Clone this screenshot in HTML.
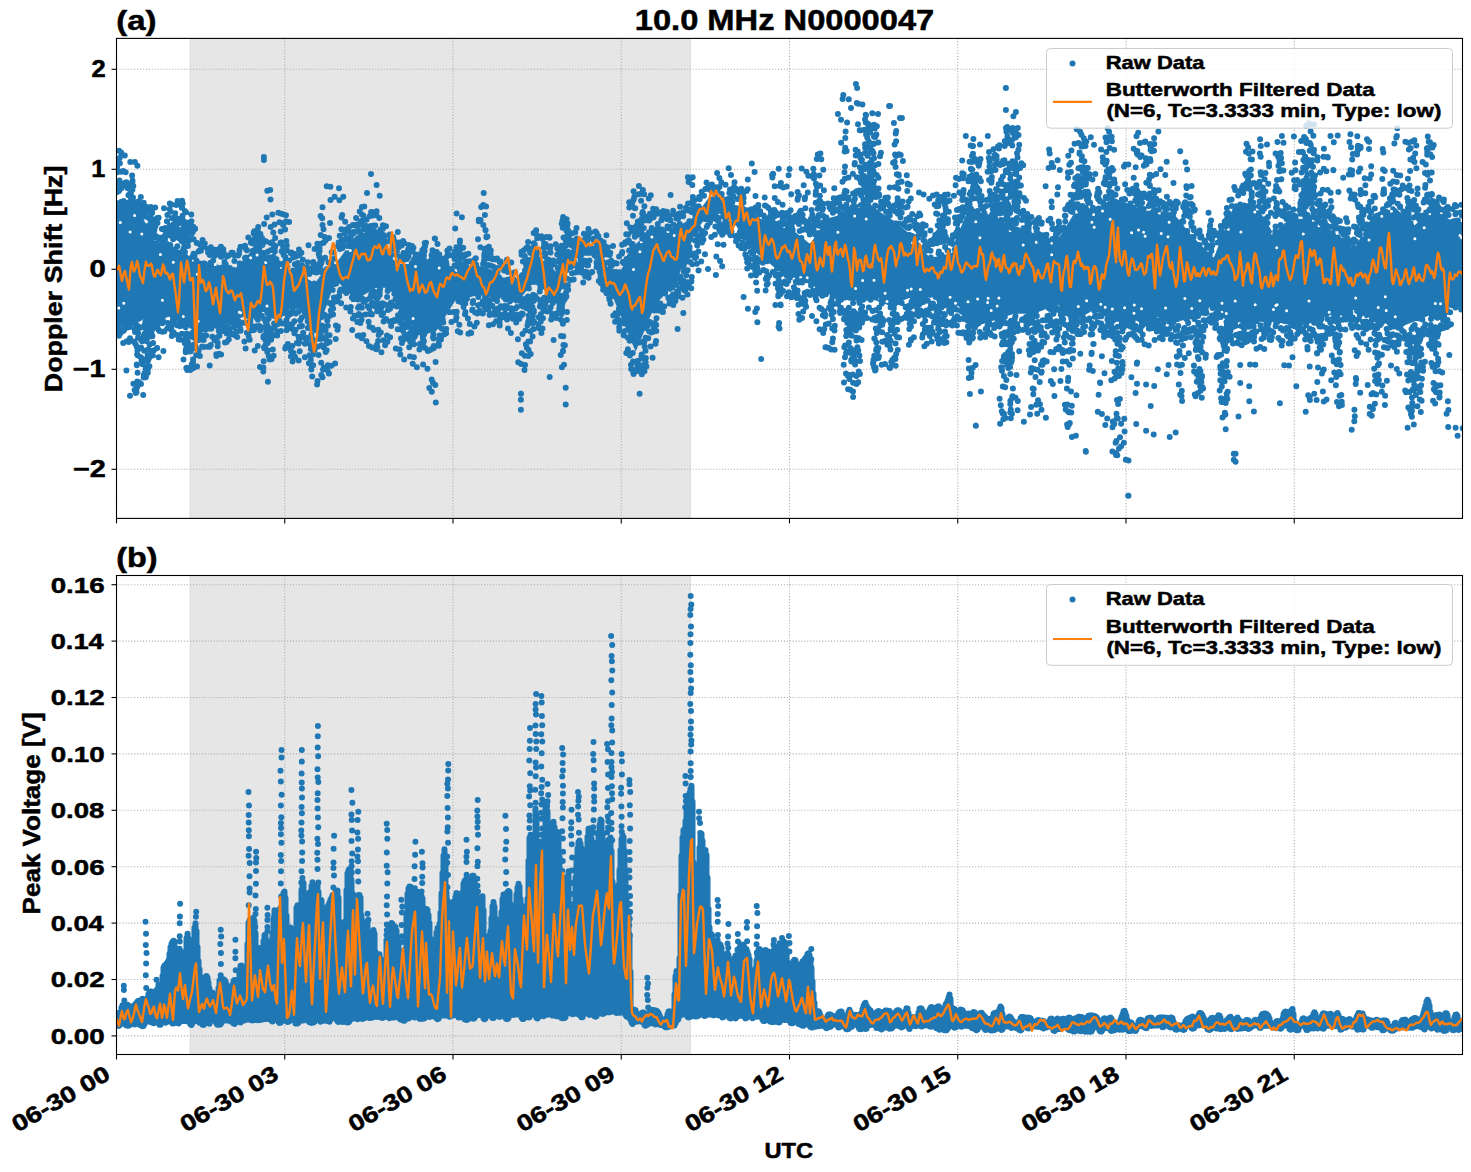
<!DOCTYPE html>
<html><head><meta charset="utf-8"><style>html,body{margin:0;padding:0;background:#fff;width:1471px;height:1172px;overflow:hidden}</style></head>
<body>
<svg width="1471" height="1172" viewBox="0 0 1471 1172" style="position:absolute;left:0;top:0">
<rect x="0" y="0" width="1471" height="1172" fill="#fff"/>
<defs><clipPath id="c1"><rect x="116.5" y="38.4" width="1346.0" height="480.0"/></clipPath><clipPath id="c2"><rect x="116.5" y="575.5" width="1346.0" height="479.0"/></clipPath></defs>
<g clip-path="url(#c1)">
<rect x="190.1" y="38.4" width="500.19999999999993" height="480.0" fill="#e6e6e6" stroke="#d9d9d9" stroke-width="1"/>
<line x1="116.50" y1="38.4" x2="116.50" y2="518.4" stroke="#b0b0b0" stroke-width="1.11" stroke-dasharray="1.11 1.83"/>
<line x1="284.75" y1="38.4" x2="284.75" y2="518.4" stroke="#b0b0b0" stroke-width="1.11" stroke-dasharray="1.11 1.83"/>
<line x1="453.00" y1="38.4" x2="453.00" y2="518.4" stroke="#b0b0b0" stroke-width="1.11" stroke-dasharray="1.11 1.83"/>
<line x1="621.25" y1="38.4" x2="621.25" y2="518.4" stroke="#b0b0b0" stroke-width="1.11" stroke-dasharray="1.11 1.83"/>
<line x1="789.50" y1="38.4" x2="789.50" y2="518.4" stroke="#b0b0b0" stroke-width="1.11" stroke-dasharray="1.11 1.83"/>
<line x1="957.75" y1="38.4" x2="957.75" y2="518.4" stroke="#b0b0b0" stroke-width="1.11" stroke-dasharray="1.11 1.83"/>
<line x1="1126.00" y1="38.4" x2="1126.00" y2="518.4" stroke="#b0b0b0" stroke-width="1.11" stroke-dasharray="1.11 1.83"/>
<line x1="1294.25" y1="38.4" x2="1294.25" y2="518.4" stroke="#b0b0b0" stroke-width="1.11" stroke-dasharray="1.11 1.83"/>
<line x1="116.5" y1="69.30" x2="1462.5" y2="69.30" stroke="#b0b0b0" stroke-width="1.11" stroke-dasharray="1.11 1.83"/>
<line x1="116.5" y1="169.30" x2="1462.5" y2="169.30" stroke="#b0b0b0" stroke-width="1.11" stroke-dasharray="1.11 1.83"/>
<line x1="116.5" y1="269.30" x2="1462.5" y2="269.30" stroke="#b0b0b0" stroke-width="1.11" stroke-dasharray="1.11 1.83"/>
<line x1="116.5" y1="369.30" x2="1462.5" y2="369.30" stroke="#b0b0b0" stroke-width="1.11" stroke-dasharray="1.11 1.83"/>
<line x1="116.5" y1="469.30" x2="1462.5" y2="469.30" stroke="#b0b0b0" stroke-width="1.11" stroke-dasharray="1.11 1.83"/>
<path d="M116.5 200 117.5 200.2 118.5 200.4 119.5 200.6 120.5 200.8 121.5 201 122.5 201.2 123.5 201.4 124.5 201.6 125.5 201.8 126.5 202 127.5 202.2 128.5 202.4 129.5 202.6 130.5 202.8 131.5 203 132.5 203.2 133.5 203.4 134.5 203.6 135.5 203.8 136.5 204.9 137.5 206.9 138.5 208.9 139.5 210.9 140.5 212.9 141.5 214.9 142.5 216.9 143.5 218.9 144.5 220.9 145.5 222.9 146.5 224.9 147.5 226.9 148.5 228.9 149.5 230.9 150.5 232.9 151.5 234.9 152.5 236.9 153.5 238.9 154.5 240.9 155.5 242.9 156.5 244 157.5 244.2 158.5 244.4 159.5 244.6 160.5 244.8 161.5 245 162.5 245.2 163.5 245.4 164.5 245.6 165.5 245.8 166.5 246 167.5 246.2 168.5 246.4 169.5 246.6 170.5 246.8 171.5 247 172.5 247.2 173.5 247.4 174.5 247.6 175.5 247.8 176.5 248.2 177.5 248.8 178.5 249.4 179.5 250 180.5 250.6 181.5 251.2 182.5 251.8 183.5 252.4 184.5 253 185.5 253.6 186.5 254.2 187.5 254.8 188.5 255.4 189.5 256 190.5 256.6 191.5 257.2 192.5 257.8 193.5 258.4 194.5 259 195.5 259.6 196.5 260 197.5 260.2 198.5 260.4 199.5 260.6 200.5 260.8 201.5 261 202.5 261.2 203.5 261.4 204.5 261.6 205.5 261.8 206.5 262 207.5 262.2 208.5 262.4 209.5 262.6 210.5 262.8 211.5 263 212.5 263.2 213.5 263.4 214.5 263.6 215.5 263.8 216.5 264.1 217.5 264.5 218.5 264.9 219.5 265.3 220.5 265.7 221.5 266.1 222.5 266.5 223.5 266.9 224.5 267.3 225.5 267.7 226.5 268.1 227.5 268.5 228.5 268.9 229.5 269.3 230.5 269.7 231.5 270.1 232.5 270.5 233.5 270.9 234.5 271.3 235.5 271.7 236.5 271 237.5 269.6 238.5 268.2 239.5 266.8 240.5 265.4 241.5 264 242.5 262.6 243.5 261.2 244.5 259.8 245.5 258.4 246.5 257 247.5 255.6 248.5 254.2 249.5 252.8 250.5 251.4 251.5 250 252.5 248.6 253.5 247.2 254.5 245.8 255.5 244.4 256.5 244.6 257.5 245.8 258.5 247 259.5 248.2 260.5 249.4 261.5 250.6 262.5 251.8 263.5 253 264.5 254.2 265.5 255.4 266.5 256.6 267.5 257.8 268.5 259 269.5 260.2 270.5 261.4 271.5 262.6 272.5 263.8 273.5 265 274.5 266.2 275.5 267.4 276.5 268 277.5 268.2 278.5 268.4 279.5 268.6 280.5 268.8 281.5 269 282.5 269.2 283.5 269.4 284.5 269.6 285.5 269.8 286.5 270 287.5 270.2 288.5 270.4 289.5 270.6 290.5 270.8 291.5 271 292.5 271.2 293.5 271.4 294.5 271.6 295.5 271.8 296.5 272.2 297.5 272.8 298.5 273.4 299.5 274 300.5 274.6 301.5 275.2 302.5 275.8 303.5 276.4 304.5 277 305.5 277.6 306.5 278.2 307.5 278.8 308.5 279.4 309.5 280 310.5 280.6 311.5 281.2 312.5 281.8 313.5 282.4 314.5 283 315.5 283.6 316.5 283.2 317.5 282.2 318.5 281.2 319.5 280.2 320.5 279.2 321.5 278.2 322.5 277.2 323.5 276.2 324.5 275.2 325.5 274.2 326.5 273.2 327.5 272.2 328.5 271.2 329.5 270.2 330.5 269.2 331.5 268.2 332.5 267.2 333.5 266.2 334.5 265.2 335.5 264.2 336.5 262.9 337.5 261.5 338.5 260.1 339.5 258.7 340.5 257.3 341.5 255.9 342.5 254.5 343.5 253.1 344.5 251.7 345.5 250.3 346.5 248.9 347.5 247.5 348.5 246.1 349.5 244.7 350.5 243.3 351.5 241.9 352.5 240.5 353.5 239.1 354.5 237.7 355.5 236.3 356.5 235.6 357.5 235.2 358.5 234.8 359.5 234.4 360.5 234 361.5 233.6 362.5 233.2 363.5 232.8 364.5 232.4 365.5 232 366.5 231.6 367.5 231.2 368.5 230.8 369.5 230.4 370.5 230 371.5 229.6 372.5 229.2 373.5 228.8 374.5 228.4 375.5 228 376.5 229.1 377.5 230.9 378.5 232.7 379.5 234.5 380.5 236.3 381.5 238.1 382.5 239.9 383.5 241.7 384.5 243.5 385.5 245.3 386.5 247.1 387.5 248.9 388.5 250.7 389.5 252.5 390.5 254.3 391.5 256.1 392.5 257.9 393.5 259.7 394.5 261.5 395.5 263.3 396.5 263.9 397.5 263.9 398.5 263.9 399.5 263.9 400.5 263.9 401.5 263.9 402.5 263.9 403.5 263.9 404.5 263.9 405.5 263.9 406.5 263.9 407.5 263.9 408.5 263.9 409.5 263.9 410.5 263.9 411.5 263.9 412.5 263.9 413.5 263.9 414.5 263.9 415.5 263.9 416.5 263.6 417.5 263.2 418.5 262.8 419.5 262.4 420.5 262 421.5 261.6 422.5 261.2 423.5 260.8 424.5 260.4 425.5 260 426.5 259.6 427.5 259.2 428.5 258.8 429.5 258.4 430.5 258 431.5 257.6 432.5 257.2 433.5 256.8 434.5 256.4 435.5 256 436.5 256.4 437.5 257.2 438.5 258 439.5 258.8 440.5 259.6 441.5 260.4 442.5 261.2 443.5 262 444.5 262.8 445.5 263.6 446.5 264.4 447.5 265.2 448.5 266 449.5 266.8 450.5 267.6 451.5 268.4 452.5 269.2 453.5 270 454.5 270.8 455.5 271.6 456.5 271.9 457.5 271.9 458.5 271.9 459.5 271.9 460.5 271.9 461.5 271.9 462.5 271.9 463.5 271.9 464.5 271.9 465.5 271.9 466.5 271.9 467.5 271.9 468.5 271.9 469.5 271.9 470.5 271.9 471.5 271.9 472.5 271.9 473.5 271.9 474.5 271.9 475.5 271.9 476.5 272 477.5 272.2 478.5 272.4 479.5 272.6 480.5 272.8 481.5 273 482.5 273.2 483.5 273.4 484.5 273.6 485.5 273.8 486.5 274 487.5 274.2 488.5 274.4 489.5 274.6 490.5 274.8 491.5 275 492.5 275.2 493.5 275.4 494.5 275.6 495.5 275.8 496.5 276 497.5 276.2 498.5 276.4 499.5 276.6 500.5 276.8 501.5 277 502.5 277.2 503.5 277.4 504.5 277.6 505.5 277.8 506.5 278 507.5 278.2 508.5 278.4 509.5 278.6 510.5 278.8 511.5 279 512.5 279.2 513.5 279.4 514.5 279.6 515.5 279.8 516.5 278.6 517.5 277 518.5 275.4 519.5 273.8 520.5 272.2 521.5 270.6 522.5 269 523.5 267.4 524.5 265.8 525.5 264.2 526.5 262.6 527.5 261 528.5 259.4 529.5 257.8 530.5 256.2 531.5 254.6 532.5 253 533.5 251.4 534.5 249.8 535.5 248.2 536.5 248.8 537.5 250 538.5 251.2 539.5 252.4 540.5 253.6 541.5 254.8 542.5 256 543.5 257.2 544.5 258.4 545.5 259.6 546.5 260.8 547.5 262 548.5 263.2 549.5 264.4 550.5 265.6 551.5 266.8 552.5 268 553.5 269.2 554.5 270.4 555.5 271.6 556.5 270.7 557.5 269.3 558.5 267.9 559.5 266.5 560.5 265.1 561.5 263.7 562.5 262.3 563.5 260.9 564.5 259.5 565.5 258.1 566.5 256.7 567.5 255.3 568.5 253.9 569.5 252.5 570.5 251.1 571.5 249.7 572.5 248.3 573.5 246.9 574.5 245.5 575.5 244.1 576.5 244 577.5 244.2 578.5 244.4 579.5 244.6 580.5 244.8 581.5 245 582.5 245.2 583.5 245.4 584.5 245.6 585.5 245.8 586.5 246 587.5 246.2 588.5 246.4 589.5 246.6 590.5 246.8 591.5 247 592.5 247.2 593.5 247.4 594.5 247.6 595.5 247.8 596.5 249.2 597.5 250.8 598.5 252.4 599.5 254 600.5 255.6 601.5 257.2 602.5 258.8 603.5 260.4 604.5 262 605.5 263.6 606.5 265.2 607.5 266.8 608.5 268.4 609.5 270 610.5 271.6 611.5 273.2 612.5 274.8 613.5 276.4 614.5 278 615.5 279.6 616.5 278.3 617.5 276.5 618.5 274.7 619.5 272.9 620.5 271.1 621.5 269.3 622.5 267.5 623.5 265.7 624.5 263.9 625.5 262.1 626.5 260.3 627.5 258.5 628.5 256.7 629.5 254.9 630.5 253.1 631.5 251.3 632.5 249.5 633.5 247.7 634.5 245.9 635.5 244.1 636.5 243.2 637.5 242.4 638.5 241.6 639.5 240.8 640.5 240 641.5 239.2 642.5 238.4 643.5 237.6 644.5 236.8 645.5 236 646.5 235.2 647.5 234.4 648.5 233.6 649.5 232.8 650.5 232 651.5 231.2 652.5 230.4 653.5 229.6 654.5 228.8 655.5 228 656.5 227.9 657.5 227.9 658.5 227.9 659.5 227.9 660.5 227.9 661.5 227.9 662.5 227.9 663.5 227.9 664.5 227.9 665.5 227.9 666.5 227.9 667.5 227.9 668.5 227.9 669.5 227.9 670.5 227.9 671.5 227.9 672.5 227.9 673.5 227.9 674.5 227.9 675.5 227.9 676.5 227.4 677.5 226.8 678.5 226.2 679.5 225.6 680.5 225 681.5 224.4 682.5 223.8 683.5 223.2 684.5 222.6 685.5 222 686.5 221.4 687.5 220.8 688.5 220.2 689.5 219.6 690.5 219 691.5 218.4 692.5 217.8 693.5 217.2 694.5 216.6 695.5 216 696.5 214.6 697.5 213.3 698.5 211.9 699.5 210.5 700.5 209.1 701.5 207.7 702.5 206.3 703.5 204.9 704.5 203.5 705.5 202.1 706.5 200.8 707.5 199.4 708.5 198 709.5 196.6 710.5 196.1 711.5 196.5 712.5 196.9 713.5 197.3 714.5 197.7 715.5 198.1 716.5 198.5 717.5 198.9 718.5 199.3 719.5 199.7 720.5 200.1 721.5 200.5 722.5 200.9 723.5 201.3 724.5 201.7 725.5 202.1 726.5 202.5 727.5 202.9 728.5 203.3 729.5 203.7 730.5 204 731.5 204.2 732.5 204.4 733.5 204.6 734.5 204.8 735.5 205 736.5 205.2 737.5 205.4 738.5 205.6 739.5 205.8 740.5 206 741.5 206.2 742.5 206.4 743.5 206.6 744.5 206.8 745.5 207 746.5 207.2 747.5 207.4 748.5 207.6 749.5 207.8 750.5 208.4 751.5 209.4 752.5 210.4 753.5 211.4 754.5 212.4 755.5 213.4 756.5 214.4 757.5 215.4 758.5 216.4 759.5 217.4 760.5 218.4 761.5 219.4 762.5 220.4 763.5 221.4 764.5 222.4 765.5 223.4 766.5 224.4 767.5 225.4 768.5 226.4 769.5 227.4 770.5 227.9 771.5 227.9 772.5 227.9 773.5 227.9 774.5 227.9 775.5 227.9 776.5 227.9 777.5 227.9 778.5 227.9 779.5 227.9 780.5 227.9 781.5 227.9 782.5 227.9 783.5 227.9 784.5 227.9 785.5 227.9 786.5 227.9 787.5 227.9 788.5 227.9 789.5 227.9 790.5 228.3 791.5 229.1 792.5 229.9 793.5 230.7 794.5 231.5 795.5 232.3 796.5 233.1 797.5 233.9 798.5 234.7 799.5 235.5 800.5 236.3 801.5 237.1 802.5 237.9 803.5 238.7 804.5 239.5 805.5 240.3 806.5 241.1 807.5 241.9 808.5 242.7 809.5 243.5 810.5 243.1 811.5 241.7 812.5 240.3 813.5 238.9 814.5 237.5 815.5 236.1 816.5 234.7 817.5 233.3 818.5 231.9 819.5 230.5 820.5 229.1 821.5 227.9 822.5 226.7 823.5 225.4 824.5 224.2 825.5 223 826.5 221.7 827.5 220.5 828.5 219.3 829.5 218 830.5 217.4 831.5 217.2 832.5 216.9 833.5 216.7 834.5 216.5 835.5 216.2 836.5 216 837.5 215.8 838.5 215.5 839.5 215.3 840.5 215.1 841.5 214.8 842.5 214.6 843.5 214.4 844.5 214.1 845.5 213.9 846.5 213.7 847.5 213.4 848.5 213.2 849.5 213 850.5 212.6 851.5 212.2 852.5 211.7 853.5 211.3 854.5 210.9 855.5 210.4 856.5 210 857.5 209.6 858.5 209.1 859.5 208.7 860.5 208.3 861.5 207.8 862.5 207.4 863.5 207 864.5 206.5 865.5 206.1 866.5 205.7 867.5 205.2 868.5 204.8 869.5 204.4 870.5 204.7 871.5 205.5 872.5 206.2 873.5 207 874.5 207.8 875.5 208.5 876.5 209.3 877.5 210.1 878.5 210.8 879.5 211.6 880.5 212.3 881.5 212.9 882.5 213.5 883.5 214.1 884.5 214.7 885.5 215.3 886.5 215.9 887.5 216.5 888.5 217.1 889.5 217.7 890.5 218.4 891.5 219.2 892.5 220 893.5 220.8 894.5 221.6 895.5 222.4 896.5 223.2 897.5 224 898.5 224.8 899.5 225.6 900.5 226.4 901.5 227.2 902.5 228 903.5 228.8 904.5 229.6 905.5 230.4 906.5 231.2 907.5 232 908.5 232.8 909.5 233.6 910.5 234.7 911.5 235.9 912.5 237.1 913.5 238.3 914.5 239.5 915.5 240.7 916.5 241.9 917.5 243.1 918.5 244.3 919.5 245.5 920.5 246.7 921.5 247.9 922.5 249.1 923.5 250.3 924.5 251.5 925.5 252.7 926.5 253.9 927.5 255.1 928.5 256.3 929.5 257.5 930.5 257.7 931.5 257.5 932.5 257.3 933.5 257.1 934.5 256.9 935.5 256.7 936.5 256.5 937.5 256.3 938.5 256.1 939.5 255.9 940.5 255.7 941.5 255.5 942.5 255.3 943.5 255.1 944.5 254.9 945.5 254.7 946.5 254.5 947.5 254.3 948.5 254.1 949.5 253.9 950.5 252.2 951.5 249.8 952.5 247.4 953.5 245 954.5 242.6 955.5 240.2 956.5 237.8 957.5 235.4 958.5 233 959.5 230.6 960.5 228.2 961.5 225.8 962.5 223.4 963.5 221 964.5 218.6 965.5 216.2 966.5 213.8 967.5 211.4 968.5 209 969.5 206.6 970.5 206.3 971.5 206.9 972.5 207.5 973.5 208.1 974.5 208.7 975.5 209.3 976.5 209.9 977.5 210.5 978.5 211.1 979.5 211.7 980.5 212.3 981.5 212.9 982.5 213.5 983.5 214.1 984.5 214.7 985.5 215.3 986.5 215.9 987.5 216.5 988.5 217.1 989.5 217.7 990.5 218.1 991.5 218.5 992.5 218.8 993.5 219.1 994.5 219.5 995.5 219.8 996.5 220.1 997.5 220.5 998.5 220.8 999.5 221.1 1000.5 221.4 1001.5 221.8 1002.5 222.1 1003.5 222.4 1004.5 222.8 1005.5 223.1 1006.5 223.4 1007.5 223.8 1008.5 224.1 1009.5 224.4 1010.5 224.8 1011.5 225.1 1012.5 225.4 1013.5 225.8 1014.5 226.1 1015.5 226.5 1016.5 226.9 1017.5 227.3 1018.5 227.7 1019.5 228.1 1020.5 228.5 1021.5 228.9 1022.5 229.3 1023.5 229.7 1024.5 230.1 1025.5 230.5 1026.5 230.9 1027.5 231.3 1028.5 231.7 1029.5 232.1 1030.5 232.5 1031.5 232.9 1032.5 233.3 1033.5 233.7 1034.5 234.3 1035.5 234.9 1036.5 235.5 1037.5 236.1 1038.5 236.7 1039.5 237.3 1040.5 237.9 1041.5 238.5 1042.5 239.1 1043.5 239.7 1044.5 240.3 1045.5 240.9 1046.5 241.5 1047.5 242.1 1048.5 242.7 1049.5 243.3 1050.5 243.9 1051.5 244.5 1052.5 245.1 1053.5 245.7 1054.5 244.9 1055.5 243.3 1056.5 241.7 1057.5 240.1 1058.5 238.5 1059.5 236.9 1060.5 235.3 1061.5 233.7 1062.5 232.1 1063.5 230.5 1064.5 228.9 1065.5 227.3 1066.5 225.7 1067.5 224.1 1068.5 222.5 1069.5 220.9 1070.5 219.3 1071.5 217.7 1072.5 216.1 1073.5 214.5 1074.5 213.8 1075.5 213.6 1076.5 213.4 1077.5 213.2 1078.5 213 1079.5 212.8 1080.5 212.6 1081.5 212.4 1082.5 212.2 1083.5 212 1084.5 211.8 1085.5 211.6 1086.5 211.4 1087.5 211.2 1088.5 211 1089.5 210.8 1090.5 210.6 1091.5 210.4 1092.5 210.2 1093.5 210 1094.5 209.5 1095.5 208.9 1096.5 208.3 1097.5 207.7 1098.5 207.1 1099.5 206.5 1100.5 205.9 1101.5 205.3 1102.5 204.7 1103.5 204.1 1104.5 203.5 1105.5 202.9 1106.5 202.3 1107.5 201.7 1108.5 201.1 1109.5 200.5 1110.5 199.9 1111.5 199.3 1112.5 198.7 1113.5 198.1 1114.5 198.2 1115.5 198.6 1116.5 199 1117.5 199.4 1118.5 199.8 1119.5 200.2 1120.5 200.6 1121.5 201 1122.5 201.4 1123.5 201.8 1124.5 202.2 1125.5 202.6 1126.5 203 1127.5 203.4 1128.5 203.8 1129.5 204.2 1130.5 204.6 1131.5 205 1132.5 205.4 1133.5 205.8 1134.5 206.3 1135.5 206.9 1136.5 207.5 1137.5 208.1 1138.5 208.7 1139.5 209.3 1140.5 209.9 1141.5 210.5 1142.5 211.1 1143.5 211.7 1144.5 212.3 1145.5 212.9 1146.5 213.5 1147.5 214.1 1148.5 214.7 1149.5 215.3 1150.5 215.9 1151.5 216.5 1152.5 217.1 1153.5 217.7 1154.5 217.8 1155.5 217.6 1156.5 217.4 1157.5 217.2 1158.5 217 1159.5 216.8 1160.5 216.6 1161.5 216.4 1162.5 216.2 1163.5 216 1164.5 215.8 1165.5 215.6 1166.5 215.4 1167.5 215.2 1168.5 215 1169.5 214.8 1170.5 214.6 1171.5 214.4 1172.5 214.2 1173.5 214 1174.5 214.7 1175.5 215.9 1176.5 217.1 1177.5 218.3 1178.5 219.5 1179.5 220.7 1180.5 221.9 1181.5 223.1 1182.5 224.3 1183.5 225.5 1184.5 226.7 1185.5 227.9 1186.5 229.1 1187.5 230.3 1188.5 231.5 1189.5 232.7 1190.5 233.9 1191.5 235.1 1192.5 236.3 1193.5 237.5 1194.5 238.6 1195.5 239.6 1196.5 240.6 1197.5 241.6 1198.5 242.6 1199.5 243.6 1200.5 244.6 1201.5 245.6 1202.5 246.6 1203.5 247.6 1204.5 248.6 1205.5 249.6 1206.5 250.6 1207.5 251.6 1208.5 252.6 1209.5 253.6 1210.5 254.6 1211.5 255.6 1212.5 256.6 1213.5 257.6 1214.5 256 1215.5 253.4 1216.5 250.8 1217.5 248.2 1218.5 245.6 1219.5 243 1220.5 240.4 1221.5 237.8 1222.5 235.2 1223.5 232.6 1224.5 230 1225.5 227.4 1226.5 224.8 1227.5 222.2 1228.5 219.6 1229.5 217 1230.5 214.4 1231.5 211.8 1232.5 209.2 1233.5 206.6 1234.5 205.8 1235.5 205.6 1236.5 205.4 1237.5 205.2 1238.5 205 1239.5 204.8 1240.5 204.6 1241.5 204.4 1242.5 204.2 1243.5 204 1244.5 203.8 1245.5 203.6 1246.5 203.4 1247.5 203.2 1248.5 203 1249.5 202.8 1250.5 202.6 1251.5 202.4 1252.5 202.2 1253.5 202 1254.5 203.1 1255.5 204.7 1256.5 206.3 1257.5 207.9 1258.5 209.5 1259.5 211.1 1260.5 212.7 1261.5 214.3 1262.5 215.9 1263.5 217.5 1264.5 219.1 1265.5 220.7 1266.5 222.3 1267.5 223.9 1268.5 225.5 1269.5 227.1 1270.5 228.7 1271.5 230.3 1272.5 231.9 1273.5 233.5 1274.5 233.4 1275.5 232.8 1276.5 232.2 1277.5 231.6 1278.5 231 1279.5 230.4 1280.5 229.8 1281.5 229.2 1282.5 228.6 1283.5 228 1284.5 227.4 1285.5 226.8 1286.5 226.2 1287.5 225.6 1288.5 225 1289.5 224.4 1290.5 223.8 1291.5 223.2 1292.5 222.6 1293.5 222 1294.5 221.6 1295.5 221.2 1296.5 220.8 1297.5 220.4 1298.5 220 1299.5 219.6 1300.5 219.2 1301.5 218.8 1302.5 218.4 1303.5 218 1304.5 217.6 1305.5 217.2 1306.5 216.8 1307.5 216.4 1308.5 216 1309.5 215.6 1310.5 215.2 1311.5 214.8 1312.5 214.4 1313.5 214 1314.5 214.7 1315.5 215.7 1316.5 216.7 1317.5 217.7 1318.5 218.7 1319.5 219.7 1320.5 220.7 1321.5 221.7 1322.5 222.7 1323.5 223.7 1324.5 224.7 1325.5 225.7 1326.5 226.7 1327.5 227.7 1328.5 228.7 1329.5 229.7 1330.5 230.7 1331.5 231.7 1332.5 232.7 1333.5 233.7 1334.5 234.5 1335.5 235.3 1336.5 236.1 1337.5 236.9 1338.5 237.7 1339.5 238.5 1340.5 239.3 1341.5 240.1 1342.5 240.9 1343.5 241.7 1344.5 242.5 1345.5 243.3 1346.5 244.1 1347.5 244.9 1348.5 245.7 1349.5 246.5 1350.5 247.3 1351.5 248.1 1352.5 248.9 1353.5 249.7 1354.5 248.4 1355.5 246.6 1356.5 244.8 1357.5 243 1358.5 241.2 1359.5 239.4 1360.5 237.6 1361.5 235.8 1362.5 234 1363.5 232.2 1364.5 230.4 1365.5 228.6 1366.5 226.8 1367.5 225 1368.5 223.2 1369.5 221.4 1370.5 219.6 1371.5 217.8 1372.5 216 1373.5 214.2 1374.5 213.6 1375.5 213.2 1376.5 212.8 1377.5 212.4 1378.5 212 1379.5 211.6 1380.5 211.2 1381.5 210.8 1382.5 210.4 1383.5 210 1384.5 209.6 1385.5 209.2 1386.5 208.8 1387.5 208.4 1388.5 208 1389.5 207.6 1390.5 207.2 1391.5 206.8 1392.5 206.4 1393.5 206 1394.5 206.8 1395.5 207.8 1396.5 208.8 1397.5 209.8 1398.5 210.8 1399.5 211.8 1400.5 212.8 1401.5 213.8 1402.5 214.8 1403.5 215.8 1404.5 216.8 1405.5 217.8 1406.5 218.8 1407.5 219.8 1408.5 220.8 1409.5 221.8 1410.5 222.8 1411.5 223.8 1412.5 224.8 1413.5 225.8 1414.5 225.2 1415.5 224.4 1416.5 223.6 1417.5 222.8 1418.5 222 1419.5 221.2 1420.5 220.4 1421.5 219.6 1422.5 218.8 1423.5 218 1424.5 217.2 1425.5 216.4 1426.5 215.6 1427.5 214.8 1428.5 214 1429.5 213.2 1430.5 212.4 1431.5 211.6 1432.5 210.8 1433.5 210 1434.5 210.4 1435.5 211 1436.5 211.6 1437.5 212.2 1438.5 212.8 1439.5 213.4 1440.5 214 1441.5 214.6 1442.5 215.2 1443.5 215.8 1444.5 216.4 1445.5 217 1446.5 217.6 1447.5 218.2 1448.5 218.8 1449.5 219.4 1450.5 220 1451.5 220.6 1452.5 221.2 1453.5 221.8 1454.5 221.9 1455.5 221.9 1456.5 221.9 1457.5 221.9 1458.5 221.9 1459.5 221.9 1460.5 221.9 1461.5 221.9 1462.5 221.9 1462.5 305.8 1461.5 305.8 1460.5 305.8 1459.5 305.8 1458.5 305.8 1457.5 305.8 1456.5 305.8 1455.5 305.8 1454.5 305.8 1453.5 305.8 1452.5 306.2 1451.5 306.6 1450.5 307 1449.5 307.4 1448.5 307.8 1447.5 308.2 1446.5 308.6 1445.5 309 1444.5 309.4 1443.5 309.8 1442.5 310.2 1441.5 310.6 1440.5 311 1439.5 311.4 1438.5 311.8 1437.5 312.2 1436.5 312.6 1435.5 313 1434.5 313.4 1433.5 313.8 1432.5 314.2 1431.5 314.6 1430.5 315 1429.5 315.4 1428.5 315.8 1427.5 316.2 1426.5 316.6 1425.5 317 1424.5 317.4 1423.5 317.8 1422.5 318.2 1421.5 318.6 1420.5 319 1419.5 319.4 1418.5 319.8 1417.5 320.2 1416.5 320.6 1415.5 321 1414.5 321.4 1413.5 321.8 1412.5 322.2 1411.5 322.6 1410.5 323 1409.5 323.4 1408.5 323.8 1407.5 324.2 1406.5 324.6 1405.5 325 1404.5 325.4 1403.5 325.8 1402.5 326.2 1401.5 326.6 1400.5 327 1399.5 327.4 1398.5 327.8 1397.5 328.2 1396.5 328.6 1395.5 329 1394.5 329.4 1393.5 329.7 1392.5 328.9 1391.5 328.1 1390.5 327.3 1389.5 326.5 1388.5 325.7 1387.5 324.9 1386.5 324.1 1385.5 323.3 1384.5 322.5 1383.5 321.7 1382.5 320.9 1381.5 320.1 1380.5 319.3 1379.5 318.5 1378.5 317.7 1377.5 316.9 1376.5 316.1 1375.5 315.3 1374.5 314.5 1373.5 313.8 1372.5 313.6 1371.5 313.4 1370.5 313.2 1369.5 313 1368.5 312.8 1367.5 312.6 1366.5 312.4 1365.5 312.2 1364.5 312 1363.5 311.8 1362.5 311.6 1361.5 311.4 1360.5 311.2 1359.5 311 1358.5 310.8 1357.5 310.6 1356.5 310.4 1355.5 310.2 1354.5 310 1353.5 309.8 1352.5 310 1351.5 310.2 1350.5 310.4 1349.5 310.6 1348.5 310.8 1347.5 311 1346.5 311.2 1345.5 311.4 1344.5 311.6 1343.5 311.8 1342.5 312 1341.5 312.2 1340.5 312.4 1339.5 312.6 1338.5 312.8 1337.5 313 1336.5 313.2 1335.5 313.4 1334.5 313.6 1333.5 313.9 1332.5 314.3 1331.5 314.7 1330.5 315.1 1329.5 315.5 1328.5 315.9 1327.5 316.3 1326.5 316.7 1325.5 317.1 1324.5 317.5 1323.5 317.9 1322.5 318.3 1321.5 318.7 1320.5 319.1 1319.5 319.5 1318.5 319.9 1317.5 320.3 1316.5 320.7 1315.5 321.1 1314.5 321.5 1313.5 321.8 1312.5 322 1311.5 322.2 1310.5 322.4 1309.5 322.6 1308.5 322.8 1307.5 323 1306.5 323.2 1305.5 323.4 1304.5 323.6 1303.5 323.8 1302.5 324 1301.5 324.2 1300.5 324.4 1299.5 324.6 1298.5 324.8 1297.5 325 1296.5 325.2 1295.5 325.4 1294.5 325.6 1293.5 325.7 1292.5 325.5 1291.5 325.3 1290.5 325.1 1289.5 324.9 1288.5 324.7 1287.5 324.5 1286.5 324.3 1285.5 324.1 1284.5 323.9 1283.5 323.7 1282.5 323.5 1281.5 323.3 1280.5 323.1 1279.5 322.9 1278.5 322.7 1277.5 322.5 1276.5 322.3 1275.5 322.1 1274.5 321.9 1273.5 321.8 1272.5 321.8 1271.5 321.8 1270.5 321.8 1269.5 321.8 1268.5 321.8 1267.5 321.8 1266.5 321.8 1265.5 321.8 1264.5 321.8 1263.5 321.8 1262.5 321.8 1261.5 321.8 1260.5 321.8 1259.5 321.8 1258.5 321.8 1257.5 321.8 1256.5 321.8 1255.5 321.8 1254.5 321.8 1253.5 321.9 1252.5 322.3 1251.5 322.7 1250.5 323.1 1249.5 323.5 1248.5 323.9 1247.5 324.3 1246.5 324.7 1245.5 325.1 1244.5 325.5 1243.5 325.9 1242.5 326.3 1241.5 326.7 1240.5 327.1 1239.5 327.5 1238.5 327.9 1237.5 328.3 1236.5 328.7 1235.5 329.1 1234.5 329.5 1233.5 329.5 1232.5 328.3 1231.5 327.1 1230.5 325.9 1229.5 324.7 1228.5 323.5 1227.5 322.3 1226.5 321.1 1225.5 319.9 1224.5 318.7 1223.5 317.5 1222.5 316.3 1221.5 315.1 1220.5 313.9 1219.5 312.7 1218.5 311.5 1217.5 310.3 1216.5 309.1 1215.5 307.9 1214.5 306.7 1213.5 305.9 1212.5 306.3 1211.5 306.7 1210.5 307.1 1209.5 307.5 1208.5 307.9 1207.5 308.3 1206.5 308.7 1205.5 309.1 1204.5 309.5 1203.5 309.9 1202.5 310.3 1201.5 310.7 1200.5 311.1 1199.5 311.5 1198.5 311.9 1197.5 312.3 1196.5 312.7 1195.5 313.1 1194.5 313.5 1193.5 313.9 1192.5 314.3 1191.5 314.7 1190.5 315.1 1189.5 315.5 1188.5 315.9 1187.5 316.3 1186.5 316.7 1185.5 317.1 1184.5 317.5 1183.5 317.9 1182.5 318.3 1181.5 318.7 1180.5 319.1 1179.5 319.5 1178.5 319.9 1177.5 320.3 1176.5 320.7 1175.5 321.1 1174.5 321.5 1173.5 321.8 1172.5 321.8 1171.5 321.8 1170.5 321.8 1169.5 321.8 1168.5 321.8 1167.5 321.8 1166.5 321.8 1165.5 321.8 1164.5 321.8 1163.5 321.8 1162.5 321.8 1161.5 321.8 1160.5 321.8 1159.5 321.8 1158.5 321.8 1157.5 321.8 1156.5 321.8 1155.5 321.8 1154.5 321.8 1153.5 321.8 1152.5 321.8 1151.5 321.8 1150.5 321.8 1149.5 321.8 1148.5 321.8 1147.5 321.8 1146.5 321.8 1145.5 321.8 1144.5 321.8 1143.5 321.8 1142.5 321.8 1141.5 321.8 1140.5 321.8 1139.5 321.8 1138.5 321.8 1137.5 321.8 1136.5 321.8 1135.5 321.8 1134.5 321.8 1133.5 321.8 1132.5 321.8 1131.5 321.8 1130.5 321.8 1129.5 321.8 1128.5 321.8 1127.5 321.8 1126.5 321.8 1125.5 321.8 1124.5 321.8 1123.5 321.8 1122.5 321.8 1121.5 321.8 1120.5 321.8 1119.5 321.8 1118.5 321.8 1117.5 321.8 1116.5 321.8 1115.5 321.8 1114.5 321.8 1113.5 321.6 1112.5 321 1111.5 320.4 1110.5 319.8 1109.5 319.2 1108.5 318.6 1107.5 318 1106.5 317.4 1105.5 316.8 1104.5 316.2 1103.5 315.6 1102.5 315 1101.5 314.4 1100.5 313.8 1099.5 313.2 1098.5 312.6 1097.5 312 1096.5 311.4 1095.5 310.8 1094.5 310.2 1093.5 310 1092.5 310.6 1091.5 311.2 1090.5 311.8 1089.5 312.4 1088.5 313 1087.5 313.6 1086.5 314.2 1085.5 314.8 1084.5 315.4 1083.5 316 1082.5 316.6 1081.5 317.2 1080.5 317.8 1079.5 318.4 1078.5 319 1077.5 319.6 1076.5 320.2 1075.5 320.8 1074.5 321.4 1073.5 321.5 1072.5 320.7 1071.5 319.9 1070.5 319.1 1069.5 318.3 1068.5 317.5 1067.5 316.7 1066.5 315.9 1065.5 315.1 1064.5 314.3 1063.5 313.5 1062.5 312.7 1061.5 311.9 1060.5 311.1 1059.5 310.3 1058.5 309.5 1057.5 308.7 1056.5 307.9 1055.5 307.1 1054.5 306.3 1053.5 306 1052.5 306.4 1051.5 306.8 1050.5 307.2 1049.5 307.6 1048.5 308 1047.5 308.4 1046.5 308.8 1045.5 309.2 1044.5 309.6 1043.5 310 1042.5 310.4 1041.5 310.8 1040.5 311.2 1039.5 311.6 1038.5 312 1037.5 312.4 1036.5 312.8 1035.5 313.2 1034.5 313.6 1033.5 313.8 1032.5 313.8 1031.5 313.8 1030.5 313.8 1029.5 313.8 1028.5 313.8 1027.5 313.8 1026.5 313.8 1025.5 313.8 1024.5 313.8 1023.5 313.8 1022.5 313.8 1021.5 313.8 1020.5 313.8 1019.5 313.8 1018.5 313.8 1017.5 313.8 1016.5 313.8 1015.5 313.8 1014.5 313.8 1013.5 313.9 1012.5 314.3 1011.5 314.6 1010.5 314.9 1009.5 315.3 1008.5 315.6 1007.5 315.9 1006.5 316.3 1005.5 316.6 1004.5 316.9 1003.5 317.2 1002.5 317.6 1001.5 317.9 1000.5 318.2 999.5 318.6 998.5 318.9 997.5 319.2 996.5 319.6 995.5 319.9 994.5 320.2 993.5 320.6 992.5 320.9 991.5 321.2 990.5 321.6 989.5 321.8 988.5 321.8 987.5 321.8 986.5 321.8 985.5 321.8 984.5 321.8 983.5 321.8 982.5 321.8 981.5 321.8 980.5 321.8 979.5 321.8 978.5 321.8 977.5 321.8 976.5 321.8 975.5 321.8 974.5 321.8 973.5 321.8 972.5 321.8 971.5 321.8 970.5 321.8 969.5 321.5 968.5 320.7 967.5 319.9 966.5 319.1 965.5 318.3 964.5 317.5 963.5 316.7 962.5 315.9 961.5 315.1 960.5 314.3 959.5 313.5 958.5 312.7 957.5 311.9 956.5 311.1 955.5 310.3 954.5 309.5 953.5 308.7 952.5 307.9 951.5 307.1 950.5 306.3 949.5 305.7 948.5 305.3 947.5 304.9 946.5 304.5 945.5 304.1 944.5 303.7 943.5 303.3 942.5 302.9 941.5 302.5 940.5 302.1 939.5 301.7 938.5 301.3 937.5 300.9 936.5 300.5 935.5 300.1 934.5 299.7 933.5 299.3 932.5 298.9 931.5 298.5 930.5 298.1 929.5 297.8 928.5 297.8 927.5 297.8 926.5 297.8 925.5 297.8 924.5 297.8 923.5 297.8 922.5 297.8 921.5 297.8 920.5 297.8 919.5 297.8 918.5 297.8 917.5 297.8 916.5 297.8 915.5 297.8 914.5 297.8 913.5 297.8 912.5 297.8 911.5 297.8 910.5 297.8 909.5 297.9 908.5 298.3 907.5 298.7 906.5 299.1 905.5 299.5 904.5 299.9 903.5 300.3 902.5 300.7 901.5 301.1 900.5 301.5 899.5 301.9 898.5 302.3 897.5 302.7 896.5 303.1 895.5 303.5 894.5 303.9 893.5 304.3 892.5 304.7 891.5 305.1 890.5 305.5 889.5 305.7 888.5 305.3 887.5 304.9 886.5 304.5 885.5 304.1 884.5 303.7 883.5 303.3 882.5 302.9 881.5 302.5 880.5 302.1 879.5 301.7 878.5 301.4 877.5 301.1 876.5 300.8 875.5 300.5 874.5 300.2 873.5 299.9 872.5 299.6 871.5 299.3 870.5 299 869.5 298.9 868.5 299 867.5 299.1 866.5 299.2 865.5 299.3 864.5 299.4 863.5 299.5 862.5 299.6 861.5 299.7 860.5 299.8 859.5 299.9 858.5 300 857.5 300.1 856.5 300.2 855.5 300.3 854.5 300.4 853.5 300.5 852.5 300.6 851.5 300.7 850.5 300.8 849.5 300.7 848.5 300.4 847.5 300.1 846.5 299.8 845.5 299.5 844.5 299.2 843.5 298.9 842.5 298.6 841.5 298.3 840.5 298 839.5 297.7 838.5 297.4 837.5 297.1 836.5 296.8 835.5 296.5 834.5 296.2 833.5 295.9 832.5 295.6 831.5 295.3 830.5 295 829.5 294.6 828.5 294.1 827.5 293.6 826.5 293.1 825.5 292.6 824.5 292.1 823.5 291.6 822.5 291.1 821.5 290.6 820.5 290.1 819.5 289.6 818.5 289 817.5 288.4 816.5 287.8 815.5 287.2 814.5 286.6 813.5 286 812.5 285.4 811.5 284.8 810.5 284.2 809.5 283.7 808.5 283.5 807.5 283.3 806.5 283.1 805.5 282.9 804.5 282.7 803.5 282.5 802.5 282.3 801.5 282.1 800.5 281.9 799.5 281.7 798.5 281.5 797.5 281.3 796.5 281.1 795.5 280.9 794.5 280.7 793.5 280.5 792.5 280.3 791.5 280.1 790.5 279.9 789.5 279.5 788.5 278.7 787.5 277.9 786.5 277.1 785.5 276.3 784.5 275.5 783.5 274.7 782.5 273.9 781.5 273.1 780.5 272.3 779.5 271.5 778.5 270.7 777.5 269.9 776.5 269.1 775.5 268.3 774.5 267.5 773.5 266.7 772.5 265.9 771.5 265.1 770.5 264.3 769.5 263.5 768.5 262.7 767.5 261.9 766.5 261.1 765.5 260.3 764.5 259.5 763.5 258.7 762.5 257.9 761.5 257.1 760.5 256.3 759.5 255.5 758.5 254.7 757.5 253.9 756.5 253.1 755.5 252.3 754.5 251.5 753.5 250.7 752.5 249.9 751.5 249.1 750.5 248.3 749.5 247.1 748.5 245.5 747.5 243.9 746.5 242.3 745.5 240.7 744.5 239.1 743.5 237.5 742.5 235.9 741.5 234.3 740.5 232.7 739.5 231.1 738.5 229.5 737.5 227.9 736.5 226.3 735.5 224.7 734.5 223.1 733.5 221.5 732.5 219.9 731.5 218.3 730.5 216.7 729.5 215.8 728.5 215.6 727.5 215.4 726.5 215.2 725.5 215 724.5 214.8 723.5 214.6 722.5 214.4 721.5 214.2 720.5 214 719.5 213.8 718.5 213.6 717.5 213.4 716.5 213.2 715.5 213 714.5 212.8 713.5 212.6 712.5 212.4 711.5 212.2 710.5 212 709.5 212.5 708.5 213.9 707.5 215.3 706.5 216.7 705.5 218.1 704.5 219.5 703.5 220.9 702.5 222.3 701.5 223.7 700.5 225.1 699.5 226.4 698.5 227.8 697.5 229.2 696.5 230.6 695.5 232.1 694.5 234.7 693.5 237.3 692.5 239.9 691.5 242.5 690.5 245.1 689.5 247.7 688.5 250.3 687.5 252.9 686.5 255.5 685.5 258.1 684.5 260.7 683.5 263.3 682.5 265.9 681.5 268.5 680.5 271.1 679.5 273.7 678.5 276.3 677.5 278.9 676.5 281.5 675.5 283.9 674.5 284.9 673.5 285.9 672.5 286.9 671.5 287.9 670.5 288.9 669.5 289.9 668.5 290.9 667.5 291.9 666.5 292.9 665.5 293.9 664.5 294.9 663.5 295.9 662.5 296.9 661.5 297.9 660.5 298.9 659.5 299.9 658.5 300.9 657.5 301.9 656.5 302.9 655.5 304.1 654.5 306.5 653.5 308.9 652.5 311.3 651.5 313.7 650.5 316.1 649.5 318.5 648.5 320.9 647.5 323.3 646.5 325.7 645.5 328.1 644.5 330.5 643.5 332.9 642.5 335.3 641.5 337.7 640.5 340.1 639.5 342.5 638.5 344.9 637.5 347.3 636.5 349.7 635.5 351.4 634.5 349 633.5 346.6 632.5 344.2 631.5 341.8 630.5 339.4 629.5 337 628.5 334.6 627.5 332.2 626.5 329.8 625.5 327.4 624.5 325 623.5 322.6 622.5 320.2 621.5 317.8 620.5 315.4 619.5 313 618.5 310.6 617.5 308.2 616.5 305.8 615.5 303.4 614.5 301 613.5 298.6 612.5 296.2 611.5 293.8 610.5 291.4 609.5 289 608.5 286.6 607.5 284.2 606.5 281.8 605.5 279.4 604.5 277 603.5 274.6 602.5 272.2 601.5 269.8 600.5 267.4 599.5 265 598.5 262.6 597.5 260.2 596.5 257.8 595.5 255.8 594.5 255.8 593.5 255.8 592.5 255.8 591.5 255.8 590.5 255.8 589.5 255.8 588.5 255.8 587.5 255.8 586.5 255.8 585.5 255.8 584.5 255.8 583.5 255.8 582.5 255.8 581.5 255.8 580.5 255.8 579.5 255.8 578.5 255.8 577.5 255.8 576.5 255.8 575.5 256.3 574.5 258.7 573.5 261.1 572.5 263.5 571.5 265.9 570.5 268.3 569.5 270.7 568.5 273.1 567.5 275.5 566.5 277.9 565.5 280.3 564.5 282.7 563.5 285.1 562.5 287.5 561.5 289.9 560.5 292.3 559.5 294.7 558.5 297.1 557.5 299.5 556.5 301.9 555.5 303.6 554.5 302.4 553.5 301.2 552.5 300 551.5 298.8 550.5 297.6 549.5 296.4 548.5 295.2 547.5 294 546.5 292.8 545.5 291.6 544.5 290.4 543.5 289.2 542.5 288 541.5 286.8 540.5 285.6 539.5 284.4 538.5 283.2 537.5 282 536.5 280.8 535.5 280.1 534.5 281.3 533.5 282.5 532.5 283.7 531.5 284.9 530.5 286.1 529.5 287.3 528.5 288.5 527.5 289.7 526.5 290.9 525.5 292.1 524.5 293.3 523.5 294.5 522.5 295.7 521.5 296.9 520.5 298.1 519.5 299.3 518.5 300.5 517.5 301.7 516.5 302.9 515.5 303.7 514.5 303.3 513.5 302.9 512.5 302.5 511.5 302.1 510.5 301.7 509.5 301.3 508.5 300.9 507.5 300.5 506.5 300.1 505.5 299.7 504.5 299.3 503.5 298.9 502.5 298.5 501.5 298.1 500.5 297.7 499.5 297.3 498.5 296.9 497.5 296.5 496.5 296.1 495.5 295.8 494.5 295.8 493.5 295.8 492.5 295.8 491.5 295.8 490.5 295.8 489.5 295.8 488.5 295.8 487.5 295.8 486.5 295.8 485.5 295.8 484.5 295.8 483.5 295.8 482.5 295.8 481.5 295.8 480.5 295.8 479.5 295.8 478.5 295.8 477.5 295.8 476.5 295.8 475.5 295.9 474.5 296.1 473.5 296.3 472.5 296.5 471.5 296.7 470.5 296.9 469.5 297.1 468.5 297.3 467.5 297.5 466.5 297.7 465.5 297.9 464.5 298.1 463.5 298.3 462.5 298.5 461.5 298.7 460.5 298.9 459.5 299.1 458.5 299.3 457.5 299.5 456.5 299.7 455.5 300.2 454.5 301.8 453.5 303.4 452.5 305 451.5 306.6 450.5 308.2 449.5 309.8 448.5 311.4 447.5 313 446.5 314.6 445.5 316.2 444.5 317.8 443.5 319.4 442.5 321 441.5 322.6 440.5 324.2 439.5 325.8 438.5 327.4 437.5 329 436.5 330.6 435.5 331.8 434.5 332 433.5 332.2 432.5 332.4 431.5 332.6 430.5 332.8 429.5 333 428.5 333.2 427.5 333.4 426.5 333.6 425.5 333.8 424.5 334 423.5 334.2 422.5 334.4 421.5 334.6 420.5 334.8 419.5 335 418.5 335.2 417.5 335.4 416.5 335.6 415.5 335.1 414.5 332.7 413.5 330.3 412.5 327.9 411.5 325.5 410.5 323.1 409.5 320.7 408.5 318.3 407.5 315.9 406.5 313.5 405.5 311.1 404.5 308.7 403.5 306.3 402.5 303.9 401.5 301.5 400.5 299.1 399.5 296.7 398.5 294.3 397.5 291.9 396.5 289.5 395.5 287.8 394.5 287.8 393.5 287.8 392.5 287.8 391.5 287.8 390.5 287.8 389.5 287.8 388.5 287.8 387.5 287.8 386.5 287.8 385.5 287.8 384.5 287.8 383.5 287.8 382.5 287.8 381.5 287.8 380.5 287.8 379.5 287.8 378.5 287.8 377.5 287.8 376.5 287.8 375.5 288 374.5 288.6 373.5 289.2 372.5 289.8 371.5 290.4 370.5 291 369.5 291.6 368.5 292.2 367.5 292.8 366.5 293.4 365.5 294 364.5 294.6 363.5 295.2 362.5 295.8 361.5 296.4 360.5 297 359.5 297.6 358.5 298.2 357.5 298.8 356.5 299.4 355.5 299.5 354.5 298.5 353.5 297.5 352.5 296.5 351.5 295.5 350.5 294.5 349.5 293.5 348.5 292.5 347.5 291.5 346.5 290.5 345.5 289.5 344.5 288.5 343.5 287.5 342.5 286.5 341.5 285.5 340.5 284.5 339.5 283.5 338.5 282.5 337.5 281.5 336.5 280.5 335.5 280.8 334.5 283.6 333.5 286.4 332.5 289.2 331.5 292 330.5 294.8 329.5 297.6 328.5 300.4 327.5 303.2 326.5 306 325.5 308.8 324.5 311.6 323.5 314.4 322.5 317.2 321.5 320 320.5 322.8 319.5 325.6 318.5 328.4 317.5 331.2 316.5 334 315.5 335.2 314.5 333.6 313.5 332 312.5 330.4 311.5 328.8 310.5 327.2 309.5 325.6 308.5 324 307.5 322.4 306.5 320.8 305.5 319.2 304.5 317.6 303.5 316 302.5 314.4 301.5 312.8 300.5 311.2 299.5 309.6 298.5 308 297.5 306.4 296.5 304.8 295.5 304.1 294.5 304.9 293.5 305.7 292.5 306.5 291.5 307.3 290.5 308.1 289.5 308.9 288.5 309.7 287.5 310.5 286.5 311.3 285.5 312.1 284.5 312.9 283.5 313.7 282.5 314.5 281.5 315.3 280.5 316.1 279.5 316.9 278.5 317.7 277.5 318.5 276.5 319.3 275.5 319.6 274.5 319.2 273.5 318.8 272.5 318.4 271.5 318 270.5 317.6 269.5 317.2 268.5 316.8 267.5 316.4 266.5 316 265.5 315.6 264.5 315.2 263.5 314.8 262.5 314.4 261.5 314 260.5 313.6 259.5 313.2 258.5 312.8 257.5 312.4 256.5 312 255.5 312 254.5 312.4 253.5 312.8 252.5 313.2 251.5 313.6 250.5 314 249.5 314.4 248.5 314.8 247.5 315.2 246.5 315.6 245.5 316 244.5 316.4 243.5 316.8 242.5 317.2 241.5 317.6 240.5 318 239.5 318.4 238.5 318.8 237.5 319.2 236.5 319.6 235.5 320 234.5 320.4 233.5 320.8 232.5 321.2 231.5 321.6 230.5 322 229.5 322.4 228.5 322.8 227.5 323.2 226.5 323.6 225.5 324 224.5 324.4 223.5 324.8 222.5 325.2 221.5 325.6 220.5 326 219.5 326.4 218.5 326.8 217.5 327.2 216.5 327.6 215.5 327.9 214.5 328.1 213.5 328.3 212.5 328.5 211.5 328.7 210.5 328.9 209.5 329.1 208.5 329.3 207.5 329.5 206.5 329.7 205.5 329.9 204.5 330.1 203.5 330.3 202.5 330.5 201.5 330.7 200.5 330.9 199.5 331.1 198.5 331.3 197.5 331.5 196.5 331.7 195.5 331.5 194.5 330.9 193.5 330.3 192.5 329.7 191.5 329.1 190.5 328.5 189.5 327.9 188.5 327.3 187.5 326.7 186.5 326.1 185.5 325.5 184.5 324.9 183.5 324.3 182.5 323.7 181.5 323.1 180.5 322.5 179.5 321.9 178.5 321.3 177.5 320.7 176.5 320.1 175.5 319.6 174.5 319.2 173.5 318.8 172.5 318.4 171.5 318 170.5 317.6 169.5 317.2 168.5 316.8 167.5 316.4 166.5 316 165.5 315.6 164.5 315.2 163.5 314.8 162.5 314.4 161.5 314 160.5 313.6 159.5 313.2 158.5 312.8 157.5 312.4 156.5 312 155.5 312.1 154.5 312.7 153.5 313.3 152.5 313.9 151.5 314.5 150.5 315.1 149.5 315.7 148.5 316.3 147.5 316.9 146.5 317.5 145.5 318.1 144.5 318.7 143.5 319.3 142.5 319.9 141.5 320.5 140.5 321.1 139.5 321.7 138.5 322.3 137.5 322.9 136.5 323.5 135.5 323.9 134.5 324.1 133.5 324.3 132.5 324.5 131.5 324.7 130.5 324.9 129.5 325.1 128.5 325.3 127.5 325.5 126.5 325.7 125.5 325.9 124.5 326.1 123.5 326.3 122.5 326.5 121.5 326.7 120.5 326.9 119.5 327.1 118.5 327.3 117.5 327.5 116.5 327.7Z" fill="#1f77b4"/>
<path d="M118.8 308h0M120.3 222.5h0M123.8 303.2h0M130.1 231.9h0M134.6 215.4h0M141.8 234h0M143.9 323.9h0M145.8 318.8h0M150.6 322.4h0M160.4 254.6h0M162.4 300.2h0M173.3 262.3h0M177.5 247.8h0M183.3 316.5h0M193.5 260.3h0M197.3 274.3h0M198.2 321.2h0M215.3 264.4h0M219.8 261h0M224.5 265.7h0M236.5 322.3h0M237.6 324.5h0M239.3 312.3h0M240.5 312.7h0M247.6 246.9h0M250.6 257.7h0M253.2 245.5h0M257.1 255.1h0M260.4 247.5h0M263.1 313.6h0M265.7 262.6h0M267 306.1h0M270.6 253.5h0M276.6 322h0M282 312h0M283.1 269.4h0M291.6 317h0M303.6 272.7h0M304.8 279.8h0M306.6 322.6h0M312.4 336.2h0M315.6 334.2h0M317 338.4h0M333.1 260.8h0M337.7 257h0M342.5 246.2h0M346.6 238.5h0M347.4 248.9h0M350.3 250.5h0M353.4 302.6h0M368.4 228.3h0M369 297.8h0M379 292.6h0M381.7 232.6h0M382.3 235.3h0M390.4 292.9h0M398 255.8h0M408.2 324.7h0M413.1 318.6h0M415.5 266.6h0M439.2 268.1h0M442.2 331.3h0M444.9 265.3h0M449.9 313.2h0M450.2 316.3h0M462 266.3h0M466 308.1h0M467.2 307.8h0M473.3 306.3h0M477.5 265.7h0M495.3 273.6h0M497 266.9h0M498.8 301.5h0M503.9 265.1h0M509.2 311.2h0M513.5 303.8h0M515.6 275.3h0M516.7 278.3h0M520.6 271h0M524.9 305.9h0M529.8 289.9h0M533.5 292.2h0M540.8 255.9h0M542.9 250.8h0M543.1 259.3h0M546.1 255h0M548.2 304.9h0M549 303.7h0M557.1 301.3h0M566.3 246.1h0M568.2 274.3h0M569.3 245h0M572.6 243.7h0M581.8 232.5h0M593 266.1h0M598.9 240.8h0M603.5 249.3h0M604.6 290.5h0M614.6 312.1h0M633.5 269.4h0M639.9 251.7h0M641.3 241.8h0M651.9 237.1h0M668 231.6h0M670.4 294.5h0M674.2 235.4h0M696.6 203.9h0M700.2 195.9h0M707.9 191.5h0M721 221.2h0M725.6 225.3h0M744.8 242.6h0M753.4 255.7h0M754.2 262.8h0M761.9 263h0M764.9 211h0M765.6 211.6h0M772.2 271.7h0M781 281.7h0M781.1 280.8h0M789.2 289.9h0M793.9 279h0M800.7 277.6h0M807.2 277.8h0M817.3 231.8h0M819 287.9h0M821.4 220h0M827.4 214h0M837.9 232.2h0M843.2 207.2h0M854.7 216h0M855.6 288.5h0M859.9 305.6h0M862.6 280.5h0M866.2 219h0M874 280.2h0M879.8 299.4h0M885.1 293.3h0M887 301.5h0M902.7 302.3h0M907.5 290.2h0M911.2 289.1h0M912.6 242.7h0M920.3 289.6h0M925.6 240.9h0M931.6 298.7h0M937 304.3h0M941.4 258.2h0M948.5 309h0M950.1 297.2h0M951 251.6h0M952.9 236.2h0M955 246h0M955.5 303.3h0M957.9 307.4h0M968 301.7h0M975.8 221.7h0M977.6 298.9h0M979.9 237.7h0M982.7 324.6h0M987.6 302.4h0M988.1 298.2h0M991.2 310.4h0M997.2 306h0M998.9 298h0M1010.2 230.5h0M1023.2 245h0M1029.8 317.9h0M1036.3 242.2h0M1045.2 230.2h0M1046.4 236h0M1051.7 254.7h0M1054.2 234.4h0M1055 244h0M1058 306.3h0M1078.3 306.6h0M1085.6 209.5h0M1086.6 300.7h0M1091.9 222.2h0M1093.6 214.6h0M1094.2 227.2h0M1100.8 304.3h0M1102.5 211h0M1105.2 307.3h0M1110.2 219.2h0M1112.3 309.1h0M1119.7 195.8h0M1124.6 307.8h0M1131.6 232.7h0M1134 313.3h0M1134.3 305h0M1135.9 322.1h0M1138.5 230.1h0M1141.5 308.8h0M1143.6 232.3h0M1145.1 236.3h0M1157.7 318.8h0M1161.2 233.6h0M1165.6 308h0M1168 236.7h0M1169.1 222.3h0M1175.8 322.1h0M1184.9 298.5h0M1191.8 308.6h0M1199.8 300.8h0M1200.6 237.7h0M1210.4 308.8h0M1221.8 312.2h0M1222 303.2h0M1226.3 313.5h0M1228.3 229.3h0M1235.2 301h0M1239.3 323.6h0M1240.9 232h0M1251.2 199h0M1254.8 212h0M1255.2 304.8h0M1257.2 209.1h0M1272.7 233.6h0M1273.5 309.6h0M1275.8 305.4h0M1276.7 247.7h0M1277.1 304.7h0M1279.8 223.5h0M1286.6 310.8h0M1287 333.2h0M1303.3 234h0M1308.8 321.6h0M1309 301h0M1313.3 220.2h0M1319 225.7h0M1320.7 325.5h0M1323.9 323.1h0M1329.2 312.3h0M1338.1 227.8h0M1355.7 297.9h0M1362 235.5h0M1369 239.9h0M1378.2 307.5h0M1381.8 216.2h0M1385.3 296.7h0M1386.2 310.4h0M1389 208.6h0M1391.4 211.3h0M1395.3 316.8h0M1400.3 208.5h0M1412 222.6h0M1413.4 218.3h0M1414.9 238.8h0M1424.2 227.7h0M1429.6 213.7h0M1435.3 303.6h0M1440.5 303.8h0M1454.4 213.6h0M1458.4 306.5h0M1459.9 216.6h0M1460 235.4h0M1461.7 237.8h0" stroke="#fff" stroke-width="3" stroke-linecap="round" fill="none"/>
<path d="M520.9 409.7h0M520.9 399.8h0M520.9 393.8h0M565.7 404.6h0M565.7 387.8h0M435.8 402.6h0M431.8 391.8h0M130 395.8h0M143.2 395h0M267.9 381.8h0M317.1 384.6h0M371 173.9h0M263.9 157.1h0M263.9 159.9h0M326.7 186.3h0M339 188.3h0M483.7 193.1h0M549.7 377h0M639.6 393.8h0M761.2 359h0M853.1 397h0M975.8 425.7h0M1085.7 450.9h0M1128.5 460.5h0M1128.5 495.7h0M1235.6 453.7h0M1235.6 461.7h0M1153.7 434.5h0M1169.7 436.9h0M1175.7 432.5h0M855.9 84h0M857.1 88h0M1005.8 88h0M837.9 113.9h0M901.9 117.9h0M889.1 106h0M965.8 135.9h0M987.8 135.9h0M1128.2 495.7h0M1233.8 453.7h0M1233.8 459.7h0M1085.9 451.7h0M1125.8 459.7h0M975.9 425.7h0M1351.7 429.7h0M1407.6 427.7h0M1371.7 415.7h0M1457.6 435.7h0M1455.6 427.7h0M1011.9 413.7h0M1023.9 421.7h0M1045.9 417.7h0M1075.9 435.7h0M1097.8 411.7h0M1201.8 397.8h0M1305.7 411.7h0M1341.7 401.8h0M1005.9 88h0M1005.9 110h0M1015.9 112h0M890 106h0M900 117.9h0M878 113.9h0M116.8 192.3h0M117 332.7h0M116.4 182.9h0M117 167.4h0M117.3 325.4h0M117.3 334.3h0M117.3 172.2h0M118.5 191.2h0M118.5 333.7h0M119 150.7h0M118.7 159h0M119.2 188.9h0M119.3 190.4h0M119 330.9h0M119 335.7h0M119.9 163.2h0M119.8 157.8h0M119.8 171.6h0M119.5 180.6h0M120.6 332.9h0M120.3 330.6h0M120.1 184.7h0M121.4 201.8h0M121.7 188h0M121.5 329.5h0M121.2 331.4h0M121.1 152.4h0M121.5 171.8h0M122.6 185h0M123.1 185.2h0M123.6 200.9h0M123.2 330.9h0M124 330.2h0M123.1 171h0M123.2 343h0M124.3 204.6h0M124.8 155.5h0M125.3 327.6h0M125.1 182.7h0M125.7 172.2h0M126.1 184.4h0M126.9 341.3h0M126.3 182.3h0M126.4 370.4h0M127.4 186.1h0M127.8 188.2h0M127.6 327.5h0M127.1 185.8h0M127.1 183.3h0M127.4 186.2h0M128.4 195.2h0M128.7 341.9h0M128.8 186.3h0M129.5 194.3h0M129.1 202.3h0M129.9 205.3h0M129.6 327h0M130 338.2h0M129.3 323h0M129.8 340.3h0M129.2 186.6h0M130.9 193.1h0M130.3 162h0M131.6 203.1h0M131.1 199h0M131.9 323.4h0M133 197.6h0M132.4 189.7h0M132.9 198.5h0M132.5 180.5h0M132.1 175.5h0M132.5 181.4h0M133.3 186h0M133.9 341.4h0M133.4 383.8h0M134.5 206h0M134.5 202.9h0M134.5 204.1h0M134.6 342.5h0M134.6 329.3h0M134.9 161.9h0M134.6 390.1h0M135.1 332h0M135.8 393h0M135.6 344.1h0M136.5 207h0M136.3 325.2h0M136.7 346.6h0M136.8 365.2h0M136.7 364.6h0M136.5 392.2h0M136.4 388.9h0M137.9 326h0M137 330.9h0M137.4 165.7h0M137.9 355.5h0M137.2 386.8h0M137.3 381.6h0M137.1 354.5h0M137.6 372.8h0M137.4 350.4h0M138.4 201.5h0M138.1 337.4h0M138.1 333.2h0M139.3 213.5h0M139.8 203.6h0M139.8 338.2h0M139.1 382.3h0M140.9 203.1h0M140.8 197.1h0M140.4 327.7h0M140 348.3h0M140.7 339.2h0M141 347.5h0M140.8 357.3h0M141.6 203.8h0M141.8 208.5h0M141.6 213.1h0M141.8 209.8h0M141 383.9h0M141.1 339.1h0M141.5 360.6h0M143 207.9h0M142.3 208.9h0M142.9 214.6h0M142.6 364.3h0M142.1 341.3h0M142.6 359h0M143.7 212.2h0M143.9 338h0M143.7 202.8h0M143.7 377.5h0M143.9 374.7h0M144.8 216.2h0M144.9 216.5h0M144.6 333.7h0M144.1 325.7h0M144.7 373.1h0M144.7 375.7h0M144.1 334.7h0M144.3 338.2h0M144.2 350.8h0M145.4 212.6h0M145.3 322.1h0M145.9 317.4h0M145.7 377.3h0M145.3 350.4h0M145.6 374.8h0M145.6 369.2h0M145.8 340.3h0M146.8 210.3h0M146.7 226.2h0M146.3 206.7h0M146 328.9h0M146.6 325.2h0M146.6 337.7h0M146.9 360.3h0M146.8 341.2h0M146.1 375.7h0M146.9 373h0M147.6 210.6h0M147.8 314.7h0M147.6 365.6h0M147.5 333.7h0M147.8 335.4h0M147.7 355.6h0M147.9 369.2h0M147.9 360.7h0M147.8 372.7h0M147.2 333.9h0M148.7 218h0M148.1 320h0M148.5 314.5h0M148.8 321.8h0M148.4 335.5h0M148.4 349.4h0M148.6 333.2h0M148.9 358.6h0M149.5 331.8h0M149.6 344.6h0M149.4 366.3h0M149.8 332.3h0M150.9 214.1h0M150.4 223.4h0M150.8 233.8h0M150.9 228.3h0M150.9 327h0M150.5 332.4h0M150.7 207.1h0M150.2 336.5h0M150.3 332.9h0M151.9 221.3h0M151.5 313.8h0M151.7 325.2h0M151.8 212.3h0M151.6 351h0M151.8 330.6h0M152.1 219.2h0M152.9 323h0M152 318.1h0M152.2 212.8h0M152.8 355.6h0M152.3 335.4h0M152.4 336.2h0M153.3 234.7h0M153.5 237.2h0M153.4 327.8h0M153.8 311.3h0M153.9 319.8h0M153.1 219.2h0M153.1 343h0M154.7 234.8h0M154.9 236.3h0M154.4 230.1h0M154 350.2h0M155.2 226.1h0M155.7 243.6h0M156 237.6h0M155.4 226.6h0M155.2 207.5h0M157.5 237.4h0M157.8 237.3h0M157.2 322.3h0M157.6 324.9h0M157.2 315.4h0M157.9 317.8h0M157.4 310h0M157.7 309.9h0M157.5 222.9h0M157.3 218h0M157.2 347.9h0M158.3 329.4h0M158.9 322.7h0M158.7 217.8h0M158.6 357.2h0M159.7 312.9h0M159.4 331.1h0M160 239.6h0M160.8 245.1h0M162 237.6h0M161.9 229h0M162.3 243.5h0M162.3 323.3h0M162.7 315.5h0M162.4 317.8h0M162.7 321.7h0M162.6 312.5h0M162.3 331.8h0M163.6 321.6h0M164 208.2h0M163.4 350.9h0M164.2 229.7h0M165 238.9h0M164.8 247.5h0M164.7 314.9h0M164.2 331.5h0M164.4 228.4h0M165 238.9h0M165.5 234.5h0M165.2 315.1h0M165.2 228h0M166.5 243.4h0M166.9 221.2h0M167.3 229h0M167.9 323.1h0M167.3 328.4h0M167.2 221.5h0M167.4 215h0M169 233.9h0M169.1 234.9h0M169.1 323.2h0M169.6 209.2h0M169.9 226h0M169.8 203.6h0M170.3 245.1h0M170.3 229.2h0M170.1 228.8h0M170.1 231.9h0M170.6 211.5h0M171.2 236.1h0M171.9 330.9h0M171.8 336h0M171.2 328h0M171.7 204.6h0M172.8 234h0M173 319.2h0M172.9 230.3h0M172.1 229.9h0M172.1 217.9h0M173.1 239.2h0M173.7 332.4h0M173.7 224.1h0M174.4 249.6h0M174.2 230.7h0M174.1 323.3h0M174.9 319.1h0M175.3 236.7h0M175.1 218.6h0M175.1 217.6h0M175.2 213.2h0M175.9 222.5h0M177 325.2h0M176.9 335h0M176.9 325.1h0M176.2 204.9h0M176.2 232h0M176.2 221.3h0M176.3 219h0M176.3 228.4h0M177 229.1h0M177.4 246.2h0M177 221.2h0M177.3 219h0M177.9 218.8h0M177.5 224.1h0M177.6 201.1h0M178.9 238.2h0M178.6 335.6h0M178.7 339.5h0M178.6 232.9h0M178.9 202.8h0M179.5 234.6h0M180 326.3h0M179.7 323.7h0M179.8 203.4h0M179.6 202.1h0M179.6 230.1h0M180.4 325.7h0M180 321h0M180.4 339.8h0M180.4 205h0M180.3 222.7h0M181.5 241h0M181.7 325.3h0M181.9 333.8h0M181.8 232.5h0M181.3 233.9h0M181.8 232.6h0M181.8 207.7h0M182.3 251.5h0M182.9 240.1h0M182.6 323.1h0M182.8 324.9h0M182.8 219.7h0M182.1 200.7h0M182.5 215.8h0M182.2 230.5h0M182.2 207.8h0M182.7 203.5h0M183.8 255h0M183.4 249h0M183.7 225.6h0M183.3 236.1h0M183.5 359.4h0M184.3 247.1h0M184.2 243.6h0M184.4 255.8h0M184.5 240.3h0M184.1 225.7h0M184.9 211.1h0M184.8 343.2h0M185 251.9h0M185.6 327.2h0M185.9 325h0M185.6 338.5h0M185.7 350.5h0M185.7 352.2h0M186.7 242.4h0M186.7 333.5h0M186.2 340.2h0M186.6 228h0M186 212.3h0M186.7 222.4h0M187 237.6h0M186.3 368h0M186.1 348.7h0M186.7 367.8h0M187.2 246h0M187.6 245.4h0M187.9 246h0M187.1 240.5h0M187.7 343.2h0M187.4 338.2h0M188 342.5h0M187.9 225.8h0M187.6 233.1h0M187.7 346.7h0M187.2 369.9h0M187.8 369.2h0M188.4 241.1h0M188.2 334.2h0M188.9 222.4h0M188.4 343.9h0M188.2 351.6h0M190.4 239.4h0M190.2 345.9h0M190.3 370.1h0M190.8 351.2h0M191.8 239h0M191.6 233.6h0M191.3 214.6h0M191.4 221.3h0M191.4 367.4h0M191.7 364.5h0M192.4 256.8h0M192.9 332.6h0M192.8 231.9h0M192.3 230.5h0M192.1 230.3h0M193.6 253.8h0M193.1 337.3h0M193.6 239.3h0M193.2 226.7h0M193.1 368.3h0M193 362.1h0M193.1 359.6h0M194.5 255.9h0M194.3 331.2h0M194.2 344.5h0M195 228.5h0M194.7 348.1h0M194.3 347.6h0M195.9 339h0M195.5 346.6h0M195.9 348.4h0M195.1 344.9h0M195.1 228.9h0M196.5 260.7h0M196.8 338.8h0M196.1 347.9h0M196.7 242.9h0M196.2 355h0M197.1 243h0M197.8 338h0M197.3 337.1h0M197 366.5h0M198.5 251.4h0M198.4 328.5h0M199 339.9h0M199 333.5h0M198.6 350.7h0M199.7 250.3h0M200 244.5h0M199.9 356.1h0M200.9 250.7h0M200.4 335.3h0M200.7 335.5h0M202 329.2h0M202.1 346.6h0M202.6 239.9h0M203.3 263.5h0M203.6 340h0M203.6 335.5h0M203.5 347.1h0M203.7 335.8h0M204.2 246.7h0M204.8 243.5h0M204.4 263.6h0M205.5 329.5h0M206.2 335.4h0M207.6 249.1h0M207.3 346.7h0M208.1 252.5h0M208.7 326.9h0M209.8 249.4h0M209.7 255h0M209.7 365.4h0M209.8 346.8h0M210.5 262.7h0M210.9 247.3h0M210.2 328.7h0M210 328.2h0M210.8 344.9h0M211.4 328.6h0M212.3 336.7h0M213.1 251.2h0M213.1 260.5h0M213.1 253.2h0M214.3 256h0M214.5 340.1h0M215.6 249.8h0M216.9 326.1h0M216.3 354.3h0M216.5 356.1h0M217.9 254.4h0M217.8 336.9h0M217.7 342.7h0M217.7 346.2h0M218.8 249.2h0M218.8 331h0M219.4 335.7h0M219.3 353.7h0M220.3 251.9h0M220.7 329.4h0M220.8 325.5h0M220.9 246.7h0M221.1 256.7h0M221.1 354.5h0M222.6 267.3h0M222.6 331.1h0M223.8 253h0M223.3 249.3h0M223.9 330.2h0M223.6 322.7h0M224.7 269h0M224.5 262h0M224.7 327h0M225 255.3h0M225.8 264.5h0M225 342.6h0M226.9 256.6h0M226.7 333.6h0M226.7 342h0M226.9 326.8h0M226 327h0M226.6 329h0M228.6 255.5h0M228.6 329.8h0M228.8 339.5h0M229.8 267.9h0M229.7 328.8h0M229.5 331h0M229.4 334.6h0M230.9 333.7h0M230.6 319.8h0M230.2 322.6h0M230.4 332.8h0M230.8 334.2h0M231.6 252.8h0M232.7 252.8h0M232.5 318.9h0M233.5 273.3h0M234 271.2h0M233.8 270.1h0M233.1 319.9h0M233.9 327h0M234.4 261h0M234.2 255.2h0M234.9 335.2h0M235.1 273.2h0M235.7 322.7h0M235.6 324.9h0M237 324.7h0M236 324.9h0M236.2 331.5h0M237.2 337.1h0M237.6 324.8h0M238.1 255.6h0M238.8 269.2h0M239 253.9h0M238.4 321.1h0M239.7 263.4h0M239.5 250.3h0M239.7 267.4h0M239.9 330.7h0M240.5 246.8h0M240.3 328.7h0M240.6 330.7h0M240.7 323.5h0M242.7 264.5h0M243.2 322.7h0M245 245.8h0M244.8 262.7h0M244.4 341.5h0M245 257.9h0M245.7 248.4h0M245.6 348.4h0M246.1 257.5h0M246.9 250.2h0M246.9 313.5h0M246.7 323.1h0M246.9 332.8h0M247.1 315.7h0M247.8 333h0M247.7 333.1h0M248.3 237.5h0M248.7 336.6h0M249 313.8h0M249.1 315.5h0M249.7 339.7h0M250.9 242.8h0M250.3 320.3h0M250.4 323.5h0M250.4 330.7h0M251.5 240.2h0M251.1 241.9h0M251 311.8h0M251.7 329.6h0M252 313.6h0M252.9 243.4h0M252.8 250.7h0M252.8 326.7h0M252 312.5h0M252.2 329.2h0M253.7 233.4h0M253.8 232.3h0M254 330h0M254.7 234.6h0M254.4 231.2h0M254.2 315.7h0M254.7 350.4h0M255 238.8h0M255.1 310.2h0M256.2 247.3h0M256.6 232.7h0M256.7 242.4h0M256.1 238.9h0M256.7 318h0M256.2 326.3h0M257.3 235.6h0M257.8 317.6h0M257.9 319.7h0M257.2 326.6h0M257.7 229.6h0M257.8 345.9h0M258.2 235.2h0M258.8 238h0M258.2 226.9h0M259.4 248.9h0M259.3 244.9h0M259.3 326.1h0M259 314.3h0M260.4 234.1h0M260.2 330.2h0M260 367.1h0M261.7 243.3h0M261.2 244.5h0M261.6 315.7h0M261.8 327.2h0M262 238h0M262.4 244.9h0M263.8 253.1h0M263.7 361.3h0M263.4 337.4h0M263.3 371.5h0M263.5 335.9h0M263.4 367.5h0M264.6 327.7h0M264.1 319h0M264.1 223.9h0M264.8 338h0M264 347.4h0M264.3 348.2h0M265.1 240.9h0M265.8 322.3h0M265.4 340.3h0M265.3 345.6h0M266.1 241.4h0M266.9 257.3h0M266.8 321.7h0M266.7 217.4h0M266.2 332.4h0M266.9 336.7h0M268 251.5h0M267.2 319.3h0M267.7 326.2h0M267.3 190.8h0M267.7 343.1h0M267.8 333.6h0M267.7 350.5h0M267.3 351.9h0M268.2 259.3h0M268.6 333.4h0M268.3 332.6h0M268.7 318.6h0M268.7 356.2h0M269.9 340.1h0M269.7 359.4h0M270.5 250.2h0M270.1 257.6h0M270.4 334.9h0M270.2 331.4h0M270 330.1h0M270 330.6h0M270.6 227h0M270.2 189.9h0M270.5 243h0M270.5 199.5h0M271 328.9h0M271.1 339.8h0M271.5 359.2h0M273 261.7h0M273 249h0M272.2 336.3h0M272.3 214.5h0M272 242.2h0M272.3 334.5h0M272.8 349.5h0M273.5 256.7h0M273.7 259.5h0M273 328.5h0M273.8 245h0M273.3 232.5h0M273.7 355.7h0M274.5 264.3h0M274.8 251.6h0M274 263h0M274.7 249h0M274.1 323.6h0M274.7 328.3h0M274.7 247h0M274.5 224.4h0M274.1 247.1h0M275.2 238.1h0M275.3 246.2h0M276.8 261.6h0M276.1 261.9h0M276.4 259.2h0M276.7 316.6h0M277 267.8h0M277.2 267.2h0M277.8 323.9h0M278 317.4h0M277.1 324.3h0M277.4 331.4h0M277.2 335.6h0M278.3 212.7h0M279.7 315.3h0M279.6 320.7h0M279.5 222.2h0M280.6 264.1h0M280.9 331h0M280.7 231.4h0M280.7 242.6h0M280.3 243.3h0M281.7 251.3h0M281.1 242.4h0M281.2 213.7h0M282.3 323.4h0M282.2 251.7h0M283.6 270.9h0M283.7 255.1h0M283.5 313h0M283.2 246.9h0M283.1 225h0M283.8 214.6h0M283.4 248.5h0M283.2 225.1h0M283.4 248.1h0M284.8 267.3h0M284.6 222.6h0M284.7 249.5h0M285.1 261.9h0M285.6 268.5h0M285.3 257.1h0M285.2 265.8h0M285.5 268.4h0M286 215.2h0M285.1 229.4h0M285.2 348.6h0M286 346.4h0M286.7 260.2h0M286.7 261.5h0M286.9 325.3h0M286.1 310.7h0M286.5 320h0M286.6 330.2h0M286.9 250.6h0M286.1 221.4h0M286.3 241.1h0M286.8 245.6h0M287.7 272.1h0M287.5 267.1h0M287.6 312.8h0M288 316h0M287.1 325.3h0M287.9 328.4h0M287.9 344.1h0M289 260.5h0M288.5 260.8h0M288.1 312.7h0M288.3 326.1h0M288.2 328.1h0M289.1 222.1h0M290.8 253.2h0M290.3 314.3h0M290.7 324.4h0M291 351h0M290.9 327.9h0M290.9 356.6h0M290.1 347.4h0M291.5 252.5h0M292.4 312.6h0M292.1 307.8h0M292.6 309.1h0M292.6 361.5h0M292.3 345.9h0M292.3 324h0M293.2 257.4h0M293.6 255.7h0M293.4 270.5h0M293.2 329.5h0M293.5 353.1h0M294.9 253.9h0M294.8 264.2h0M294.8 312.5h0M294.4 321.3h0M295 356.7h0M294.4 333.3h0M295.9 256.4h0M295.7 313.4h0M295.5 330.1h0M296.6 306h0M296.9 343h0M297.8 262.9h0M297.8 273.8h0M297.6 269h0M298.3 264.6h0M298.4 267.1h0M298.4 311.8h0M299 249.4h0M298.6 336.8h0M298.8 340.9h0M298.7 343.6h0M298.7 360.6h0M299.5 255.3h0M299.8 326.5h0M299.7 326.6h0M299.4 342.1h0M299.7 351.2h0M300.3 320.3h0M301.2 277.3h0M301 270.2h0M301.9 317.4h0M301.4 252.8h0M302 274.3h0M302.2 265.5h0M302 326.1h0M302.9 259.8h0M303.2 277.4h0M303.2 332.7h0M303.2 337.3h0M304.9 278.3h0M305 343.7h0M304.9 357.3h0M305.8 270.5h0M307 267.6h0M306.3 341h0M306.6 340.9h0M306.7 337.7h0M307.9 262.2h0M307.9 328h0M307.7 321.5h0M308.9 273.3h0M308.5 245.2h0M308.9 363.3h0M309.4 268.8h0M309.4 274h0M309.5 326.2h0M309.5 355.2h0M310.3 270.9h0M310.4 344.2h0M310.6 345h0M310.8 349.1h0M310.8 359.9h0M310.2 344.6h0M311.5 334.4h0M311.6 328.8h0M311.7 347h0M311.4 345.7h0M311.5 365.2h0M311.3 369.5h0M312.4 339h0M312.4 344.7h0M312.3 347.2h0M312.2 376.6h0M312.9 354.4h0M313.8 265.8h0M313.6 268.1h0M313.4 265.9h0M313 266.8h0M313.1 349.5h0M313.5 342.2h0M313.3 262h0M313.2 365.3h0M315 272.3h0M314.4 283.5h0M314.6 350h0M314.3 341.7h0M314.4 341.6h0M314.7 346.6h0M314.6 249.1h0M315.6 267.4h0M315.4 270.2h0M316 284h0M315.2 347.4h0M316.8 272.5h0M316 269h0M317.4 243.8h0M317.6 265h0M317.5 380.9h0M318.9 338.7h0M318.4 332.1h0M318.7 254h0M318.1 346.5h0M318.6 355h0M319.9 281.5h0M319.5 269.9h0M319.5 248.6h0M319.4 256.4h0M319.6 251.3h0M319.3 251.2h0M320.6 281.1h0M320.2 266h0M320.6 262.3h0M320.1 262.8h0M320.7 333.6h0M320.5 338.9h0M320.1 338.3h0M320.9 325.6h0M320.4 261.1h0M320.7 234.9h0M320.6 215.9h0M321.7 272.2h0M321.3 262.9h0M321.1 270.4h0M321.8 278.7h0M321.8 317.1h0M321.3 328.4h0M321.9 260.8h0M321 243.8h0M321.2 362.7h0M321.6 345.2h0M321.3 375h0M321.3 337.2h0M322.5 325.8h0M322.2 218.3h0M322.5 207.2h0M322.5 224.9h0M322.5 377.3h0M323 369.4h0M323.4 276.6h0M323.5 229.3h0M323.7 242.8h0M323.8 367.7h0M323.8 347.6h0M324.4 314.8h0M324.6 237h0M325.1 257.8h0M325.5 240.6h0M325.6 330.5h0M325.8 338.4h0M325.9 339.5h0M325.7 351.9h0M327 275h0M326.6 269.2h0M327 343.2h0M327 367h0M326.7 350.3h0M327.4 320.4h0M327.4 316.5h0M327.5 370.2h0M327 335.5h0M327.8 325.7h0M327.2 320.2h0M327.9 365.3h0M328.5 262.6h0M328.7 269.7h0M329 238.1h0M329 373.6h0M328.8 373.4h0M329.5 303h0M330 222.9h0M329.5 341.9h0M329.6 335.3h0M329.6 315.9h0M330.8 310.6h0M330.5 200h0M330.4 186.7h0M331.1 263.3h0M331.7 252.3h0M331.9 314.1h0M331.4 365.7h0M332.7 290.1h0M332.2 306.2h0M333 266.5h0M333.4 252.4h0M333.1 302.8h0M333.9 297.4h0M333.1 308.6h0M333.1 314.6h0M334.1 258.8h0M334.7 283.9h0M334.3 301.6h0M334.6 196.8h0M334.2 300.3h0M335.2 280.4h0M335.9 325.4h0M335.7 338.9h0M335.1 363.5h0M336.3 283.6h0M336.9 301.3h0M337.4 297h0M337.8 326.5h0M337.5 329.7h0M337.3 299.6h0M338.6 242.6h0M338.1 246.2h0M339.9 249.1h0M339.8 292.1h0M339.2 296.5h0M339.4 200.2h0M339.7 235.7h0M340.4 289.8h0M341.8 243.4h0M341.9 246.9h0M342 241.7h0M341.5 217.4h0M342 239.9h0M341.4 229.2h0M341.1 303.3h0M342.2 248.3h0M342.6 239.9h0M342.3 289.8h0M342.5 289.3h0M342.2 215h0M343.7 240.7h0M343.1 241.4h0M343.2 289.3h0M343.3 196.8h0M344.3 233.8h0M345 287.3h0M344.5 290.9h0M345.9 290.2h0M345.2 221.7h0M345.4 229.7h0M346.9 238.2h0M346.3 293h0M346.2 307.6h0M347.8 238.3h0M347.2 246h0M347.3 229.3h0M349.7 232.3h0M349.1 227.1h0M349.2 241.4h0M350.9 238.1h0M350.5 235.7h0M350.1 239.4h0M350.4 311.4h0M350.8 307.1h0M351.9 297.6h0M352.8 225.1h0M352.4 296.5h0M352.2 330.1h0M352.9 318.6h0M353.3 233.5h0M353.3 299.2h0M354.1 231.8h0M354.7 315.7h0M355 225.1h0M356.1 218h0M356.7 225.9h0M356.2 225.7h0M356.2 315.8h0M357.4 225.7h0M357.7 224.3h0M357.8 299.6h0M357.7 335.8h0M357.3 322h0M358 231.8h0M358.9 314h0M358.1 307.7h0M359 335.4h0M359.2 230.8h0M359.3 306.3h0M359.7 211.5h0M360.2 231.9h0M360.6 221.7h0M360.8 315.4h0M360.3 323.1h0M361.9 223.3h0M361.2 221h0M362 299.4h0M361.8 307.8h0M361.9 298.2h0M361.9 207.1h0M361.9 214.5h0M361.6 319.8h0M361.8 338.3h0M362.9 225.6h0M363.2 215.6h0M363.7 300.8h0M363.6 301.9h0M363.3 335h0M364.1 226.9h0M364.3 206.6h0M365.4 229.5h0M365.6 225.8h0M365.3 314.5h0M366.5 219.8h0M366.3 300.1h0M367 192.9h0M366.5 341.3h0M367.7 229.6h0M367.4 227.4h0M367.7 306.3h0M368.2 233.2h0M369 345.9h0M368.6 321.7h0M369.6 216.2h0M369.3 308.6h0M369.5 313.9h0M369.5 326.8h0M370.6 226h0M370.1 297.8h0M370.9 313.6h0M371.9 211.9h0M371.1 212h0M371.2 228.6h0M371.9 289.6h0M371.2 294.2h0M371.8 293.3h0M371.8 293.7h0M371.9 314.6h0M372.1 302.8h0M372.2 347.4h0M372.6 327.9h0M373.6 225.5h0M373 215.4h0M373.2 296.2h0M373.4 305.3h0M373.6 305.4h0M374.7 291.8h0M374 329.9h0M375.3 225.6h0M375.5 297.3h0M375.5 306.5h0M376.4 215.1h0M376.6 211.2h0M376.6 184.9h0M376.8 345.1h0M376.8 345.3h0M376.2 349.3h0M377.5 232.4h0M377.9 297.8h0M377 302h0M377.2 311.2h0M377.1 304.3h0M377.4 347.2h0M378.7 285.4h0M378.3 329.8h0M378.1 341h0M378.7 335h0M379.3 217.9h0M379.7 292.3h0M379.7 294.9h0M379.9 305.6h0M379.7 195.7h0M380.6 229.6h0M380.9 235.7h0M380 289.3h0M380.6 285h0M380.3 305.6h0M380.6 309.8h0M380.1 307.2h0M380 306.1h0M380.7 307.9h0M380.8 332.5h0M380.1 309.7h0M381.7 240h0M381.1 231.1h0M381.9 306.4h0M381.4 305.2h0M381.6 315.1h0M381.7 304.3h0M381.4 352.2h0M382.7 228.9h0M382.9 225.3h0M382.5 303.2h0M382.5 312.9h0M383.6 321.5h0M383.4 340.3h0M383.2 313.3h0M384.3 236.7h0M384.8 241.3h0M384.1 235.3h0M384.4 245.2h0M384.2 304h0M384.3 320.6h0M386 226.3h0M385.1 345.3h0M387 335.5h0M386 319h0M387.1 297h0M387.7 290.9h0M387.4 341.7h0M387.2 305.2h0M388.3 288.3h0M388.7 308.9h0M388 309.9h0M388.1 305h0M389.8 234.4h0M389.3 241.3h0M389.7 235.9h0M389.6 305.5h0M389.6 305.2h0M389.8 321.7h0M390.1 337.2h0M390.1 308.7h0M391.1 255.3h0M391 302.6h0M391.7 286.8h0M391.6 321.1h0M391.8 306h0M391.2 325.9h0M392.6 241.5h0M392.3 249.5h0M392.1 288.7h0M392.2 304.9h0M393.8 305.6h0M393.2 236.9h0M393.8 239.7h0M394.5 244.6h0M394.9 263.5h0M394.1 244.7h0M394.3 293.7h0M394.8 286.5h0M394.5 320h0M394.7 321h0M395 244.9h0M395.4 299.4h0M395.9 295.2h0M395.3 292.4h0M395.1 291.8h0M395.8 348.4h0M396.9 251.7h0M396.8 265.2h0M397 248.1h0M396.3 254.2h0M396.9 306.6h0M396.9 288.2h0M397.8 232.1h0M397.7 329.3h0M398 319.2h0M398.6 297.7h0M398.5 303.4h0M398.1 298.5h0M398.6 242.4h0M398.7 247.3h0M398 315.3h0M399.3 305.3h0M399.7 294.2h0M399.6 349.4h0M400.1 256.7h0M400.2 260.2h0M400.6 313.1h0M400.5 300.1h0M400.3 354.6h0M400.3 315.6h0M400.3 322.5h0M401.3 256.4h0M401.7 245.6h0M401.9 309.6h0M401 338.5h0M401.2 318.3h0M401.7 329.8h0M402.9 307.7h0M402.9 301.6h0M402.6 340.1h0M402.5 326.3h0M402.3 326.1h0M402 343.1h0M403.5 253.1h0M403.9 259.7h0M403.1 241.1h0M403.1 323.9h0M403.7 339.4h0M403.1 330.9h0M404.3 312h0M404.4 243.2h0M404.6 334.7h0M404.2 359.5h0M404.7 335.9h0M405.3 253.4h0M405.7 316.4h0M406.9 258.9h0M407 255.4h0M406.7 327h0M406.5 320.8h0M407.8 251h0M407.7 253.1h0M407.5 319.1h0M407.2 338.6h0M408.6 249.1h0M408.5 256.2h0M408.2 249.3h0M408.3 325.5h0M408.5 322.7h0M408.2 323.6h0M408.9 244.9h0M409.9 246.9h0M409.4 247.3h0M409.9 251.6h0M409.8 339h0M409.3 334.8h0M409.3 333.8h0M409.3 245.3h0M409.9 356.4h0M409.2 347.2h0M410.2 252h0M410.5 266.7h0M410.9 250.7h0M410.2 341.6h0M411.8 263.2h0M411.2 328.4h0M411.3 331.5h0M411.2 335.9h0M412 246.1h0M411.2 342.2h0M411.2 341.5h0M412.4 247.3h0M412.5 250.7h0M412.5 339.6h0M412.3 334.7h0M412.5 328.9h0M412.8 340.1h0M412.1 343.7h0M412.7 363.8h0M413.4 247.8h0M413.5 260.2h0M413.9 332.7h0M413.9 357.3h0M414.9 258.5h0M414 344.2h0M414.6 336.7h0M415.2 261.2h0M415.6 254.4h0M415.2 335.6h0M416.9 367.3h0M417.5 260.4h0M418.5 257.9h0M418.9 254.5h0M419.7 344.3h0M419.4 349.5h0M420.6 343.4h0M421.8 254.2h0M421 262.3h0M421.6 345.8h0M422.4 250.3h0M422.9 260.4h0M423 343.5h0M422.7 335.5h0M422.9 338.6h0M423.9 255.4h0M423.8 248.6h0M423.7 258.8h0M423.9 331.3h0M423.8 334.1h0M423.9 341.2h0M423.1 364.5h0M424.6 251.1h0M424.7 243h0M424.1 334.5h0M424.9 332.2h0M425 246.6h0M426 242.7h0M425.1 348h0M427.9 350.9h0M427.8 350.4h0M427.4 368.7h0M429.3 387.9h0M430.1 350h0M431.6 255h0M431.9 257h0M431.9 255.7h0M431.8 349.1h0M431.7 379.6h0M432.5 250.2h0M432.8 258.7h0M433 348.5h0M432.9 382.7h0M433.8 346h0M433 337.3h0M433.9 347.9h0M433.4 334.3h0M433.5 338.4h0M435 238.8h0M434.8 238.6h0M435.6 362.1h0M435.3 385h0M436.5 258.4h0M436.7 251.9h0M437.7 255.9h0M437.5 243.9h0M438.9 345.7h0M438.7 343h0M439.3 254.4h0M439.6 335.6h0M439.3 323h0M439 326.4h0M439.1 338.5h0M439.1 338.9h0M440.9 339.4h0M441.5 259.3h0M441.6 335.9h0M442.6 263.7h0M442.7 319.3h0M442 328.8h0M443.3 322.4h0M444.1 258.6h0M444.2 265.3h0M444.5 334.2h0M444.5 333.9h0M446.1 261.9h0M446.5 264.5h0M446.8 256.5h0M446.1 333.3h0M446.2 329.1h0M447.8 252.7h0M447.4 250.4h0M448.4 311.8h0M449.6 254.9h0M449.5 248.5h0M450 269.1h0M449.6 312.2h0M451.7 270.8h0M451.5 322.1h0M453 255.4h0M453.6 312.1h0M454.3 254.8h0M454.3 257.1h0M454.7 258.9h0M454.6 265.4h0M454.7 251.7h0M455.2 228.6h0M455.8 320h0M456.7 266.3h0M456.1 257.7h0M456.1 313.2h0M456.7 311.8h0M456.3 252.4h0M456.4 247.2h0M456.6 213.5h0M456.6 252.9h0M456.5 317.6h0M457.9 263.6h0M457.2 258.5h0M457 255.6h0M457.4 255.3h0M457.8 331.3h0M458.4 301.3h0M459.9 269.8h0M459.5 258.3h0M459.1 260.9h0M459.8 242h0M460 240.6h0M459.6 252.6h0M459.3 324.7h0M460 265.8h0M460.3 249.2h0M460.4 246.9h0M460.2 332.5h0M461.5 266.6h0M461.4 302.3h0M461.9 217.3h0M462.6 257.1h0M462.1 297.4h0M463.8 264.4h0M463.6 306.9h0M463.2 247.8h0M463.1 255.4h0M464.1 267.8h0M464.1 272.1h0M464.2 303.3h0M465 314.3h0M465.6 254.5h0M465.3 261.2h0M465.9 262.7h0M465.4 311.9h0M465.2 303.6h0M465.4 255.2h0M467 267.5h0M466.1 261.4h0M466.5 262.5h0M467 298.8h0M467.9 318.4h0M468.4 253.8h0M468.4 333.8h0M469.6 261.2h0M469.8 324h0M470 271h0M470.6 332.6h0M471.3 269.2h0M471.2 333.1h0M472.2 310.3h0M472.7 303.1h0M472.5 309.4h0M473 265.8h0M473 271.2h0M473.1 300.9h0M474.3 260h0M474.5 326.6h0M475.4 268.6h0M475.8 258.3h0M475.4 269.3h0M475.5 267.9h0M475.1 312.4h0M476.2 264.8h0M476.8 322.8h0M477.4 313.6h0M478.3 297h0M478.1 305.2h0M478.8 221.3h0M478.7 219.7h0M478 239.2h0M479.9 269.3h0M479.8 269.3h0M479.4 270.2h0M479.5 269.5h0M479.6 310.7h0M479.6 304.7h0M480.4 247.3h0M480.6 220h0M481.2 207h0M482.8 301.4h0M482.6 313.4h0M482.9 313.2h0M483.2 271.3h0M483.1 264h0M483.2 303.3h0M483.2 205h0M483.3 225h0M484.5 275.4h0M484 260.9h0M484.3 256.1h0M484.3 259.7h0M485 297.6h0M484.8 307.1h0M484.4 257.1h0M484.9 215.1h0M484.3 254.6h0M484.8 251h0M485.4 273.6h0M485.6 268h0M485.1 268.6h0M485.5 309.2h0M485.8 250.6h0M485.4 229.9h0M485.6 230.2h0M485.7 248.5h0M486.6 298.6h0M486.4 294.5h0M486.4 296.6h0M486.5 236.2h0M486.1 206.5h0M486.4 237.3h0M486.8 254.2h0M488 304h0M488 305.2h0M487.4 236.4h0M488.2 265.1h0M488.3 309.2h0M488.9 246.8h0M488.2 258.2h0M488.9 325.2h0M489.9 272.5h0M489.2 271.9h0M489.4 302.3h0M489.6 314.2h0M489.6 315h0M490.8 265.7h0M490.4 256.9h0M490.8 292.9h0M490.9 294.1h0M490.8 250.5h0M490.2 258h0M490.5 254.3h0M491.2 313.7h0M492.4 306.1h0M492.4 299h0M492.8 298h0M492.2 305.8h0M492.4 259.2h0M493.9 259h0M493.3 266.7h0M493.1 258.6h0M493 324.2h0M493.9 313.5h0M494.7 273.6h0M494.4 314.8h0M494.9 310.8h0M494.5 295.1h0M495.3 269.9h0M495.9 259.6h0M495.4 278.7h0M496 258.7h0M497 300.9h0M496.4 296.5h0M496.8 314.6h0M496.4 314.6h0M496.1 321.3h0M497.1 258.4h0M497.5 270.4h0M497 272.3h0M497.7 271.5h0M497.4 268h0M497.8 308.6h0M497.3 297.1h0M499 277.2h0M498.5 294.8h0M498.4 308.9h0M498.7 308.9h0M499.9 262.2h0M499.6 314.5h0M499.6 315.4h0M499.7 325.5h0M499.6 322.4h0M500.7 261.4h0M500.7 306.2h0M500.1 318.9h0M501.6 317.5h0M502.3 266.1h0M502.8 315h0M503.9 297.2h0M503.1 317.1h0M503.3 316.3h0M504.1 270.5h0M504.3 270.3h0M504.6 305.9h0M504.4 308.3h0M504.8 313.7h0M504.6 313.9h0M505.8 299.4h0M505.5 316.2h0M505.7 316.1h0M506.7 308.5h0M506.8 306.2h0M507 319.6h0M507.7 271.9h0M507.8 271.2h0M507 259.7h0M507.3 266.2h0M507.6 279.7h0M507.2 315h0M508 328.4h0M508.8 316.5h0M511 278.6h0M510 301.3h0M510.9 333.1h0M511.3 262.5h0M511.9 311.9h0M511.2 308.2h0M511.6 315.3h0M512.3 278h0M512.8 318.8h0M513.4 281h0M513.7 272.8h0M514 279.4h0M515.3 272.6h0M516 316.8h0M515.6 308.5h0M517 314.8h0M516.2 322.6h0M517.7 300.5h0M517 306.9h0M517.1 299.3h0M517.9 339.2h0M518.1 317.7h0M518.2 362.2h0M518.2 317.6h0M519.4 318.8h0M520.7 298.5h0M520.3 300.8h0M521 393.8h0M521.5 251.8h0M521.6 254.8h0M521.7 305.3h0M521.7 313.5h0M521.1 364h0M521.8 315h0M521.8 353.3h0M522.9 261.5h0M522.7 313.8h0M522.9 306.4h0M522.5 334.1h0M523.7 250.2h0M523.9 306.8h0M524.8 256h0M525 300.7h0M525 365h0M524.5 369.9h0M524.8 355.7h0M525.8 298.6h0M525.9 344.2h0M525.5 330.4h0M526.3 248h0M526.1 264.7h0M526.5 305.3h0M526.7 308.2h0M526.8 347.8h0M527.5 247.3h0M527.2 262.3h0M527.8 302.1h0M527.5 325.3h0M528.1 242.1h0M528.3 260.1h0M528.9 288.5h0M528.1 296.5h0M528.7 315.4h0M528.3 356h0M528.9 320.1h0M528.2 321.7h0M528.4 341.6h0M528 305.8h0M528.6 349.9h0M529.8 251.6h0M530 298.3h0M529.2 320h0M529.6 305.2h0M530.6 253h0M530.4 331.3h0M530.5 302.4h0M530.1 341.5h0M530.7 354h0M530.1 310.3h0M531.5 300.6h0M532.1 248.2h0M532.1 299.4h0M532.1 301.7h0M532.4 307.1h0M532 300.2h0M532.5 323.2h0M532.8 315.8h0M532.6 336.4h0M532.1 300.1h0M533.8 243.3h0M533.7 232.9h0M533.2 294.8h0M533.5 301.1h0M533.4 281.9h0M533.9 311.9h0M533.4 321.1h0M533.5 329h0M534 298.5h0M533.8 310.5h0M534.8 244.5h0M534.7 299.6h0M534.7 281.8h0M534.3 322.3h0M535.3 296.1h0M535.8 297.6h0M536.1 230.3h0M536 233.8h0M537.5 251.4h0M537.2 238.2h0M537 251.6h0M537.3 238h0M537.3 281.8h0M537.1 298.8h0M538.7 317.3h0M538.4 324.6h0M538.5 328h0M539.8 291.5h0M539.6 283.9h0M539.9 306.6h0M540.4 288.2h0M540.6 302.4h0M540.8 314.3h0M540.8 328.7h0M540.8 321.4h0M541.4 236.3h0M541.8 300.1h0M541.4 332.9h0M542.6 238.9h0M542.7 306.7h0M542.5 328.4h0M543.5 247.8h0M543.8 247h0M543 318.3h0M543.3 311.1h0M544.3 252.9h0M544.1 243.7h0M544.2 308.7h0M544.2 297.8h0M544 300h0M544.7 305.4h0M545.5 243.9h0M545.2 256.7h0M545.6 253.2h0M545.6 302.9h0M545.6 303.4h0M546.2 237.1h0M547 296.4h0M547.3 311.4h0M548.1 259.6h0M548.7 292.4h0M548 247.2h0M549.3 260.2h0M549.6 310.2h0M549.6 297.2h0M549.6 237.7h0M549.3 237.1h0M550.6 267.1h0M550.1 267.5h0M550.4 264.3h0M550.2 248h0M550.5 252.5h0M550.1 300h0M550.7 307.2h0M550.3 308.1h0M550.5 246.3h0M551.2 319.4h0M552.8 302.9h0M552.1 315.6h0M553.3 260.6h0M553 314.1h0M553.6 340.1h0M554.4 264.2h0M555.2 300.7h0M555.7 244.2h0M556.3 317.9h0M557.8 268.3h0M557.2 254.6h0M557.2 312.9h0M557.3 248.4h0M558.9 269.6h0M559 261.5h0M559.7 254h0M559.2 259.7h0M559.4 302h0M559.6 305.3h0M559.3 308.5h0M559.7 304.8h0M559.8 249.1h0M560.8 263.7h0M560.4 267.2h0M560.5 252.5h0M560.2 297.1h0M560.6 248h0M560.7 354.9h0M560.9 319.8h0M561 336.1h0M561.6 263.5h0M561.6 245.8h0M561.6 254.5h0M561.5 255.2h0M561.8 306.6h0M561.1 295.8h0M561.7 223.8h0M561.4 309.2h0M561.4 313.9h0M561.9 367.3h0M561.7 308.7h0M562.5 301.9h0M562.7 227.8h0M562.5 220.4h0M562.2 304.7h0M562.9 323.7h0M563 351.3h0M562.2 311.3h0M562.2 309.8h0M563.4 263.3h0M563.3 301.3h0M563.8 286.5h0M563.1 217h0M563.5 237.4h0M563.3 336.3h0M563 350.7h0M563.4 344.9h0M564.3 252.7h0M564 248.8h0M564.8 259.8h0M564.4 286.2h0M564.3 284.5h0M564.3 218.7h0M564.6 221.8h0M564.9 345.3h0M564 364.7h0M564.9 298.8h0M565.8 259h0M565.8 245.7h0M565.8 240.9h0M565.7 255.6h0M565.9 293h0M566.2 243h0M566.9 278.5h0M566.4 296.4h0M566.6 219.3h0M566.2 227.1h0M566.4 230.5h0M566.8 320.1h0M567.8 253.8h0M567.7 236.9h0M567.9 285.2h0M567.1 289.4h0M567.3 225.7h0M567.6 233.7h0M567.6 223.6h0M567.6 239.3h0M567 311.9h0M568.1 251.7h0M568.5 234.9h0M568 230.6h0M568.3 230.7h0M568.2 289.8h0M569.6 239.4h0M570.4 244.7h0M570.5 233.9h0M570.3 243.7h0M570.7 267.1h0M570.7 279.9h0M571.9 233.6h0M572.4 244.1h0M572.6 246h0M572.4 233.2h0M572 273.2h0M573.3 240.8h0M573.7 279.4h0M573.1 265.5h0M574.9 243.8h0M574 262h0M575.3 232.3h0M575.7 242.8h0M575.1 244h0M575.4 272.5h0M576.5 228h0M576.9 238.5h0M576.2 240.4h0M577.9 265h0M577.9 268.5h0M578.3 267.9h0M578 272h0M579.8 240.3h0M579.6 255.9h0M581 246.8h0M580.8 256.2h0M580.5 259.7h0M581.2 269.8h0M581.1 255.6h0M581.3 266h0M582.5 242.6h0M582.2 272.8h0M582.2 264.5h0M583.9 233.7h0M583.2 282.4h0M584.1 246h0M584.9 260.8h0M585.5 238.3h0M585.4 271.7h0M585.2 276.4h0M586.6 247.9h0M586.9 239.1h0M587 265.3h0M587 272.3h0M587 243.3h0M587.3 241.7h0M587.2 234.9h0M587.2 262.7h0M587.1 272.8h0M588.4 229h0M588.8 232.7h0M588.1 265.3h0M588.6 277.7h0M589.1 238.3h0M589.5 260.4h0M590.3 232.7h0M590.5 273.1h0M592.1 249h0M592.2 272h0M593.9 240.8h0M594.8 241.9h0M594.2 238.5h0M594 249.8h0M594.6 255.2h0M595.5 247.9h0M595.4 231.4h0M596.5 267.1h0M596.7 262h0M596.2 256.4h0M596.6 263h0M596.6 232.9h0M598.6 243.5h0M598.3 236.1h0M598 248h0M598.8 280.9h0M599.5 251.3h0M599.5 271.5h0M599.7 266.8h0M600.4 240.3h0M600.7 257.9h0M600.6 274.4h0M600.6 276.5h0M600.9 283.3h0M601.4 244.5h0M601.5 268.6h0M602.9 249.2h0M602.5 255.5h0M602.8 251h0M602.3 261.1h0M602.3 245.4h0M603 251.2h0M603.6 245h0M603.9 252.3h0M603.2 286.8h0M603.7 281h0M603.1 289.7h0M603.2 243.5h0M603.7 242.3h0M604.6 287.8h0M604.8 281.9h0M604.3 278.9h0M605.3 246.6h0M606.8 285.9h0M607 291.2h0M606.5 293.3h0M606.8 249h0M606.4 235.2h0M607.8 262.4h0M607.4 253.8h0M607.2 252.3h0M607 254.4h0M607.8 247.5h0M608.6 253.7h0M609.7 255.1h0M609.8 269.3h0M609.2 298h0M609.5 299.8h0M609.6 290.5h0M610.3 252.7h0M610.3 264.6h0M610.6 264.8h0M610.2 262.9h0M610.9 289.6h0M610.6 303.8h0M612 265.3h0M611.3 260.8h0M611.3 295.1h0M612.1 271.6h0M612.5 276.9h0M612.1 295.9h0M613 245.9h0M613.3 315.6h0M615 277.2h0M615.5 263h0M615 280h0M616 272h0M615.5 313.2h0M615.1 321.7h0M616.7 263.5h0M616.8 275.7h0M617.6 319.1h0M618.6 273.3h0M618.9 308.7h0M618.1 313.8h0M619.7 272.2h0M619.1 256.6h0M619.2 327.6h0M619 320.7h0M619.7 324.2h0M619.4 320.5h0M619.3 330.8h0M621.8 253.6h0M622.8 262.1h0M622.3 251.9h0M622.6 322.6h0M622.1 244.8h0M623.6 335.2h0M624.2 263.6h0M624.8 330.9h0M624.6 323.6h0M624.8 243.8h0M625.3 242.3h0M626.5 259h0M626.2 234.3h0M626.8 242.2h0M626.8 223.2h0M626.3 353.1h0M627.8 260.8h0M627.6 337.5h0M628 242h0M627.5 241.1h0M627.9 349.3h0M629 241.4h0M628.7 240.6h0M628.1 234.6h0M629.8 256.5h0M629.1 250.5h0M629.9 355.4h0M629.6 340.7h0M629.2 353.7h0M629.3 207.5h0M629.2 202.2h0M630.3 227.6h0M631 364.7h0M631.8 253.3h0M631.7 244.8h0M631.6 231.6h0M631.2 369h0M632.5 243.9h0M632.4 248.9h0M633 361.5h0M632.7 353.1h0M632.8 230.6h0M632.1 203.5h0M632.7 228.4h0M633.8 247.8h0M633.3 231h0M633 215.8h0M633.6 191.2h0M633.8 199h0M633.4 200h0M633.3 372.6h0M633.6 374.1h0M634.8 236.8h0M634.5 196.5h0M634.5 227.9h0M634.5 208.1h0M634.5 371.2h0M635.2 208.3h0M635.6 369.5h0M635.2 371.6h0M636.4 231.4h0M636.2 226h0M637.7 229h0M637.6 234.7h0M637.9 361.1h0M637.3 361.1h0M638 363.8h0M637.8 221.5h0M637.9 363.9h0M637.3 364.6h0M638.6 225h0M638.9 194.2h0M638.8 221.3h0M638.9 186h0M639.1 225.7h0M639.9 231.5h0M639.5 342.6h0M639.6 368.3h0M639.3 371.2h0M640.5 229.6h0M640.4 228.7h0M641.9 233.4h0M641.7 354.6h0M641.6 219h0M641.6 219.2h0M641.3 193.8h0M641.1 200.8h0M641.5 223.1h0M641.4 356.5h0M641.8 374.2h0M642.3 238.8h0M642.2 213.6h0M642.7 212h0M642.9 190.1h0M642.5 372.5h0M642.9 358.4h0M643.7 236.6h0M643.8 228h0M643.2 341.5h0M643.1 213.4h0M643.3 365h0M643.5 366.4h0M644.6 239.2h0M644.2 342.1h0M644.5 217.9h0M644.4 206.3h0M644.1 194.2h0M644.6 346.6h0M644.5 371.3h0M645.3 219.7h0M645.6 337.7h0M645.6 328.1h0M645.8 358h0M645.6 362.3h0M645.5 350.8h0M646.4 220.3h0M646.9 235.1h0M646.3 216.7h0M646.4 366.5h0M647.1 324.5h0M647.8 325.4h0M648.2 338.3h0M648.8 198.6h0M649.1 232.2h0M649.1 220.5h0M649.4 219.6h0M649.9 322.1h0M649.1 331.3h0M649.9 213.8h0M650.7 218.6h0M650.4 323.4h0M650.8 195.3h0M650.6 346.5h0M651.7 227.9h0M651.2 332.5h0M652.2 213.7h0M652.5 229.4h0M652.6 357.8h0M653.6 217.2h0M654 306.2h0M654 327.9h0M653.1 208.8h0M653.3 331.7h0M654.6 210.8h0M654.9 231.5h0M654.3 310.5h0M654.8 323.1h0M654.3 330.9h0M655.2 304.5h0M655.5 343.7h0M656.2 209.3h0M656.5 318.2h0M656.4 300h0M656.9 310.3h0M656.3 330.9h0M656 341h0M656.2 325.1h0M657.8 223.9h0M657.4 213.7h0M658 227.4h0M658.1 306.5h0M658.4 304.7h0M659.8 212.8h0M659 309.8h0M660.6 212.5h0M660.3 310.8h0M660.3 303.5h0M661.4 220.2h0M662.3 217.5h0M662 229.6h0M662.5 312h0M663.3 211.1h0M663 311.9h0M664.2 306.4h0M665.8 216.1h0M665.3 215.8h0M665.1 293.6h0M666.4 216.7h0M666.9 211.7h0M667.5 226.5h0M667 219h0M668.2 226.6h0M668.9 228.5h0M668.2 219.3h0M668.4 298.2h0M669.8 215.8h0M669.4 303.5h0M670 288.7h0M670.3 220.2h0M670.3 300.8h0M670.6 195h0M671.1 296.7h0M673 294.5h0M672.4 287.6h0M672.8 296.3h0M673.1 210.7h0M673.5 224.7h0M673.9 296.2h0M673.3 304.9h0M674.8 214.5h0M674.2 283.1h0M675.2 226.5h0M675.4 301h0M675.9 296.1h0M676.3 218.6h0M676.1 284.7h0M677.2 229.4h0M677.6 278.6h0M677.1 291.6h0M677.6 329h0M677.8 296.6h0M678.1 218.7h0M678.8 213.8h0M678.8 276.5h0M678.2 293.5h0M679.7 224.1h0M679.6 213.5h0M679.5 289h0M680.1 206.8h0M680.1 224.9h0M680.4 276.8h0M680.1 280.1h0M681.5 213.9h0M681.6 283.2h0M682.2 263.7h0M682.4 284.9h0M682.5 297.8h0M683.1 216.3h0M683.4 212.2h0M683.4 266.6h0M683.8 271.5h0M683.8 264.5h0M683.3 313h0M683.5 280.7h0M684.3 261.1h0M684.9 284.5h0M684.1 290.1h0M686 207.7h0M685.1 290.8h0M686.2 261.5h0M686.3 275.3h0M686.8 284.8h0M687.6 256.5h0M687.6 270.2h0M687.9 177.2h0M687.4 294.4h0M687.5 282.2h0M688.5 210.4h0M688.6 182.1h0M688.1 203.6h0M688.9 287.3h0M689.3 221.2h0M689 255.5h0M689.5 248.4h0M689.6 247.1h0M689.6 251.5h0M689.6 282.6h0M690.2 209.7h0M690.1 253.2h0M690.7 178.2h0M690.1 261.9h0M691.6 212.1h0M691.4 281.6h0M691.8 276.9h0M691.2 288.2h0M692.6 201.3h0M692.6 204.3h0M692.7 255.5h0M692.9 197.1h0M692.3 185.1h0M692.7 177.2h0M692.4 264.2h0M693.3 210.4h0M694.5 211.5h0M694.9 240.5h0M694.4 200.3h0M694.5 254.9h0M694.8 253.4h0M695.6 206.2h0M695.7 212.3h0M695.8 209.6h0M695.2 215.5h0M695.1 258.1h0M696.2 216.2h0M696.6 235.1h0M696.2 230.1h0M696.8 263.7h0M696.1 256.9h0M697.8 241.2h0M697.1 240h0M697.2 245.4h0M698.5 206.2h0M698.2 211.5h0M698.6 228.1h0M698.8 242.6h0M698.4 251.6h0M698.5 270.4h0M699.2 209.7h0M699.1 197.1h0M699.4 207.8h0M699.7 199.2h0M700.6 211.4h0M700.4 241.4h0M700.5 234.9h0M701 241.3h0M701.7 191.7h0M701.7 233.9h0M702 231h0M702 242.5h0M701.2 261.5h0M702.8 236h0M702.6 239.5h0M704 195.8h0M703.4 239.8h0M705 219.1h0M705 254.2h0M705.4 188.9h0M705.3 215.3h0M705.1 233h0M706.5 182.5h0M706.9 188.8h0M706.7 227h0M706.8 217.1h0M707.6 225.2h0M708 268.9h0M708.4 185.5h0M708.2 219.4h0M708.7 212.1h0M709.9 222.6h0M709.1 218.2h0M709.1 214.1h0M710.6 190h0M711 190.6h0M710.1 186.1h0M710.5 186.9h0M710.6 219.5h0M712 184.6h0M711.8 213h0M711.3 236.9h0M712.1 192h0M712.4 214.8h0M713.4 214.3h0M714.4 191.3h0M714.3 212.9h0M714.8 218.7h0M714.9 234.7h0M715.1 192.8h0M715.3 196.7h0M715.7 213.8h0M715.3 226.4h0M715.9 275h0M716.3 187.3h0M716.4 188.1h0M716.3 256.6h0M717.5 190.6h0M717.1 188h0M717.5 220.3h0M717.1 173.1h0M717.7 244.3h0M718.6 200h0M718.8 218.1h0M718.5 221h0M719.5 187h0M720 224.4h0M719.3 230h0M719.4 178h0M720.5 225.6h0M720.5 231.9h0M720.1 261.1h0M721.2 203.2h0M721.7 194.1h0M721.3 182.3h0M721.8 230.9h0M722.1 198.5h0M722.2 234.8h0M722.2 266.2h0M723.1 228.3h0M723.1 216.2h0M723.5 244.7h0M724.4 201.9h0M724.5 199.8h0M724.9 217.2h0M724.1 232.4h0M725.5 184.7h0M725.1 224.7h0M725.3 221.5h0M727 229.4h0M728 198.9h0M727.8 200.1h0M727.4 223.7h0M727.6 225.3h0M728.9 204.5h0M728.1 200.2h0M728.5 224.7h0M728.8 214.3h0M728.7 168.3h0M729.3 193.1h0M729.8 233.7h0M729.3 217.4h0M730 189.4h0M730.5 235.2h0M731.3 196.5h0M731.9 190.9h0M731.3 194.9h0M731.8 217.3h0M731.5 231.4h0M731.8 223.6h0M731 175h0M732 197.7h0M732.4 202.2h0M733.4 196.2h0M733.9 191h0M734.8 222.7h0M734 186.9h0M734.5 182.2h0M735.4 189.7h0M735.6 188.6h0M735.4 236.3h0M736 241.3h0M737.6 199.1h0M737.9 235.2h0M738.2 239h0M738.6 245.6h0M739 192.4h0M740 231.8h0M740.5 195.4h0M740.9 236.4h0M741.4 192.6h0M741.2 188.8h0M741.4 208.2h0M741.2 248h0M742.1 207.9h0M742.6 242.8h0M743.5 202.5h0M743.6 197.9h0M743.2 195.9h0M743.6 297.1h0M744.4 237.4h0M744.4 248.7h0M744.8 244h0M745.3 254.6h0M746.4 191h0M746.4 244.4h0M746.5 258.1h0M747.7 189.2h0M747.2 262.3h0M747.8 179.6h0M747.2 268.6h0M747.9 308.7h0M748.4 246.2h0M748.1 261.5h0M748.8 258.1h0M749.5 264.9h0M750.7 245.5h0M750.6 252h0M751 210h0M751.3 209.2h0M751.5 265.8h0M751.8 163.6h0M751 275.6h0M752.8 210.1h0M752.7 266.6h0M752.7 267.1h0M753.5 251h0M753.1 253.7h0M753.5 259.6h0M754.6 171.9h0M755.5 195.9h0M755.5 207.5h0M755.9 208.5h0M755.3 270.9h0M755.5 262h0M755.3 312.1h0M756.8 265.5h0M756.8 258.1h0M756.1 282.4h0M756 275.3h0M756.9 308.4h0M757.1 211.3h0M758 211.7h0M757.4 267.9h0M757.2 290.8h0M757.4 322.3h0M758.1 206.6h0M758.3 205.1h0M758.3 272h0M759.4 214.2h0M759.7 261.6h0M759.4 272.6h0M760.2 211.2h0M760.8 259.8h0M762.8 262.8h0M763.7 215.6h0M763.1 222.1h0M763.5 270h0M764.9 205.4h0M764.6 217.6h0M764.7 222.7h0M764.7 197.4h0M765.8 279h0M765.4 258.4h0M765.6 290.4h0M766.2 222.4h0M766.1 205.9h0M766.8 276.9h0M767 261.2h0M766.2 271.2h0M766.7 284.7h0M767.8 225.7h0M767.7 222.6h0M767.7 277.7h0M767.2 279h0M767.8 283.4h0M768.2 207.8h0M769.8 224.7h0M769 218.1h0M769.3 275.6h0M770.8 211.6h0M770.8 224.4h0M770.4 216.1h0M771.6 224.8h0M771.5 225.2h0M772.4 210.4h0M772.1 230h0M772 219.2h0M772.4 220.5h0M772.8 271.9h0M772.1 174.9h0M772.4 177.5h0M773.2 173.9h0M773 173.8h0M774.3 210.1h0M774.4 216.5h0M774.7 198h0M774.7 186.2h0M775.7 229.9h0M775.8 212.3h0M775.1 223.8h0M775.5 283.7h0M775.8 275.5h0M775.4 305h0M776.1 228.8h0M776.8 275h0M777 276.1h0M777.7 214.9h0M777.6 214.3h0M777.4 228.5h0M777.9 225.3h0M777 268.7h0M778 288.5h0M777.5 274.7h0M777.9 202.1h0M778.7 279.9h0M778.4 277.2h0M778 284.2h0M778.7 168.8h0M778.6 326.8h0M779 288.8h0M778.3 295.1h0M778.3 296.2h0M779.3 224.3h0M779.8 223.1h0M779.7 287.5h0M779.9 285.4h0M779.8 288.3h0M779.8 186h0M779.1 291h0M779.5 328.5h0M779.1 322.9h0M780.8 229.7h0M780.9 183h0M780.7 294.1h0M780.5 304.4h0M780.7 305.3h0M780.7 288.6h0M781.1 282.5h0M781.3 274.1h0M781.9 273.4h0M782.7 213.7h0M782.7 220.2h0M782.4 224.5h0M782.8 218.6h0M782.1 212.8h0M782.6 204.8h0M783.2 290.9h0M783.1 187.4h0M784.8 222h0M784.8 283.3h0M784.9 283h0M786 213.2h0M785 216.6h0M785.1 281.5h0M786.3 223.6h0M786.7 275.5h0M786.4 284h0M786.7 186.5h0M787.7 226h0M787 296.3h0M787.4 281.4h0M789 212.2h0M788.3 281h0M788.8 292.3h0M788.6 175.2h0M789.7 219.9h0M789.3 277.4h0M789.1 295.9h0M789.5 168.9h0M790.6 210.2h0M790.3 217.6h0M790.8 222.7h0M791.8 227.1h0M791.3 297.3h0M791.6 295.8h0M791.2 194.3h0M792.7 230h0M794 221.7h0M793.9 287.2h0M794.6 291h0M795.9 281.8h0M795.9 295.9h0M795.8 292.5h0M795.3 216.1h0M796.3 218.3h0M796.8 218.2h0M796.7 298.1h0M797.6 295.3h0M797.6 290.5h0M797.4 295.8h0M797.6 297.2h0M797.6 192h0M797.9 197.8h0M797.6 199.7h0M798.8 219.6h0M798.4 215.8h0M798.9 224h0M798.7 282.5h0M798.8 214.2h0M798.5 304.8h0M798.5 313.9h0M799.7 230.9h0M799.4 221.4h0M799 195.6h0M799.7 212.2h0M799.3 319.7h0M800.9 281.3h0M800.8 210.8h0M800.7 219.4h0M801.4 238.1h0M801.9 298.3h0M802 220.1h0M801.7 168.4h0M801.9 299.9h0M801.3 301.8h0M802.3 229.3h0M802.2 282.6h0M802.6 214.7h0M802.5 218.6h0M802.1 318h0M803 229.8h0M803.8 280.6h0M803.1 221.6h0M803.7 185.2h0M803.9 220.3h0M803.2 311.4h0M803.6 304.1h0M804.2 229.6h0M804 297.2h0M804.6 293h0M804.7 199.2h0M805.9 221.5h0M805.3 300.7h0M805.3 208.3h0M805 197.6h0M805.3 305.3h0M806.8 225.3h0M806.8 223h0M806.4 171.7h0M806.1 306.8h0M807.2 225.1h0M807.6 291.8h0M807.8 192.4h0M807.1 224.3h0M808.4 227.2h0M808.3 230.7h0M808.9 224.3h0M808.4 175.7h0M809.8 234.4h0M809.8 294.9h0M809.1 293.5h0M810 226.4h0M810.5 225.5h0M811 282.7h0M811 231.3h0M811.3 231h0M811.1 285.4h0M811.6 210h0M811 218.8h0M812 315.9h0M812.8 290.8h0M812.3 214.7h0M813.6 229.7h0M813.6 225.1h0M813.2 177.4h0M813.8 174.1h0M813.3 168.7h0M814.1 178.5h0M814.4 221.2h0M815.3 223.8h0M815.5 234.8h0M815.4 296.1h0M815.7 298h0M815.6 194.8h0M815.9 191.5h0M815.7 202.8h0M815.9 183.8h0M817 235.9h0M816.2 218.9h0M816.5 300.3h0M816.8 159.1h0M816.4 321.2h0M817.8 218.6h0M817.7 219.5h0M818 217.6h0M817.8 288.5h0M818 291.2h0M817 186.9h0M817.6 158.4h0M817.8 154.5h0M817.6 208.7h0M818.5 225.2h0M818.7 232.9h0M818.3 225.4h0M818.8 293.3h0M818.5 215.5h0M819.2 222.9h0M819.1 214.9h0M819.6 307.8h0M819.9 195.8h0M819.4 175.6h0M819.2 200.7h0M819.6 205h0M819.6 329.2h0M820.3 201.3h0M820.4 153.6h0M820.2 185.5h0M822 293.5h0M821.2 204.8h0M821.3 159.2h0M821.4 208.2h0M821.4 308.9h0M823 208.4h0M822 227.1h0M822.3 295.8h0M822.3 289h0M822.4 209.9h0M822.9 203.8h0M822.9 315.3h0M823.2 223.9h0M823.4 215.9h0M823.5 222.3h0M823.4 289.9h0M823.3 169.8h0M823.9 190.2h0M823.2 333.1h0M824.9 292.6h0M824.1 311.1h0M825 316.5h0M824.3 328.9h0M825.2 220.6h0M825.9 294.2h0M825.8 290.7h0M825.4 347.3h0M825.8 324.6h0M825.2 314.6h0M826.4 217.5h0M826.2 347.3h0M827.9 203.5h0M827 219.5h0M828.8 323.4h0M828.8 347.9h0M829.5 207.4h0M829.1 307.5h0M829.9 309.1h0M830.9 209.6h0M830.6 302.5h0M830.9 310h0M831.2 204h0M831.2 301.7h0M831.4 300.6h0M831.4 309.3h0M831.2 349.5h0M831.5 314.7h0M832.9 212.8h0M832.4 297.1h0M832.9 319.1h0M832.9 338.6h0M832.3 328.5h0M832.3 342.2h0M833.8 209.1h0M833.7 198.2h0M833.1 293.6h0M833.8 312.1h0M834.2 204.1h0M834.7 200.2h0M834.1 303.9h0M834.3 188.2h0M834.5 330.6h0M834.8 325.8h0M834.6 349.7h0M835.1 201.4h0M837.8 209.6h0M837.2 210.8h0M837.4 295.7h0M838.2 198h0M838.3 299.4h0M838.1 303.9h0M839.3 203h0M840.5 197.3h0M840.4 205.9h0M840.1 216.8h0M840.9 307.8h0M840 310.8h0M840.4 307.8h0M840.1 313.1h0M841.7 215h0M841 213.8h0M841 299.8h0M841.1 142.7h0M841 119.7h0M842.4 215.4h0M842.6 99h0M842.5 181.7h0M842.9 198.1h0M843.3 208.2h0M843.7 207.5h0M843.3 95.1h0M844 382.5h0M843.7 364.7h0M844.8 214.5h0M844.5 297.5h0M844.9 313.3h0M845 297.4h0M844.8 178.7h0M844.7 151.5h0M845 166.4h0M844.4 193.4h0M844.6 198.1h0M844.5 172.2h0M844.3 347.3h0M844 319.2h0M844.3 318.3h0M845.5 310.8h0M845.3 137.9h0M845.1 190.8h0M845.6 131.6h0M845.2 147.8h0M845 357.3h0M845.1 345.4h0M847 210.2h0M846.4 204.4h0M846.9 211h0M846.6 191.5h0M846.6 151h0M846.1 318.7h0M846.9 333.9h0M846.2 336.1h0M846 373.5h0M846.8 320.5h0M846.1 352.9h0M846.3 330h0M847.2 212.7h0M847.2 314.8h0M847.1 122.4h0M847.6 375.6h0M847.7 351.7h0M847.4 323h0M848.4 197.4h0M848.8 199.5h0M848.9 208.9h0M848.9 307.7h0M848.2 313.2h0M848.5 177.6h0M848.8 99.3h0M848.9 342.4h0M848.1 389.3h0M849.3 211h0M849.3 375.4h0M849.1 375.1h0M849.5 318.3h0M849.3 378.9h0M849.5 327.4h0M850.4 209.9h0M851 108h0M850 352.7h0M850.1 322h0M850.4 348.1h0M850.3 389.7h0M850.2 331h0M850.1 351.7h0M851.7 335.7h0M851.1 319.4h0M851.2 360.2h0M851.4 361.4h0M851.8 358.9h0M852.7 206.9h0M852.4 315.2h0M852.9 173.7h0M852.9 374.4h0M853 391.5h0M852.3 325.9h0M852.5 317.5h0M853.3 210.2h0M853.8 201.7h0M853.1 193.5h0M853.5 311.2h0M853.3 318.7h0M853.1 303.1h0M853.8 319.9h0M853.4 319h0M853.1 382.8h0M853.3 354.8h0M854 323h0M854.9 198.8h0M854.9 312.7h0M854.9 297.6h0M854.8 162.9h0M854.6 164.6h0M854.1 358.4h0M854.8 324.5h0M855.3 209.5h0M855.6 206.8h0M855.5 192.6h0M855.6 149.8h0M855.1 193.8h0M855.5 193.8h0M855.7 155.6h0M855.1 364.5h0M855 350.1h0M855.6 329h0M855.7 317.8h0M855 361h0M855.4 324.6h0M855.8 330.6h0M856.8 193.1h0M856.8 103h0M856.7 191.2h0M856.8 177.3h0M856.4 321.2h0M856.4 352.6h0M856.5 340.6h0M856.4 376.1h0M856.5 384.1h0M856.8 327.9h0M856.3 337.7h0M857.8 151.6h0M858 124.2h0M857.2 317.3h0M857.4 320.2h0M857.4 347.2h0M858.1 314.4h0M858.3 103.7h0M858.6 325.5h0M858.7 371.4h0M858.2 382.3h0M858.4 325.1h0M858.2 350.5h0M858.9 338.2h0M859.7 210.8h0M859.2 301.5h0M859.5 302.9h0M859.9 167.3h0M859.3 190.6h0M859.7 130.3h0M859.4 355.5h0M859.4 317.9h0M859.2 327.4h0M859.9 373.9h0M861 204.9h0M860.1 300h0M860.1 179.8h0M860.5 154.8h0M860.6 158.3h0M860 361h0M861.2 195.6h0M861.9 318.3h0M861.6 315.6h0M861 309.5h0M861.2 130.3h0M861.5 178.7h0M861.7 161.2h0M861.9 159.8h0M861.1 171.8h0M861 182.7h0M861.7 176.8h0M861.8 322.2h0M861.6 339.9h0M862.3 205.5h0M862.2 306.5h0M862.6 179h0M862.4 104.4h0M862.7 320.1h0M862 322.7h0M863.8 203.2h0M863.4 199.8h0M863.4 191.3h0M863.6 315.1h0M863.2 299.8h0M863.5 184.3h0M863.4 190.7h0M864 318.1h0M864.7 313.9h0M864.3 169.2h0M864.9 153.1h0M865 119.6h0M864.7 129.8h0M865 186.1h0M864.1 176h0M864.2 187.9h0M865.5 199.9h0M865.4 191.9h0M865.1 312.4h0M865 144.2h0M865.2 147.7h0M865.7 114.7h0M866 115.2h0M865.3 164.7h0M865.4 183.2h0M865.8 122.6h0M867 317.9h0M866.1 122.5h0M866.7 146.6h0M866.6 179.7h0M866.1 134.7h0M867.5 195.5h0M867.9 205.8h0M867 204.9h0M868 167.3h0M867.9 128.6h0M867.7 147.4h0M867.3 137.8h0M868 177.5h0M867.5 155.7h0M868.8 195.8h0M868.9 189.3h0M868.4 205.4h0M868.2 298.1h0M868.9 307.5h0M868.7 183.8h0M868.3 123.9h0M868.8 141.4h0M869.8 296.8h0M869 187.8h0M869.8 153.1h0M869.8 172.2h0M869 147h0M869.3 126.6h0M869.2 130.1h0M869.7 172.4h0M869.8 163h0M870.8 191.5h0M870.5 200.1h0M870.2 297.3h0M870.6 299.8h0M870.5 299.4h0M870.6 148.9h0M870.2 132.5h0M870.6 125.5h0M870.5 169.5h0M871.5 187h0M871.4 197.8h0M871.2 164.5h0M871.1 188.6h0M871.5 164h0M871.9 174.7h0M871.9 159.7h0M871.7 176.3h0M871.8 181.7h0M871.7 188.9h0M871.2 172.3h0M872.6 310.9h0M872.9 167.1h0M872.2 173.3h0M872.9 182h0M872.3 113.2h0M872.3 180.7h0M872.5 151h0M873 185.2h0M872.5 189.6h0M872.5 166.2h0M872.6 127.6h0M872 165h0M872.2 319.5h0M873.6 194.2h0M873.4 208.5h0M874 158.3h0M873 186.6h0M873.5 153.3h0M873.5 185.6h0M874 136.7h0M873.8 144h0M873.5 171.3h0M874 143.6h0M873.1 174.8h0M874 181.2h0M873.5 359.8h0M873.1 364h0M873.2 362.3h0M874.5 191.9h0M874.6 318.6h0M874.2 318.1h0M874.9 128.5h0M874.2 135.4h0M874.1 124.7h0M874.3 355.7h0M874.7 338.7h0M874.3 338.6h0M874.1 367.5h0M875.8 197h0M875.2 205.5h0M875.4 310.2h0M876 191.5h0M875.1 165.3h0M875.1 190.2h0M875.2 136.9h0M875.1 370.6h0M875.8 328.4h0M875.9 318.3h0M875.5 367.5h0M875.3 359h0M875.8 320.5h0M875.5 369.9h0M876.4 134.6h0M876.9 126.2h0M876.7 175h0M876.1 350.1h0M876.1 320h0M876.8 332.9h0M876.9 348.1h0M876.3 342.6h0M876.4 318.6h0M876.9 317.7h0M876.9 317.1h0M877.7 195.1h0M877.1 196.7h0M877.6 350.9h0M877.6 356.1h0M877.3 347.7h0M878 328.8h0M877.5 317.7h0M877.6 330.3h0M878.4 177.8h0M878.4 163.9h0M878.3 142.5h0M878.5 188.4h0M879 194.3h0M878.9 330.9h0M878.1 319.1h0M878.4 348h0M878.5 357.9h0M878.9 356.5h0M879.1 195.7h0M879.2 307.6h0M880 156.3h0M880.3 208.7h0M880 206.9h0M880.1 313.6h0M880.9 152.7h0M880.2 325.6h0M880.3 318.6h0M880.9 321.9h0M881.1 201.8h0M881.4 205h0M881.2 317.7h0M881.8 303.5h0M881.4 300.6h0M881.7 364.8h0M882.1 332.3h0M882.2 319.8h0M882.3 324.8h0M882.3 341.7h0M882.4 318.9h0M883.1 208.3h0M883.2 319.9h0M883.3 321.1h0M884.9 202.7h0M885 363.9h0M885.3 197.7h0M885.3 340.8h0M886.1 211.7h0M886.1 341.8h0M887.7 204.3h0M887.1 202.1h0M887.9 197.6h0M888 213.7h0M887.2 335h0M887.3 344.8h0M888.3 203.7h0M889.5 211.2h0M889.8 206.2h0M889.8 215.5h0M889.1 320h0M889.7 187.4h0M889.5 345.5h0M889.2 336.4h0M889.4 367.6h0M890.6 307.4h0M891 305.8h0M890.7 340.7h0M890 368.1h0M890.7 328.4h0M890.5 349.6h0M890.6 329.9h0M891.3 207.3h0M891 323.6h0M892 363.4h0M891.9 325.9h0M891.3 362.1h0M893 209h0M892.6 313.8h0M892.5 321.1h0M892.5 359.8h0M892.5 325h0M893.8 308.2h0M893.4 304.8h0M893.9 122.9h0M893.1 162.7h0M893.1 360h0M893.6 330.5h0M894.2 223.6h0M894.9 211.2h0M894.9 318.8h0M894 312.9h0M894.7 320.4h0M894.6 304h0M894.7 161.7h0M894.6 144.4h0M894.3 205.4h0M894.7 187.2h0M894.6 331.6h0M894.5 333.7h0M894.3 357.7h0M895.6 223.6h0M895.8 315.5h0M895.5 301.1h0M896 155.9h0M895.1 154.4h0M895.7 133.5h0M895.6 167.1h0M895.7 365.8h0M896 321.7h0M895.6 343.5h0M895.5 359h0M896.5 226h0M896.5 223.5h0M897 224h0M896.7 314.7h0M896.9 302.3h0M896.2 316.1h0M896.8 174.2h0M896.2 130.9h0M896.1 141.2h0M896.2 354.1h0M897.9 213.7h0M897.9 317.8h0M897.5 202h0M897.6 198.2h0M897.7 203.8h0M897.8 322h0M897 337h0M897.8 350.1h0M897.1 329.8h0M898.9 211.3h0M899 206.2h0M898.6 174.5h0M898.8 175.4h0M898.4 188.8h0M898.2 182.7h0M899 154.3h0M899.1 223.8h0M899.1 337.5h0M900 212.7h0M900.5 217.4h0M900.7 155.1h0M900.4 203.1h0M901.7 212.7h0M901.7 303h0M901.4 318.9h0M901.3 181.4h0M901.5 206.8h0M901.5 181.8h0M902.9 160.9h0M902.6 201.5h0M903.8 225.4h0M904.1 223.2h0M904.8 317.2h0M905.6 307.3h0M905.8 317.7h0M905.6 207.4h0M906.4 220.8h0M906.6 219.2h0M907 227.4h0M906.7 314h0M906 306.8h0M906.8 175.2h0M907.6 206.7h0M907.7 184.3h0M907.3 191.1h0M907.6 183.6h0M907.1 316h0M907.5 316.8h0M907.9 315.8h0M908.7 228h0M908 312.3h0M909 305.8h0M908.7 201.5h0M908.7 318.5h0M908.9 344.7h0M909.4 235.1h0M909.6 235h0M909.4 217.5h0M909.8 184.8h0M909.3 329.1h0M909.7 323.8h0M909 316.3h0M910.3 226.2h0M910.8 219.7h0M910.4 307.2h0M910.2 313.2h0M910.7 306.2h0M910.8 198.5h0M910.9 339.6h0M910.9 326.6h0M910.9 340.6h0M911.5 301.7h0M911.5 318.7h0M912.2 236h0M912.9 296.1h0M912.4 300.3h0M912.2 214h0M913.2 296h0M913.9 337.3h0M914.3 221.4h0M914.3 221h0M914.6 299.5h0M914.7 305.4h0M914 314.5h0M914 321.3h0M915.9 228.5h0M915.4 226.4h0M915.6 241.6h0M915.5 301.8h0M916.3 299.7h0M916.1 306.8h0M917.6 230h0M917.9 237.7h0M917.5 245.2h0M917.5 236.4h0M917.4 224.9h0M917.4 313h0M917.5 309.3h0M917.7 225.9h0M917.2 216.2h0M918.8 231.4h0M918.4 316h0M918.1 314h0M919.6 299.8h0M919.5 304.3h0M919.3 213.5h0M919 192.5h0M920.9 301.6h0M920.5 310.5h0M920.3 215.2h0M920.3 229.8h0M921.4 314h0M922.4 234.8h0M922.9 224.3h0M922 227.9h0M922.8 334.5h0M922.8 324h0M922.3 337.6h0M923.5 240.2h0M923.3 301.9h0M923.6 194.6h0M924.9 241.3h0M924.5 234.9h0M924.6 233.3h0M924.1 246.9h0M924.3 315.7h0M924.1 313.1h0M924.4 346.2h0M924.9 329.2h0M924.6 332.3h0M925.3 245.2h0M925 297.5h0M925.7 225.5h0M925.2 320.7h0M925.5 331h0M926.9 250.4h0M926.3 310.6h0M926.8 343.8h0M928 247.9h0M927.6 311.4h0M927.9 300.8h0M927.6 327.8h0M928.3 314.3h0M928 332h0M928.9 314.8h0M929.9 244.3h0M929.3 198.7h0M929.4 334.5h0M929.1 313.9h0M929.8 336.1h0M930.8 257.6h0M930.5 250.7h0M930.2 308.3h0M930.9 240.8h0M930.4 230.4h0M930.1 334.7h0M930.9 327.5h0M931 304.9h0M931.2 308.2h0M931.6 332.9h0M931.7 341.4h0M932.9 244.1h0M933 195.6h0M932.4 316.4h0M932.6 331.8h0M933.4 259.8h0M933.8 316.3h0M933 303.6h0M934.3 306.1h0M934.1 238.7h0M934.7 204.5h0M934.8 238.5h0M934 322.6h0M935.7 307.6h0M935.1 317h0M935.7 235.2h0M935.3 235h0M935.4 320.5h0M935.1 316.3h0M937 243.2h0M936.8 317.7h0M936.7 310.9h0M936.5 317.1h0M936.7 194.6h0M936.1 213.6h0M936.4 206.2h0M936 317.2h0M936.3 335.6h0M937.9 239.3h0M937.9 316.7h0M937.3 214.1h0M937.7 225.6h0M937.4 335.3h0M937.1 317.6h0M937.6 339.3h0M937.8 322h0M938.5 253.4h0M938.9 251.4h0M939 318.9h0M938.8 307.7h0M938.1 234.9h0M938.4 206h0M938.2 238.6h0M938.2 232.8h0M938.7 238.7h0M938.2 200.3h0M938.2 328.7h0M938.4 326.1h0M938.8 343.6h0M939.1 252.7h0M939.8 304.5h0M939.5 312.5h0M939.6 300.8h0M940 303.4h0M939.4 232.9h0M939.7 198.8h0M939.6 225.6h0M939.9 239.9h0M939.6 238.3h0M939.3 226.8h0M939.3 220.2h0M939.3 330.5h0M939.3 339.8h0M939 321.4h0M939.7 331.9h0M939.1 320.1h0M939.9 320.9h0M940.4 319.9h0M940.1 230.5h0M940.8 196.9h0M940.3 235.8h0M940.8 200.9h0M940.2 228.4h0M940.9 319.8h0M940.5 318.3h0M941.3 256.9h0M941.1 239.7h0M941.3 242.1h0M941.7 255h0M941.5 307.6h0M941.1 299.5h0M941.7 229.3h0M941.2 323.7h0M942 319.4h0M942 301.3h0M942.2 223.4h0M942.9 215.6h0M942.9 226.4h0M942.1 235h0M942 229.3h0M942.3 339h0M942.6 324.1h0M943.4 224h0M943 221.3h0M943.9 234.3h0M944 202.8h0M944 198.4h0M943 320.4h0M943 321.5h0M944.5 257.6h0M944.7 241.1h0M944.2 314.1h0M944.8 314.9h0M944.7 232.8h0M944.5 236.1h0M944.6 233h0M944.6 231.8h0M944.9 194.7h0M944.3 216.1h0M944.3 232h0M944.9 205.1h0M945 331.6h0M944.8 336.8h0M944.4 342.9h0M944.3 323.5h0M945.1 246.9h0M945.6 321.3h0M945.1 305.2h0M945.9 210.7h0M945.7 236.5h0M945.6 208h0M946.4 220.3h0M946.3 238.5h0M946.2 325.3h0M946.7 336.1h0M946.4 342.3h0M947.5 250.5h0M947.4 302.3h0M947.7 323.4h0M947.8 223.1h0M947.8 194.4h0M947.9 222.2h0M947.6 201.6h0M947.9 219.2h0M947.5 323.3h0M948.3 251h0M948.8 211.7h0M949.6 242.7h0M949.1 310.9h0M949.3 308.9h0M950 307.1h0M949.5 200.4h0M950.9 241.3h0M950.6 322.5h0M950.9 324.2h0M951.8 239.6h0M951.1 313.1h0M951.3 310.8h0M952.9 244h0M952.8 235.2h0M952.2 325.6h0M953.9 321.9h0M953.9 195.8h0M954.1 319.6h0M954.7 318h0M955.6 236.2h0M955.8 223.6h0M955.6 185.3h0M955 217.4h0M956.4 232.5h0M956.1 235.5h0M956.5 220.2h0M956.9 325.6h0M956.1 309.5h0M956 177.7h0M956.9 209.9h0M957 234.8h0M957.9 233.6h0M957.3 224h0M957.9 229.5h0M957.1 316.2h0M958.9 216.9h0M958.9 179.1h0M958.3 332.8h0M959.3 319.5h0M959.3 192.5h0M959.3 208.9h0M960.5 220.5h0M960.3 333.1h0M960.5 318.8h0M961.7 216.8h0M961.8 211.2h0M962.4 216.4h0M962.2 200.1h0M962.3 173.3h0M962.2 160.5h0M962.7 207.2h0M962.3 177.1h0M962.3 194.9h0M963.4 207.5h0M963.1 332.3h0M963.3 333.4h0M963.6 319h0M963.1 178.3h0M963.6 190.1h0M963.2 176.8h0M963.7 174h0M963.3 193.2h0M964.4 212.2h0M964.8 333.3h0M965.9 209.1h0M965.1 210.6h0M965.7 208h0M965 210.6h0M965.4 199.6h0M966.5 337.9h0M967.4 207.6h0M967.7 203.8h0M967.8 320.7h0M967.8 335.2h0M967.3 332.2h0M968 326.5h0M968.3 179.9h0M968.4 181.2h0M968.6 360h0M968.9 368.4h0M968.8 378.1h0M969.8 194.1h0M969.6 204.4h0M969.1 338.6h0M969 327.7h0M969.4 322.5h0M969.5 176.8h0M969.5 161.8h0M969.2 342.4h0M969.9 394.1h0M971 208.7h0M970.2 199.9h0M970.7 192h0M970.8 323.6h0M970.9 168.7h0M970.7 145.5h0M971.7 198.7h0M971.2 195.5h0M972 338.8h0M971.9 161.9h0M971.4 169.4h0M971.8 175.5h0M972 156h0M971.4 181.3h0M971.5 176h0M971.5 373.1h0M971.2 377.2h0M972.4 332.8h0M972.3 322.3h0M973 187.4h0M972.1 169.4h0M972.5 190.6h0M972.6 146.3h0M972.5 367.9h0M972.9 337.8h0M974 198.3h0M973.2 332.7h0M973 324.4h0M973.4 138.9h0M973.7 175.7h0M973.5 185h0M973 153.8h0M973 145.9h0M973.2 191.3h0M974.8 327.8h0M974.2 158.4h0M974.3 158.4h0M975.5 185.3h0M975 185.7h0M975.6 185.7h0M975.1 181.6h0M975.6 364.9h0M976.2 325.1h0M976.2 319h0M976.8 321.5h0M976.3 174.5h0M976.9 159.9h0M976.1 161.1h0M976.4 188.9h0M976.6 187h0M976.7 192.3h0M976.6 187.3h0M977.8 198.4h0M977.4 210.9h0M977.4 162.7h0M977.5 187.9h0M977.8 191.5h0M978.7 323.2h0M978.3 179.7h0M979 193.7h0M978.2 189.7h0M978.4 163h0M978.9 165.2h0M978.7 165.8h0M979.7 332h0M979.5 178.2h0M979.5 162.5h0M979.3 190.4h0M980 144.5h0M979.2 195.5h0M980.7 205.4h0M980.4 197.7h0M980.1 201.6h0M980.3 337.7h0M980.5 159.1h0M980.9 181.3h0M980.9 391.5h0M981.9 208.5h0M981.5 195.9h0M981.9 215.9h0M981.7 334.2h0M982.8 199.9h0M982.6 321h0M982.2 335.7h0M982.4 320.1h0M983.4 209.9h0M984.5 213.5h0M984.3 320.1h0M985.4 337.1h0M985.8 334.4h0M985.7 328.9h0M986.3 206.1h0M986.5 320.2h0M987.4 199.8h0M987.8 217.3h0M987.3 327.7h0M987.6 325.4h0M987.7 322h0M987.2 200.1h0M987.6 171.7h0M988.8 158h0M989 152.1h0M989.9 332.6h0M989.1 320.2h0M989.4 166.5h0M989.1 180.1h0M989.5 161.8h0M989.7 190.9h0M990 324.3h0M990.7 194.1h0M990.3 197h0M991 220h0M991.6 219.4h0M991.1 205.1h0M991.5 334.9h0M991.4 198.2h0M991.6 180.6h0M991.6 199.8h0M991.3 182.8h0M991.3 171.3h0M991.8 176.9h0M992.7 209.3h0M992.1 214.4h0M992.8 197.7h0M993.5 149.3h0M993.8 158.5h0M994.7 336.4h0M994.2 327.9h0M994.7 194.6h0M994.1 199.4h0M994.8 154.8h0M994.5 155.2h0M995 164.6h0M994.2 169.8h0M995.4 218.7h0M995.4 324.5h0M995.5 169.9h0M996.5 213.6h0M996.3 222.4h0M996.1 206.6h0M996.5 204h0M996.6 156.1h0M996.1 203.3h0M996.7 159.5h0M996.9 201.1h0M996.5 200.8h0M996.1 189.1h0M997.9 222.3h0M998 210.3h0M997.6 320.4h0M997.4 319.8h0M997.4 197.3h0M997.8 146.7h0M997.8 190.3h0M998 209.4h0M998.9 210.5h0M998.8 209.6h0M998.8 323h0M998.9 148.5h0M998.3 198.5h0M998.6 184.3h0M999.9 207.1h0M999.8 213.5h0M999.4 326.5h0M999.4 163.9h0M999.5 145.2h0M999.6 398.7h0M1000.8 206.5h0M1000.6 223.7h0M1000.6 213.1h0M1000.5 324.4h0M1000.3 323.1h0M1000.5 322.8h0M1000.1 165.1h0M1000.1 196.8h0M1000.8 405.2h0M1000.1 423.8h0M1001.5 211.6h0M1001.3 223.1h0M1001.2 220.1h0M1001.5 320.6h0M1001.7 334.1h0M1001.3 195.7h0M1001.4 191.4h0M1001 179.9h0M1001.1 197h0M1001.2 367.3h0M1001.8 411.3h0M1001.9 367.5h0M1002 204.2h0M1002.4 212.7h0M1002.1 336.3h0M1002.6 336.4h0M1002.6 194.3h0M1002.8 176.4h0M1002.6 205.6h0M1002 344.6h0M1002 370.7h0M1003 341.9h0M1002.8 386.6h0M1002.1 361.1h0M1002.7 413.5h0M1003.1 204.6h0M1003.1 204.9h0M1003.1 160.7h0M1003.3 184.3h0M1003.2 163.9h0M1003.3 419.3h0M1003.9 376.1h0M1003.9 356.6h0M1003.9 337.6h0M1003.7 359.7h0M1004.2 204.7h0M1004.3 212.4h0M1004.7 332.6h0M1004.8 316.9h0M1004.8 141h0M1004.8 199.1h0M1004.6 200.3h0M1004.7 146.1h0M1004.4 160.2h0M1004 413.8h0M1004.9 342.8h0M1005.7 219.4h0M1005.5 204.2h0M1005.8 210.5h0M1005.1 323h0M1005.7 207h0M1005.9 172.3h0M1005.9 170.5h0M1005.2 387.2h0M1005.1 355h0M1005.5 417.9h0M1005.5 343.9h0M1005.3 362.1h0M1006.8 224.8h0M1006.7 216.7h0M1006.7 323.2h0M1006.2 189h0M1006.4 200.3h0M1006 127.9h0M1006.4 190.2h0M1006.4 131.7h0M1006.3 379.9h0M1007.4 208.9h0M1007.6 219.4h0M1007.7 212.3h0M1007.6 206.1h0M1007.7 216.1h0M1007.9 184.9h0M1007.4 136.6h0M1007.1 205h0M1007.2 126.9h0M1007.3 143.2h0M1007.5 187.9h0M1007.9 344.1h0M1007.1 364.6h0M1007.2 359.1h0M1008.7 331.4h0M1008.4 333.3h0M1008.8 207.1h0M1008.2 206.1h0M1009 168.9h0M1008 204.2h0M1008.6 163.8h0M1008.3 187.9h0M1008.3 368.1h0M1008.4 342.3h0M1008.4 359h0M1008.6 355.7h0M1008.1 352.1h0M1008.1 334.3h0M1008.4 367.9h0M1009.8 222h0M1009.4 324.1h0M1009.5 189.4h0M1009.2 336h0M1009.4 363.7h0M1010 212.9h0M1010.1 224.6h0M1010.4 328.1h0M1010.7 323.7h0M1010.3 179.1h0M1010.3 196.8h0M1010.9 193.4h0M1010 139.9h0M1010.9 192.7h0M1010.5 174.7h0M1010.5 331.4h0M1010.2 340.9h0M1010.2 348.9h0M1010.3 373.9h0M1010.1 344.9h0M1010.3 403.9h0M1010.7 344h0M1010.3 412.5h0M1010.8 418.3h0M1010.3 333h0M1010.4 400.7h0M1010.8 409.6h0M1010.1 367.1h0M1011.7 221.3h0M1011.7 228h0M1011.4 331.7h0M1011.1 320.7h0M1011.3 163.3h0M1011.6 183.8h0M1011.4 130.6h0M1012 140h0M1011.5 164.8h0M1011.6 341.5h0M1011.9 341.9h0M1011.8 360.5h0M1012 354h0M1011.9 338.6h0M1011.2 362.2h0M1011.9 331.1h0M1012.5 220.3h0M1012.8 320.9h0M1012.9 326.2h0M1012.7 128.1h0M1012.3 208.4h0M1012.5 161.2h0M1012.3 145.6h0M1012.2 132.3h0M1012.2 397.1h0M1012.5 396.7h0M1012.1 357.5h0M1012.9 388.6h0M1012.5 396.2h0M1013.4 168.3h0M1013.6 184.5h0M1013.8 189.8h0M1013.4 116.2h0M1013.8 338.7h0M1013.4 332.7h0M1014.7 319.8h0M1014.1 326.3h0M1014.6 205h0M1014.3 206.8h0M1014.4 201.6h0M1014.1 134.5h0M1015.7 223.8h0M1015.5 316h0M1015.1 317.6h0M1015.1 166.1h0M1015.6 194.5h0M1015.2 162.7h0M1015.5 132.8h0M1015.7 137.5h0M1015.1 170.1h0M1015.5 174.1h0M1015.2 191.1h0M1015.8 181.7h0M1015.5 397.8h0M1016.8 218h0M1016.2 222.8h0M1016.8 166.6h0M1016.1 210.2h0M1016.7 135.3h0M1016 197.4h0M1016.9 169.8h0M1017 153.2h0M1016.2 133.4h0M1016.2 173.8h0M1016.6 210.7h0M1016.5 374.9h0M1017.6 230.1h0M1017.2 324.1h0M1017.2 325.6h0M1017.8 331.1h0M1018 328.1h0M1017.7 198.8h0M1017.5 206.7h0M1017.8 127.9h0M1017.6 157.6h0M1017.4 210.9h0M1017.1 186.8h0M1017.4 181.8h0M1017.8 401.1h0M1017.6 410.3h0M1018.2 211.4h0M1018.5 135.1h0M1018.2 202h0M1018.4 149.8h0M1018.8 195h0M1019.9 196.1h0M1019.2 177.6h0M1019.1 211.9h0M1019.1 193.2h0M1019.4 193.2h0M1019.2 144.8h0M1019.2 351.3h0M1020.9 185.5h0M1020.1 168h0M1021 213.8h0M1021.9 220h0M1021.9 319.9h0M1021.4 163.2h0M1022.6 319.2h0M1022.7 329.9h0M1023.8 216.7h0M1023.4 228.3h0M1023.3 210.8h0M1023.2 165.3h0M1024 198h0M1025.8 217.4h0M1025.7 219.9h0M1025.3 320.1h0M1026.4 325.9h0M1026.4 323.5h0M1026.1 316.9h0M1026.7 328.1h0M1026.5 322.9h0M1026 200.7h0M1027.9 223.7h0M1027.2 230.4h0M1027.1 226.6h0M1027.4 223.2h0M1027.3 213.9h0M1028.6 231.6h0M1028.6 228.4h0M1028.6 227.1h0M1028.8 218.1h0M1028.7 220.9h0M1028.5 332.2h0M1028.8 315.6h0M1028.2 321h0M1028.2 332.6h0M1028.8 323.4h0M1028.8 350.2h0M1029.6 223.4h0M1029.2 217.4h0M1029.9 315.1h0M1029.5 343.9h0M1029.7 354.8h0M1030.3 322.1h0M1030.9 318.1h0M1030.3 311.2h0M1030 414.5h0M1030.7 372.5h0M1031.4 216.9h0M1031.6 235.4h0M1031.1 406.9h0M1031.9 348.8h0M1031.9 337.7h0M1031.5 368.1h0M1032.2 317.1h0M1032.5 315.9h0M1032.3 330.3h0M1032.3 318.4h0M1032.7 388.5h0M1032.1 350.5h0M1032.6 345.4h0M1033.1 329.4h0M1033.6 323h0M1033.5 352.1h0M1033.3 394.2h0M1033.6 330.4h0M1033.7 389h0M1033.2 350.6h0M1033.1 329.8h0M1034 369.1h0M1034.7 222.2h0M1034.9 312.7h0M1034.1 341.2h0M1034.5 340.7h0M1034.6 331.9h0M1034.7 330.1h0M1034.7 360.2h0M1034.4 340.7h0M1035.7 227.6h0M1035 236.7h0M1035.2 323.4h0M1035.9 311.5h0M1035.6 326.4h0M1035.8 331.1h0M1035.8 329.3h0M1035.7 349.7h0M1035.5 376.9h0M1036.9 220h0M1036.6 231.1h0M1037 228.8h0M1037 232.5h0M1036.8 315.9h0M1036.3 404.8h0M1037.6 222.9h0M1037.9 322.1h0M1037.3 369.7h0M1037.5 344.9h0M1037.2 413.7h0M1038 350.4h0M1038.9 217.9h0M1038 400.2h0M1039 347.8h0M1039.3 234.2h0M1039.9 327.1h0M1039.6 328.9h0M1039.7 381.9h0M1040.8 237.5h0M1040.2 240.6h0M1040.8 327.2h0M1041 364.8h0M1040 404.3h0M1041.7 222.4h0M1041.5 223.8h0M1041.9 240.6h0M1041.2 331.1h0M1041.7 371.8h0M1041.5 409.8h0M1041.5 335.6h0M1041.2 346.7h0M1041.3 372.8h0M1042.3 236.8h0M1042.1 238.8h0M1042.7 320.3h0M1042.5 361.6h0M1042.5 364.8h0M1042.4 341.8h0M1042.9 360.8h0M1043.3 235.2h0M1043.9 360.3h0M1044.2 342.5h0M1044.5 333.5h0M1045.3 237.8h0M1045.9 320.3h0M1045.6 186.3h0M1046.5 239.7h0M1046.5 234.8h0M1046.7 361.4h0M1046.9 337.1h0M1047.5 316.1h0M1047.4 326.4h0M1048.3 241.1h0M1048.6 308.1h0M1048.4 220.5h0M1048.6 167.9h0M1049.7 316.5h0M1049.8 305.4h0M1050 315.2h0M1049.1 149.6h0M1049.7 153.4h0M1050 309.1h0M1050.4 319.9h0M1050.8 324h0M1050.3 218.7h0M1050.8 381h0M1050.4 352h0M1050.8 325.2h0M1051.2 324h0M1051.7 162.9h0M1051.9 223.8h0M1051.8 207.3h0M1051.4 201.5h0M1052.3 239h0M1052.9 309.1h0M1052.4 228.9h0M1052.8 383.9h0M1052.3 323.7h0M1052.2 332.6h0M1052.4 324.6h0M1053.5 313.7h0M1053.7 308h0M1053.2 166.9h0M1053.5 352.2h0M1054.8 228.9h0M1054 247.1h0M1054.5 322.5h0M1054.4 396h0M1054.1 369.3h0M1055.5 242.3h0M1055.3 246.1h0M1055.8 234.4h0M1055.7 238h0M1055.3 323.3h0M1055.6 309.7h0M1056 323.9h0M1055.1 327.8h0M1056.7 237.2h0M1056.1 231.2h0M1056.8 308h0M1056.7 309.7h0M1056.3 322.1h0M1056.3 321.2h0M1056.7 324h0M1056.4 339.4h0M1056.2 349h0M1057.1 238.5h0M1057.3 194.5h0M1057.6 160.3h0M1057.7 335.5h0M1057.4 332.4h0M1058.6 227.1h0M1058.1 233.1h0M1058.7 221.5h0M1058 187.2h0M1059.1 222.7h0M1059.8 310.4h0M1059.8 169.9h0M1059.4 349.6h0M1059.2 328.5h0M1059.2 346.8h0M1060.2 230h0M1060.8 314.7h0M1060.4 381.1h0M1061.6 322.7h0M1061.6 319.6h0M1061.4 321h0M1061.4 368.9h0M1062.4 349.9h0M1062.7 361.4h0M1062.8 353.1h0M1063.9 228h0M1063.7 227.6h0M1063.6 230.8h0M1063.2 323.8h0M1063.6 313.5h0M1063.5 313.8h0M1063.2 319.2h0M1063.9 337.5h0M1064.9 215.8h0M1064.9 404.7h0M1064.8 342.4h0M1065.4 229.7h0M1065.3 221.4h0M1065.3 209.2h0M1065.4 215.7h0M1065.2 333.8h0M1065.7 409.4h0M1066.1 325.1h0M1066.2 334.8h0M1066.9 388.4h0M1066.9 351.3h0M1066.4 361.5h0M1067.7 206.7h0M1067.4 208.7h0M1067.9 172.5h0M1067.1 424.4h0M1067.4 404.6h0M1067.7 426.9h0M1068.9 328.7h0M1068.3 155.7h0M1068 177.8h0M1068.5 204.8h0M1068 381.1h0M1068.8 412.3h0M1068.1 411.6h0M1068.2 377.8h0M1069.9 325.6h0M1069.3 164.8h0M1069.8 423.1h0M1069.9 337.4h0M1069.3 351.5h0M1069.4 364.8h0M1069 424.3h0M1070.5 211.1h0M1070 209.6h0M1071 162.8h0M1070.9 172.1h0M1070.5 194.8h0M1070.2 349.8h0M1071 391.5h0M1071.2 202.3h0M1071.1 323.2h0M1071.3 318.8h0M1071.4 150.6h0M1071.3 412.4h0M1071.8 405.8h0M1071.9 437.1h0M1072.4 212.1h0M1072.9 206.9h0M1072.4 206.4h0M1072.8 317.8h0M1072.6 330.9h0M1072.6 338.6h0M1072.5 195.2h0M1072.7 343.4h0M1072 343.8h0M1072.8 358.5h0M1073.6 198.1h0M1073.2 328.4h0M1073.7 319.1h0M1074 185.9h0M1073.2 350.6h0M1074.9 207.4h0M1074.6 196.3h0M1074.4 204.4h0M1074.1 326h0M1074.2 328.9h0M1074.6 143.7h0M1074.6 197.5h0M1074.9 184.2h0M1075.6 323.1h0M1076 322.3h0M1075.1 320.9h0M1075.1 319.1h0M1075.7 194.8h0M1075.3 178.1h0M1076.4 204.3h0M1076.3 319.3h0M1076.6 324.5h0M1077 187.1h0M1076.7 129.2h0M1076.4 395.2h0M1077.7 204.3h0M1077.2 197.6h0M1077.7 333.7h0M1077.6 334.1h0M1077.4 333.9h0M1077.1 330.5h0M1077.5 334.1h0M1077.9 176.3h0M1078.7 206.5h0M1078.2 331.2h0M1078.9 190.3h0M1078.5 168.2h0M1078.7 190.3h0M1078.3 183.6h0M1078.3 190.4h0M1078.5 142.9h0M1078.7 196.6h0M1078.7 181.5h0M1079.9 206.5h0M1079.9 210.1h0M1079.1 321.3h0M1079.3 193.5h0M1079.9 183.4h0M1079.5 153.7h0M1079.3 187.5h0M1079.6 152.5h0M1080.7 196.8h0M1080.4 210.8h0M1080.2 193.8h0M1080.1 333.9h0M1080.8 333.9h0M1080.2 179.4h0M1080.1 131.7h0M1081 167.9h0M1080.4 167.5h0M1080.3 353.8h0M1081.5 186.2h0M1081.7 160.3h0M1081.9 156.2h0M1081.1 192.9h0M1081.5 134.8h0M1081.5 146.4h0M1082.5 206.1h0M1082.6 322.8h0M1082.6 171.2h0M1082.2 184.6h0M1083.3 214.3h0M1083.2 327.7h0M1083.2 317.8h0M1083.4 171.5h0M1083.1 173.1h0M1083.2 167h0M1083.5 143.8h0M1083.4 178.2h0M1083.4 146.2h0M1083.8 138.2h0M1083.1 194.4h0M1084.7 211.3h0M1084.1 208.2h0M1084 332h0M1084.3 193.6h0M1084.9 194.7h0M1085 195.6h0M1084.6 174h0M1084.4 161.3h0M1085.8 208h0M1085.2 326.3h0M1085.8 184.6h0M1085.2 191.8h0M1085.5 146.1h0M1086.8 199.3h0M1086.3 141.6h0M1086 182.3h0M1086.7 176.5h0M1086.3 168.1h0M1086 172.4h0M1086.1 194.7h0M1087.2 210.4h0M1087.5 200.6h0M1087.2 320.1h0M1087.8 167.9h0M1087.8 191.8h0M1087.9 176h0M1088.3 198.2h0M1088.2 202.8h0M1088.3 178.1h0M1089.4 318.4h0M1089 194.8h0M1089.6 174.3h0M1089.1 369.8h0M1089.7 365.4h0M1090.2 202.7h0M1090.8 137.3h0M1090.6 334.4h0M1091.3 210.9h0M1091.3 328.4h0M1091.9 323.1h0M1091.5 354h0M1091.7 352.8h0M1092.9 207.7h0M1092.3 327.1h0M1092.5 328.5h0M1092.4 179.4h0M1092.8 371h0M1092.3 334.3h0M1093.1 307.7h0M1094 144.7h0M1093.6 344h0M1093.3 343.9h0M1094.8 316.7h0M1094.4 311.1h0M1094.2 326.2h0M1095.2 316.8h0M1095.3 173.9h0M1096.7 209.4h0M1096.9 196.2h0M1097.5 192.9h0M1097.7 316h0M1097.6 322.2h0M1098.6 208.6h0M1098.1 188.8h0M1098.2 199.3h0M1098.2 197.5h0M1098.1 315.6h0M1098.6 394.8h0M1099.4 192.6h0M1099 193.3h0M1099.5 200.1h0M1099.4 192.6h0M1100 382.4h0M1100 201.5h0M1100.4 330h0M1100.2 316.2h0M1100.2 382.9h0M1101.5 329.5h0M1101.5 316.3h0M1101.5 326.3h0M1101.1 323.4h0M1101.1 149.6h0M1101.9 413.9h0M1101.9 356.3h0M1102.6 326h0M1102.7 157.2h0M1102.9 162h0M1103.7 205h0M1103.3 202.2h0M1103.8 183.3h0M1104 337h0M1104.1 334.3h0M1104.4 328.3h0M1104.9 181.5h0M1104.5 373.2h0M1105.1 184.2h0M1105.7 197h0M1105.9 331.9h0M1105.3 164.4h0M1105.6 177.1h0M1105.5 137.5h0M1105.5 178.8h0M1105.3 424.9h0M1106.4 183.6h0M1106.8 171.3h0M1106.3 152.1h0M1106.3 162.7h0M1106.5 142.3h0M1106.7 160.8h0M1106.4 137.8h0M1107.6 198.3h0M1107.4 319.5h0M1107.4 137.7h0M1107.9 183.8h0M1107.7 183.6h0M1107.8 183.5h0M1107.6 128.2h0M1107.2 418.5h0M1109 191.5h0M1108.2 323h0M1108.1 326.3h0M1108.5 335.1h0M1108.6 169.5h0M1109.9 194.2h0M1109.1 185.5h0M1109.5 185.9h0M1109.9 324.3h0M1109.5 321.2h0M1109.4 171h0M1109.4 177.2h0M1109.7 147.9h0M1109.4 173h0M1109.1 131.8h0M1110.6 319.3h0M1110.9 331.7h0M1110.9 333.7h0M1110.2 137.6h0M1111.4 197.6h0M1111.7 192.6h0M1111.7 193.1h0M1111.3 323.6h0M1111.4 332.3h0M1111.9 334h0M1111.9 167.9h0M1111.6 183.2h0M1111.9 141.3h0M1111.4 183.3h0M1111.8 170.7h0M1111.6 136.7h0M1111.3 380.3h0M1111.9 361.1h0M1112.2 182.9h0M1112 327.8h0M1112.6 332.2h0M1112.1 318.6h0M1112.8 336.4h0M1112.9 320.4h0M1113 169.9h0M1112.5 427.2h0M1112.8 421.6h0M1112.4 451.4h0M1113.7 328.2h0M1113.6 320.1h0M1113 421.9h0M1114.1 179.5h0M1115 194.6h0M1114.7 182.9h0M1114.1 149.7h0M1114.5 371.8h0M1114.3 424h0M1114.7 378.5h0M1115.5 194.8h0M1115.8 351.3h0M1115.6 355.2h0M1115.6 372.9h0M1115.6 442.8h0M1115.2 339.5h0M1115.7 351.3h0M1116.8 362.7h0M1116.6 418.4h0M1116.5 413.8h0M1116 455.1h0M1116.4 440.9h0M1116.1 453h0M1117.3 188.6h0M1117.8 326.7h0M1117.2 333h0M1117.4 343.7h0M1117.8 418.4h0M1117 399.9h0M1117.3 455.2h0M1118.3 338.3h0M1118.2 368.5h0M1119 376h0M1118.1 338.5h0M1118.1 404h0M1119 341.9h0M1118.9 356.1h0M1119.6 337.8h0M1119.9 399h0M1119 448.6h0M1120.6 318.8h0M1120 437.2h0M1121.9 199.6h0M1121.2 326.3h0M1121.8 323h0M1121.5 370.5h0M1121.5 372.9h0M1121.2 446.2h0M1121.1 423.7h0M1121.2 346.2h0M1121.2 349.5h0M1122.3 331.4h0M1122.7 321.8h0M1122.2 369.6h0M1122.4 362h0M1122.7 347.4h0M1122.7 365.2h0M1123.2 321.9h0M1123.5 327.6h0M1123.9 442.7h0M1124.6 199.1h0M1124 326.8h0M1124 166.5h0M1124.6 431.4h0M1124.3 418.8h0M1125.1 184.3h0M1125.2 199.5h0M1125.2 339.8h0M1125.3 164.4h0M1126.3 337.6h0M1127.2 190h0M1127.4 324.7h0M1128.8 322.5h0M1129 334.4h0M1128.4 164.4h0M1129.5 193.6h0M1129.6 326.1h0M1129.6 322.6h0M1129.4 321.5h0M1130.4 203.4h0M1130.4 334.3h0M1131.1 192.7h0M1131.4 326.9h0M1131.4 377.3h0M1132 189.2h0M1132.9 207.6h0M1132.9 333.1h0M1132.6 322h0M1132.8 318.8h0M1133.7 193.1h0M1133.5 188.6h0M1134 325.7h0M1133.7 148.7h0M1133.7 177.8h0M1134.8 335.7h0M1134.2 336h0M1134.8 327.9h0M1136 192.4h0M1135.2 200.6h0M1135.3 325.8h0M1135.7 187.8h0M1135.7 167.2h0M1135.6 393.1h0M1136.3 201.5h0M1136.5 196.8h0M1136.1 329.4h0M1136.8 153.2h0M1136.4 185.2h0M1136.5 136.3h0M1136.2 424.1h0M1136.4 337.9h0M1136.1 337.9h0M1137 383.7h0M1136.8 363.7h0M1137.1 190.4h0M1137.8 204.6h0M1137.8 339.9h0M1137.3 151.1h0M1137.6 154.4h0M1137.1 362.6h0M1138.2 132.7h0M1139.3 209.1h0M1139.6 193.3h0M1140 143h0M1140.3 201.2h0M1140.9 198.5h0M1140.5 205.2h0M1140.3 330.8h0M1140.2 156.9h0M1141.9 211.9h0M1141.9 326h0M1142 322.6h0M1141.6 339.7h0M1141.1 326.8h0M1141.7 324.4h0M1141.6 155.4h0M1141.2 155.5h0M1142.1 202.8h0M1142.3 196.3h0M1142.7 334.5h0M1143.4 214.7h0M1143.3 212.8h0M1143.8 209.1h0M1143.2 196h0M1143.9 212.9h0M1143.8 165.8h0M1144 193.6h0M1144.5 142.1h0M1144.6 344.2h0M1145.5 196.5h0M1145.9 196.3h0M1145.3 196.9h0M1145 323.7h0M1145.3 141.5h0M1145.6 163.2h0M1145.9 158.3h0M1146.5 197.2h0M1146.4 164.4h0M1146.3 182.7h0M1146.1 384.5h0M1146.1 430.8h0M1147.8 197.9h0M1148.8 206.1h0M1148.7 213.5h0M1148.8 328.5h0M1148.1 195.4h0M1148.4 197.8h0M1149 198.2h0M1148.7 345.5h0M1149.9 217.2h0M1149.1 324.7h0M1149.4 328.7h0M1149.7 185.1h0M1149.7 144.2h0M1149.9 199h0M1149.9 193.5h0M1149 179.4h0M1149.8 174.8h0M1149.9 185.9h0M1150.1 203.6h0M1150.8 323.8h0M1150.3 321.1h0M1150.5 161h0M1150.9 145.4h0M1150.3 144h0M1150.8 147.3h0M1150.1 159.1h0M1150.6 150.1h0M1150.7 406h0M1151.4 201.8h0M1151.8 205.2h0M1152 328.2h0M1151.7 151.3h0M1152.6 212.5h0M1153 219.4h0M1152.2 204.4h0M1152.5 320.8h0M1152.2 175.8h0M1152.1 198.7h0M1153.1 200.4h0M1154 210h0M1153.1 216.4h0M1153.3 319.2h0M1154.1 204.8h0M1154.3 209.9h0M1154.3 323.3h0M1154.6 340h0M1154.4 193.3h0M1154 150.8h0M1154.1 189.9h0M1154.1 138.3h0M1154.3 143.9h0M1154.2 386.1h0M1155.8 216h0M1155.4 200.9h0M1155.7 211h0M1155.1 326.1h0M1156.2 198.7h0M1156.8 331.6h0M1156.8 326.1h0M1156.2 173.9h0M1157.2 217.1h0M1157.5 321.2h0M1157.7 320.8h0M1157.8 369.3h0M1158.3 204.2h0M1158.8 209.4h0M1158.7 329.3h0M1158.4 131.6h0M1158.7 190.2h0M1159.3 217.6h0M1159.7 325.2h0M1159.7 337.7h0M1160.2 201.2h0M1160.8 325.6h0M1160.3 325.6h0M1160.5 169.3h0M1161.5 331.7h0M1162.7 202.7h0M1162.7 339.3h0M1162.4 335.1h0M1163.9 206.7h0M1163.7 217.4h0M1163.4 213.9h0M1163.5 322.9h0M1164.1 328.5h0M1165.5 210.1h0M1165.3 174.9h0M1166.1 204.5h0M1166.7 334.1h0M1166.9 196.8h0M1166.7 161.8h0M1166.8 374.2h0M1167.1 215h0M1167.1 208.9h0M1167.1 331.4h0M1168.5 365h0M1169.7 215h0M1169.7 202.1h0M1169.4 321.8h0M1169.3 328.9h0M1171 203.5h0M1170.8 339.3h0M1171.9 205.1h0M1171.7 326.3h0M1171.9 326.1h0M1171.6 334.9h0M1173 215.5h0M1172.9 209.5h0M1174 211.9h0M1173.3 320.6h0M1173.6 321.9h0M1173.5 182.9h0M1176 201.4h0M1175.8 208.4h0M1175.8 207.6h0M1175.5 336.6h0M1175.7 330.1h0M1176.3 328.2h0M1176.8 356.5h0M1176.1 342.4h0M1177.9 203h0M1177.1 201.9h0M1177.7 319h0M1177.2 336.1h0M1177.1 329.8h0M1177.1 356.7h0M1177.1 364.5h0M1177.3 342.9h0M1178.3 326h0M1178.8 384.6h0M1179.1 222.5h0M1179.4 350.9h0M1179.8 365.4h0M1179.7 354.8h0M1180.4 223.2h0M1180.8 223.8h0M1180.9 317.8h0M1180.6 334.8h0M1180.2 151.2h0M1180.2 394.4h0M1180.4 394.6h0M1180.5 373.1h0M1181.6 334.9h0M1181.9 364.8h0M1181.5 396h0M1181.8 390.8h0M1181.5 339.4h0M1182.6 220.9h0M1182.1 401h0M1182.9 345.4h0M1183.3 206.7h0M1183.3 207.3h0M1183.3 221.8h0M1183 332.3h0M1183.2 206.7h0M1183.1 337.8h0M1184.2 216.1h0M1184.6 328.1h0M1184 329.1h0M1184.4 203.5h0M1184.8 357.9h0M1185.5 329.4h0M1185.2 202.2h0M1185.6 162.2h0M1185.5 207.1h0M1185.2 211.1h0M1185.5 211.4h0M1185.6 338h0M1186.7 231h0M1186.3 319.1h0M1186.4 186.3h0M1186.1 212.2h0M1186.7 188h0M1186.2 195.4h0M1186.3 208.5h0M1187.3 230.9h0M1187.3 318.5h0M1187.1 169.6h0M1187.4 204.2h0M1187.1 203.7h0M1187 332.4h0M1188.4 315h0M1188.8 330.7h0M1188.2 323.1h0M1188.4 330.8h0M1188.8 212.8h0M1188.7 214.6h0M1188.4 215.2h0M1188.8 353.2h0M1189.1 331.3h0M1189.9 197.6h0M1189.8 216.7h0M1189.1 210.3h0M1190.2 329.3h0M1190.8 330.9h0M1190.7 197h0M1190.9 337.3h0M1191.1 223.3h0M1191.8 222.3h0M1191.7 226.2h0M1191.8 316.3h0M1191.4 203.9h0M1191.6 185.9h0M1191.4 212h0M1192.7 236.9h0M1192.7 329h0M1192.7 205.2h0M1193.5 237.6h0M1193.5 228.1h0M1193.8 230.2h0M1193.7 328h0M1193.9 365.5h0M1193.9 330.1h0M1194.4 319h0M1194.1 313.8h0M1194.9 316.8h0M1194.8 209.5h0M1194.4 210.6h0M1194.9 331.3h0M1194.8 394.4h0M1194.1 371.6h0M1195.2 316.7h0M1195.5 342.5h0M1195.5 342.8h0M1195.8 349.9h0M1195.6 396.2h0M1196.8 233.2h0M1196.2 312.4h0M1196.5 316.2h0M1196.5 347.2h0M1196.6 374h0M1196.4 330.9h0M1196.2 335.1h0M1196.8 340.3h0M1196.8 381.8h0M1197.1 313.6h0M1197.8 357.1h0M1197.8 345.8h0M1198.2 322.8h0M1198.7 324.9h0M1198.1 315.9h0M1198.6 358.9h0M1198.4 335.7h0M1198.8 335.8h0M1198 393.1h0M1198.6 375.6h0M1198.5 377.9h0M1199.5 232.1h0M1199.5 245h0M1199.6 230.5h0M1199.4 369h0M1199.9 380h0M1199.2 334.3h0M1200.3 237.5h0M1200.9 329.5h0M1200.6 346.7h0M1200.8 331.9h0M1200.4 371h0M1200.2 386.2h0M1200.2 349.7h0M1200.6 390.7h0M1200.1 335.1h0M1200.9 350.7h0M1201.3 236.3h0M1201.7 377.5h0M1201.4 382h0M1201.1 389.7h0M1201.5 377.8h0M1201.9 342.1h0M1202.7 312.8h0M1202.4 352.4h0M1202.1 375.9h0M1202.5 387.2h0M1202.7 330.6h0M1203.6 320.3h0M1203.1 388.5h0M1203.3 337.1h0M1203.5 330.2h0M1203.8 326.5h0M1204.6 241.5h0M1204.5 240.5h0M1204.8 313.2h0M1205.2 242.7h0M1205.2 326.1h0M1205.8 309.6h0M1205.9 354.8h0M1205.6 357.8h0M1206.9 247.7h0M1206.5 313h0M1206.4 320.5h0M1207.5 246.5h0M1207 244.9h0M1208.2 320.1h0M1208.5 212.8h0M1208.9 235.3h0M1209 234.8h0M1209.7 254.8h0M1209.1 237.8h0M1209.8 318.5h0M1209.9 226.6h0M1209.8 231.1h0M1210.4 321.7h0M1210.2 225.3h0M1211.4 251h0M1211.1 248.5h0M1212 240h0M1211.6 322.7h0M1211.1 220.4h0M1211.6 234h0M1212.5 244.9h0M1212.3 303.8h0M1212.1 315.4h0M1212.6 308.1h0M1213.9 304.4h0M1213.7 316.8h0M1213.2 318.9h0M1213.9 230.8h0M1214.2 318h0M1215 235.2h0M1215.9 313.4h0M1215.6 306.4h0M1215.2 327.9h0M1216.6 318.8h0M1216.8 308.4h0M1216 324.1h0M1216.1 316.4h0M1216.6 356.9h0M1217.8 242.5h0M1217.9 354.9h0M1218.7 242.2h0M1218.1 313.3h0M1218.1 356.2h0M1219 233.2h0M1219.7 328.7h0M1219.6 331.2h0M1219.7 390.6h0M1219.7 338.6h0M1220.1 238.8h0M1220.3 242h0M1220.8 226h0M1220.1 237.8h0M1221 240.8h0M1220.3 332.1h0M1220.9 328.6h0M1220.8 317h0M1221 380.4h0M1220.5 369.1h0M1220.6 373.8h0M1220.3 380.3h0M1220.2 337.4h0M1220.3 339.6h0M1220.2 366.5h0M1221.5 229.9h0M1221.8 238.8h0M1221.4 332.1h0M1221.6 315.7h0M1221.5 374.1h0M1221 354.8h0M1221.9 381.4h0M1221.1 398.2h0M1221.9 371.7h0M1221.6 401.9h0M1221.8 332.6h0M1221.8 386.4h0M1221.9 370.1h0M1222.6 233h0M1222.7 365.4h0M1222.8 363.3h0M1222.5 417.5h0M1222.1 367.3h0M1222.7 399h0M1222.9 333.1h0M1223.7 332.9h0M1223.2 343.1h0M1223.1 372.4h0M1223.6 333.7h0M1223.4 341.1h0M1223.8 345.7h0M1223.6 333.9h0M1223.8 334.8h0M1224.9 224.1h0M1224.7 221.6h0M1225 329.2h0M1224.1 331.5h0M1224.6 381.2h0M1224.4 378.2h0M1224.5 350h0M1225 402.5h0M1224.1 344.4h0M1224.2 335.4h0M1224.8 341.4h0M1224.2 335.2h0M1224.9 412.8h0M1224.7 415h0M1226 226.3h0M1225.7 220.7h0M1225.7 429.2h0M1225.3 401.5h0M1225.2 343.5h0M1225.4 414.6h0M1225 373.6h0M1225.7 402.9h0M1226.9 208h0M1226.4 213.4h0M1226.5 322h0M1226.8 325.7h0M1226.9 361h0M1226.3 365.9h0M1226.5 351h0M1226.7 397.2h0M1226.6 393.8h0M1226.6 348.5h0M1227.4 216.9h0M1227.8 338.1h0M1227.8 331.5h0M1227.7 391.8h0M1227.9 339h0M1227.8 372.2h0M1227.3 399.1h0M1227.2 340.8h0M1227.2 348.9h0M1228.5 213.2h0M1228.1 335.6h0M1228 325.3h0M1229.5 199.9h0M1229.6 376.7h0M1230.3 331h0M1230.5 323h0M1230.8 329.2h0M1230.2 335.3h0M1230.6 326.2h0M1231.6 199.4h0M1231.9 206.1h0M1231 325.7h0M1231 338.9h0M1232.9 343.4h0M1234.3 186.9h0M1235.2 190.1h0M1235.8 335h0M1236.2 206.2h0M1236.6 342.7h0M1237.9 343.3h0M1238.2 195.5h0M1238.8 206.2h0M1238.7 334.3h0M1238.7 337.5h0M1238.5 416.4h0M1239.5 192.7h0M1239.2 191.3h0M1240.2 204.5h0M1241 344.5h0M1240.6 333.7h0M1240.2 364.9h0M1240.2 382.9h0M1241.2 326.1h0M1241.7 345.3h0M1242.1 187.5h0M1242.4 338.4h0M1243.5 190.4h0M1243.3 192.9h0M1243.1 185.6h0M1243.7 337.9h0M1243.4 325.1h0M1243.9 337.2h0M1244.2 205.5h0M1244.9 335h0M1244.4 327.8h0M1244.2 329.1h0M1245.4 334.2h0M1245.1 342.2h0M1245.2 173.7h0M1246.7 186h0M1246.7 324.1h0M1246.6 335h0M1246.7 334.8h0M1246.1 175.4h0M1246.5 143.8h0M1246.4 183.6h0M1246 151.8h0M1247.2 341.2h0M1247.6 340.2h0M1247.7 334.8h0M1248 173.7h0M1247.7 185.2h0M1248 180.1h0M1248.9 184.6h0M1248.7 326.7h0M1248.1 147.3h0M1248.8 153.5h0M1248.3 178.5h0M1249.5 188.6h0M1249.1 188.7h0M1249.1 324.3h0M1249.7 339.8h0M1249.2 170.9h0M1250 185.3h0M1249.3 401.2h0M1249.2 386.3h0M1250.6 200.5h0M1250.3 334.3h0M1250.9 321.6h0M1250.9 169.6h0M1250.8 175.5h0M1250.6 159.3h0M1250.3 339.1h0M1250.1 364.6h0M1251.8 196.4h0M1251.7 202.4h0M1251.1 201h0M1251.8 192.4h0M1251.6 194.1h0M1251.7 183.6h0M1251.9 159.4h0M1252.2 202.3h0M1252.4 332.3h0M1252.5 151.4h0M1253.9 183h0M1253.2 202.4h0M1253.4 183.4h0M1253.6 326.6h0M1253.9 411.4h0M1254 341.4h0M1254.1 337h0M1254.9 333.1h0M1255.3 364.8h0M1257 187.6h0M1256.4 331.5h0M1256.3 321.3h0M1256.5 348.8h0M1258.9 206.3h0M1258 194.5h0M1259.3 195h0M1259.6 201.4h0M1259.5 181.7h0M1259.8 153.5h0M1259.5 184.4h0M1260.5 325.3h0M1260.8 145.9h0M1260.6 172.2h0M1260.7 156.8h0M1260 193.2h0M1260.1 139.2h0M1260.2 347.1h0M1262 211.1h0M1261.1 207.6h0M1261.6 339.1h0M1261.1 329.3h0M1261.1 175h0M1262.5 211.5h0M1262.9 187.5h0M1262.6 199.3h0M1262.4 191.1h0M1263.9 337.4h0M1263.9 318.9h0M1263.5 196.6h0M1264.5 201.5h0M1264.2 208.8h0M1264.2 333.1h0M1264.6 329.6h0M1264.2 335.2h0M1264.6 179.2h0M1264.3 349h0M1265.4 203.4h0M1265.5 206.8h0M1265.3 219.1h0M1265.2 201.7h0M1265.4 328.7h0M1265.5 191.5h0M1265.5 173.1h0M1266.6 332.2h0M1266.3 323.4h0M1266.6 319.7h0M1267 144.4h0M1268 205.7h0M1267.5 222.9h0M1267.9 217h0M1268.9 322h0M1268.2 324.2h0M1268.6 329.6h0M1268.3 183.7h0M1269 162.8h0M1269.7 339.7h0M1269.1 200.3h0M1269.2 166.2h0M1270 337h0M1270.9 212.7h0M1271.8 337.2h0M1271.1 339.9h0M1271.6 331.2h0M1271.7 319h0M1273.2 332.4h0M1273.8 198.5h0M1275.5 226.6h0M1275.4 216h0M1275.3 231.3h0M1275.2 234.3h0M1275.6 233.8h0M1275.6 326.3h0M1275.4 190.9h0M1275.6 153.6h0M1276.1 323h0M1276.2 189.4h0M1276.1 185.9h0M1276 207.9h0M1276.9 204.7h0M1276.6 203.1h0M1276.5 213.4h0M1277.3 322h0M1277 180h0M1277.8 188.9h0M1277.6 210.2h0M1277.4 142.1h0M1278.4 338.1h0M1278.1 210.1h0M1278.4 165.8h0M1278.2 213.9h0M1278.2 157h0M1279.3 171.3h0M1279.5 161.3h0M1279.3 191.5h0M1279.9 403.2h0M1280 232h0M1280.6 225.1h0M1280.7 328h0M1280.6 328.4h0M1280.5 340.2h0M1280.7 153h0M1280.5 171h0M1281.3 228.1h0M1281.9 136.1h0M1281.3 179.2h0M1281.4 170.3h0M1281.9 163.2h0M1281.1 158.1h0M1281.7 345.6h0M1282.4 215.6h0M1282.6 201.9h0M1283 211.2h0M1282.6 341.1h0M1283.9 230.7h0M1283.3 215.9h0M1283.1 330.6h0M1283.4 170.4h0M1283.5 142.7h0M1284.2 365.3h0M1285.3 214.3h0M1285.1 329.2h0M1285.6 205.4h0M1286.1 208.9h0M1286.5 219.1h0M1286.6 225.4h0M1286.6 328.6h0M1287 335.2h0M1286.6 328.1h0M1288 329.6h0M1288.3 207.3h0M1288.9 222.8h0M1288.9 226.4h0M1288.7 343.6h0M1288.3 336.1h0M1288.3 336.4h0M1289 365.6h0M1289.8 216.3h0M1289.5 335.1h0M1290.3 213.5h0M1290.9 214.4h0M1290.2 342.4h0M1290.5 341.5h0M1290.8 336.2h0M1290.3 332.2h0M1290.6 343.3h0M1291.3 218.7h0M1291 335.1h0M1291.4 325.4h0M1291.7 172.7h0M1292.2 223.8h0M1292.5 357.2h0M1293.5 209.4h0M1293.4 218.5h0M1294 326.1h0M1293.9 136.5h0M1294.7 215.8h0M1294.2 216.8h0M1294.2 323.1h0M1294.8 338.6h0M1294.6 188.6h0M1294.1 180.2h0M1294.9 186h0M1295.5 217.2h0M1295.3 325h0M1295.4 170.3h0M1295.1 162.4h0M1295.7 189.2h0M1296.3 386.3h0M1297.5 327.7h0M1297.3 333.9h0M1297.1 180h0M1298.1 221.6h0M1298.7 329.5h0M1298.9 152.1h0M1299.4 210h0M1299.4 330.6h0M1299.4 325.6h0M1299.8 184.4h0M1300.7 210.6h0M1300.4 206.9h0M1300.3 203.3h0M1300.5 213.7h0M1300.3 323.4h0M1300.6 331.5h0M1301.1 200.7h0M1301.6 172.6h0M1301.2 141.1h0M1301.4 195.3h0M1302.6 206.1h0M1302.9 152.5h0M1302.3 151.7h0M1302.4 200.1h0M1304 204.7h0M1303 210.9h0M1303.4 199.2h0M1303 329.2h0M1303.9 184.8h0M1303.1 167.7h0M1303.4 160h0M1303.2 140h0M1303 193.5h0M1303 181.2h0M1303.2 140.2h0M1303.8 197h0M1304.7 215.3h0M1304.6 203.7h0M1304.3 212.5h0M1304 188.9h0M1304.5 159.2h0M1304.1 137h0M1304.8 161.5h0M1304.3 201.3h0M1304.6 187.5h0M1304.5 159.4h0M1305.7 206.7h0M1305.7 334.1h0M1305.6 333h0M1305.1 156.6h0M1305.6 138.8h0M1305.6 169.7h0M1305.2 339.5h0M1306.8 218.1h0M1306.1 325.2h0M1306.1 334.3h0M1306.7 193.4h0M1306.4 191h0M1306.4 178.1h0M1306.8 166.5h0M1306.2 125.7h0M1306.1 139.6h0M1306.3 142.3h0M1306.1 182.4h0M1306.4 143h0M1307.8 204.1h0M1307.6 215h0M1307.9 159.8h0M1307.1 161.1h0M1307.5 197.7h0M1307.5 174.6h0M1307.7 198.5h0M1307.5 187.4h0M1307.5 349.5h0M1307.4 347h0M1308.1 338.5h0M1308.8 320.8h0M1308.8 123.3h0M1308.8 190.3h0M1308.2 186.4h0M1308.2 395.3h0M1309.6 196.7h0M1309.3 320.6h0M1309.9 328.7h0M1309.1 180.9h0M1309.1 165.2h0M1309.5 193.2h0M1309.8 143.1h0M1309.7 150.8h0M1310 198.3h0M1309.5 124.5h0M1309.9 400h0M1309.6 397.2h0M1309.7 366.6h0M1310.8 194.8h0M1310.8 145h0M1310.5 194.1h0M1310.7 180.8h0M1310.6 131.3h0M1310.6 185.3h0M1310.7 341h0M1310.3 340.3h0M1311.4 200.3h0M1311 199.2h0M1311.6 335.2h0M1311.1 198.7h0M1311.4 172.8h0M1311.1 162.7h0M1312.2 203.3h0M1312.2 208.8h0M1312.7 330h0M1313 186.4h0M1312.2 184.3h0M1312.9 177.8h0M1312.9 150h0M1312.6 190.6h0M1312.7 192.9h0M1312.2 160.2h0M1313 210.2h0M1313.8 213.3h0M1313.1 198.1h0M1313.5 176.4h0M1313.3 135.7h0M1313.4 186.1h0M1314 124.5h0M1313.7 153.2h0M1313.8 195.5h0M1313.5 190.2h0M1313 166.7h0M1314.7 217.6h0M1314.3 197.1h0M1314.2 322.8h0M1314.2 333.8h0M1314.4 180.4h0M1314.1 186.7h0M1314 149.8h0M1314.2 393.8h0M1315.8 321.8h0M1315.7 194.9h0M1315 175.6h0M1316.9 211.6h0M1316.5 319.6h0M1316.5 319.8h0M1316.6 337.9h0M1316.6 399.9h0M1317.3 203.8h0M1317.5 157.2h0M1317.3 160.5h0M1317.3 382.1h0M1317.1 353.4h0M1317.6 341.8h0M1317 352.9h0M1318.3 201.4h0M1318.9 217.2h0M1318.4 204.5h0M1318.6 324.4h0M1318.5 321.6h0M1318.5 336.2h0M1318 367.4h0M1319.7 200.7h0M1319.5 326.6h0M1319.6 347.6h0M1320.2 214.8h0M1320.7 213.7h0M1320.1 207.9h0M1320.1 323.8h0M1320.2 320.1h0M1320.6 193.5h0M1320.1 172.6h0M1321 349.7h0M1321.3 223.5h0M1321.8 205.6h0M1321.8 326.5h0M1321.3 319.3h0M1321.2 340.7h0M1321.9 373.5h0M1321 343.8h0M1321.5 336h0M1323 216.1h0M1322.2 222h0M1322.1 207.7h0M1322.6 326.3h0M1322.8 189.7h0M1322.9 391.4h0M1323.9 211.1h0M1323.9 148.7h0M1323.8 168.8h0M1323.2 207.5h0M1323.5 156.7h0M1323.1 370.4h0M1323.8 401.6h0M1323.8 369.6h0M1323.3 344.5h0M1323.2 335.7h0M1323.4 336.9h0M1324.4 216.6h0M1324.8 222h0M1324.5 220.9h0M1324.6 336.4h0M1324.9 205.3h0M1325.3 204.4h0M1325.3 338.2h0M1326.4 225.3h0M1326.4 328h0M1326.3 171.3h0M1326.7 334.2h0M1326.5 399.5h0M1327.5 228.6h0M1327.5 332.1h0M1327.5 319h0M1327.7 189.9h0M1327.8 157.5h0M1327.6 157h0M1328.5 215.3h0M1328.2 213.4h0M1328.4 331.4h0M1329.7 210.7h0M1329.6 216.7h0M1329.7 333.7h0M1330.6 233.2h0M1330.3 226.8h0M1330.3 322.5h0M1330.3 330.9h0M1330.8 200.9h0M1330.5 135.9h0M1330.6 192.8h0M1331.2 218.7h0M1331.9 328.7h0M1331.5 327.4h0M1331.3 332.3h0M1331.3 333.3h0M1331.4 207.2h0M1331.2 380.3h0M1331.8 355.6h0M1332.6 233h0M1332.5 220.2h0M1332.7 216.3h0M1333.8 236.5h0M1333.3 226.1h0M1333.8 217.7h0M1333.3 317.8h0M1333.6 328.8h0M1333.8 142.2h0M1333.4 170.2h0M1333.3 170h0M1333.6 361.6h0M1333.7 360.2h0M1334.8 228.6h0M1334.7 226.4h0M1334.4 315.8h0M1334.3 372.5h0M1334.1 361.7h0M1336 222.9h0M1335.9 321.6h0M1335.9 334.4h0M1335.4 340.4h0M1335.1 338h0M1335.9 385.2h0M1336.4 313.1h0M1336.5 311.2h0M1337 402.1h0M1336.2 344.3h0M1336.3 377.1h0M1336.8 364.2h0M1336.2 346.8h0M1337.8 219.9h0M1337.5 228.3h0M1337.6 321.9h0M1337.9 312.9h0M1337.2 318.3h0M1337.8 314.5h0M1337.7 135.6h0M1337.8 360.2h0M1337.2 347.6h0M1337.2 360.4h0M1338 345.3h0M1338 237.6h0M1338.8 326.3h0M1338.8 327.6h0M1338.2 322.4h0M1338.4 192h0M1338.5 336.9h0M1339 406.2h0M1338.4 335.9h0M1339 359.6h0M1339.9 221.1h0M1339.7 228.2h0M1340 328.7h0M1339.9 364.5h0M1339.2 372.1h0M1339.7 335.4h0M1339.2 342.5h0M1339.6 395.7h0M1339.7 352.5h0M1339.9 352.1h0M1340.4 309.9h0M1340.6 364.9h0M1340.6 329.3h0M1340.6 374.2h0M1341.3 232h0M1341.3 394.9h0M1341.9 404.9h0M1342.5 228.9h0M1342.6 240.6h0M1342.8 319.7h0M1342.6 319.6h0M1343.6 234.4h0M1343.6 313.2h0M1343.2 177.7h0M1344.5 229.5h0M1344.9 244.7h0M1344.3 233.7h0M1344.1 311.8h0M1344.5 314.3h0M1345.5 235.1h0M1345.4 329.5h0M1346.1 319.4h0M1346.2 309.4h0M1346.1 218.2h0M1347.4 246.9h0M1347.8 239.8h0M1347.8 232.4h0M1347.4 238.5h0M1347.2 221.9h0M1348.7 243.7h0M1348.3 313.7h0M1348.9 315.4h0M1348.4 229.3h0M1348.8 174.5h0M1349.8 241h0M1349.4 190.5h0M1349.5 142h0M1350.7 250h0M1350.7 248.9h0M1350.7 324.6h0M1350.3 312.5h0M1350.1 317h0M1350.4 169.9h0M1351 147.2h0M1350.4 134.3h0M1350.7 198.6h0M1352 242.8h0M1352 327.2h0M1351.2 320.1h0M1352 174.5h0M1351.6 194.3h0M1352.4 250.7h0M1352.9 250.3h0M1352.6 243.2h0M1352.9 307.2h0M1352.8 317.5h0M1352.1 170.6h0M1352.2 159.5h0M1352.8 153.9h0M1352.1 328h0M1353.9 247.9h0M1353.9 239.4h0M1354 242.2h0M1353.9 252.7h0M1354 226.6h0M1354 319.6h0M1354.6 194.5h0M1354.3 421.2h0M1354.4 409.8h0M1354.8 416.2h0M1355 326.3h0M1354.7 350.3h0M1355.9 241.6h0M1355.5 226.9h0M1355.1 199.7h0M1355.4 326.3h0M1355.9 377.9h0M1355.7 384h0M1356.9 233.1h0M1356.3 321h0M1356.6 228.6h0M1356.2 379.5h0M1356.6 356h0M1356.5 335h0M1357.5 326.4h0M1357.1 311h0M1357.6 307.6h0M1357.4 151.2h0M1357.7 146.8h0M1357.1 154.6h0M1358 145.7h0M1357.7 204.3h0M1357.3 136.3h0M1357.9 353.1h0M1358.2 234.2h0M1358.8 319h0M1358.9 217.5h0M1358.7 171.8h0M1358.2 149.8h0M1358.4 207h0M1358.3 338.1h0M1358.3 327.4h0M1359.9 235h0M1359.3 220.9h0M1359.6 233.4h0M1359.6 308.5h0M1359.7 315.3h0M1360.5 223.6h0M1360 229.5h0M1360.5 146.8h0M1360.6 194.2h0M1360.4 217.6h0M1360.2 168.4h0M1360.6 190.1h0M1360.2 206.7h0M1360.6 147.9h0M1360.5 146.8h0M1360.2 392.8h0M1361.9 220.2h0M1361.5 327.2h0M1361 342.6h0M1362 215.7h0M1362.9 228.5h0M1362.7 312.7h0M1362.3 209.4h0M1362.1 211.9h0M1363.8 224.2h0M1363.8 323.4h0M1363.1 321.9h0M1363.4 215h0M1363.2 333.6h0M1364.4 224.2h0M1364.4 327.6h0M1364.6 327h0M1364.2 311.9h0M1364.5 322.4h0M1364.7 178.3h0M1364.6 210.3h0M1365.2 324.7h0M1365.9 321.4h0M1365.3 193.2h0M1365.4 185.3h0M1366.6 210.4h0M1366.8 224.5h0M1366.8 312.3h0M1366.4 329.1h0M1366.7 315h0M1366 311.9h0M1366.4 344.3h0M1367 139.2h0M1367.7 385h0M1368.4 206.4h0M1368.7 323.2h0M1368.3 141.3h0M1369 149.1h0M1368.6 349.7h0M1369.9 217.2h0M1369.9 327.2h0M1369.3 314.5h0M1369.7 178.5h0M1369.2 141.8h0M1369.7 413.9h0M1369.8 406.7h0M1371 212.7h0M1370.7 324.8h0M1370 201.8h0M1370.6 339.6h0M1371.1 211.6h0M1371.6 320.1h0M1371.4 201.7h0M1371.2 166.3h0M1371.2 174.6h0M1371.5 394.2h0M1372.9 409.1h0M1373.5 196.1h0M1373.9 318.9h0M1373.5 325.7h0M1373 393.1h0M1374.5 195.8h0M1374.8 208.4h0M1374.4 333.3h0M1374.2 318.1h0M1374.8 315.2h0M1374.9 403.8h0M1374.2 368.8h0M1375.2 197.2h0M1375.1 328.7h0M1375.8 334.2h0M1375.1 375.4h0M1375.1 381.1h0M1375.5 345.1h0M1375.1 352.6h0M1376.5 319.1h0M1377 314.9h0M1376.3 394.5h0M1376.4 340.4h0M1377.5 320.4h0M1377.3 328h0M1377.3 357.7h0M1377.9 365.3h0M1377.9 357.1h0M1377.3 383.8h0M1378 326.6h0M1378.7 319.2h0M1378.6 320.2h0M1378.6 322.6h0M1378.7 314.9h0M1378.4 374.4h0M1378.9 380h0M1378.6 380.4h0M1378.5 338.9h0M1378.1 353.3h0M1379.8 337.2h0M1379.1 334.8h0M1379 363.5h0M1380.3 325h0M1380.2 320.9h0M1380.9 323.9h0M1380.9 322.4h0M1381.3 323h0M1381.8 391.7h0M1381.9 354.8h0M1383 209.3h0M1382.4 321.7h0M1382.7 148.9h0M1382.3 178.9h0M1382.4 385.5h0M1383.5 191.4h0M1383.9 193.5h0M1383.1 193.9h0M1384 192.2h0M1383.4 193.7h0M1383.9 189.3h0M1383 169.5h0M1383.3 152.6h0M1384 347.2h0M1384.1 193.5h0M1384.7 170.9h0M1384.9 404.9h0M1384.5 340h0M1385.9 339.7h0M1385.2 339.9h0M1385.1 395.8h0M1386.8 205.2h0M1386.6 329h0M1386 340.1h0M1386.9 380.8h0M1387.5 333.5h0M1387.6 348h0M1388.3 203.7h0M1388 341.7h0M1389.5 204.2h0M1389.9 198.6h0M1390.2 336.2h0M1390.1 327.4h0M1390.3 183.8h0M1391.1 197.9h0M1391.4 197.3h0M1391.6 342.2h0M1391 365.6h0M1392.8 201.5h0M1393 200.4h0M1392.7 196.8h0M1392.9 195h0M1392.2 194.6h0M1392.7 334.2h0M1392.4 334.9h0M1392.2 345.3h0M1393.9 194.5h0M1393.4 201.4h0M1393.2 181.6h0M1393.5 189.6h0M1393.2 170.7h0M1394.6 189.6h0M1394.8 193h0M1394.4 143.6h0M1394.4 346.1h0M1394.4 347.3h0M1395.8 191.6h0M1395.5 342.7h0M1396.9 335.3h0M1396.2 137.6h0M1396.6 190.5h0M1396.8 181.9h0M1396.7 174.9h0M1396.9 135.9h0M1396.9 351.7h0M1396.8 368.9h0M1397.9 203.7h0M1397.3 128.3h0M1398.6 194.6h0M1398.4 336.1h0M1398.3 327.8h0M1398.5 344.3h0M1399.4 194.7h0M1399.1 340h0M1399.8 338.5h0M1399.3 373.5h0M1400.2 206.6h0M1400 207.3h0M1400.5 327.8h0M1400.3 337.8h0M1400.2 175.6h0M1401.2 189.6h0M1402.1 323.6h0M1402.1 330.8h0M1402.7 185.4h0M1403.4 211.4h0M1403.8 331.9h0M1404.9 215h0M1404.9 338.8h0M1405 335.1h0M1405.8 187.9h0M1405.4 141.8h0M1405.2 390.4h0M1406.9 337.2h0M1406.3 352.1h0M1406.1 392.2h0M1408 201.6h0M1407.9 217.7h0M1407.5 336.4h0M1407.3 197.9h0M1407.9 178.8h0M1407.4 362.3h0M1407.2 344.2h0M1407 374.5h0M1407.9 341h0M1408.2 219.8h0M1408.4 213.6h0M1408.4 210.8h0M1408 208.1h0M1408.8 203.8h0M1408.6 213.6h0M1409 190.1h0M1408.8 201.2h0M1408.4 142.7h0M1408.9 149.6h0M1408.1 351.3h0M1408.3 380.6h0M1408.3 407.5h0M1409.6 334.8h0M1409.5 185.4h0M1409.5 356.7h0M1409.5 392.1h0M1410.5 223.1h0M1410.8 339.9h0M1410.1 171h0M1410.6 148.3h0M1410.4 159.5h0M1410.1 409.9h0M1410.3 342.5h0M1410.9 348.1h0M1410.1 361.8h0M1410.9 372.1h0M1410.6 375.3h0M1411.3 225.8h0M1411.5 329.2h0M1411.5 191.1h0M1411.9 411.1h0M1411.5 352.8h0M1411.9 416.7h0M1411.9 363.1h0M1411 414.3h0M1412.2 227.6h0M1412.3 341.2h0M1413 326.8h0M1412.1 160h0M1412.8 203.4h0M1412.3 208.4h0M1412.1 141.6h0M1413 406h0M1412.7 389.6h0M1412.3 402.9h0M1412 397.4h0M1412.4 405.7h0M1413.6 217.4h0M1413.9 327.5h0M1413.2 157.8h0M1413.5 209.3h0M1413.3 337.8h0M1413.7 378.8h0M1413.5 380.6h0M1413.8 390.2h0M1413.8 424.6h0M1413.3 373.9h0M1414.3 207.9h0M1414.4 207h0M1414.7 324.9h0M1414.5 339.3h0M1414.5 162h0M1414.4 140.3h0M1414.2 200.1h0M1414.5 348.8h0M1414.6 339.9h0M1415 348.7h0M1414.2 384.8h0M1414.9 363.3h0M1414.6 386.5h0M1415.9 216.5h0M1415.4 210.1h0M1415.9 205.6h0M1415.7 208.3h0M1415.2 153.5h0M1415.8 376.9h0M1415.5 374.7h0M1415.7 352.3h0M1415.2 338.4h0M1415.5 358.4h0M1415.6 375.6h0M1415.5 338.9h0M1415.8 395h0M1416.6 318.1h0M1416.4 168.3h0M1416.3 145.4h0M1416.5 351.3h0M1416.9 378.5h0M1416.1 355.8h0M1416.4 350.3h0M1416.6 344.5h0M1417.3 214.3h0M1417.3 330h0M1417.4 194h0M1417.6 188.5h0M1417.7 388.5h0M1417.4 406.2h0M1417.5 367.9h0M1417.7 366.5h0M1417.8 345.1h0M1417.4 345.3h0M1417.3 369.7h0M1417.8 371.3h0M1417 377.9h0M1418.4 209.3h0M1418.6 217.4h0M1418.2 317.4h0M1418.4 331.3h0M1418.1 377h0M1418 336.2h0M1419.1 219.3h0M1419.1 318.5h0M1419.4 351.7h0M1419.6 337.4h0M1419.8 399.4h0M1419.5 355.9h0M1419.4 341.3h0M1419.7 387.5h0M1419.3 386.8h0M1420.5 215.4h0M1420.8 222.6h0M1420.8 336.4h0M1420.8 412h0M1420.3 338.9h0M1421 348.7h0M1420.3 392h0M1421.6 330.6h0M1421.5 335.7h0M1421.2 362.6h0M1421.9 378.8h0M1421.6 400.8h0M1421 368.3h0M1421.4 354.6h0M1421.1 385.3h0M1422.9 221.6h0M1422.4 319.6h0M1422.8 335.1h0M1422.6 162.1h0M1422.9 366.9h0M1423.6 202.5h0M1423.3 328.3h0M1423.1 370.8h0M1424.3 215.5h0M1424.4 216.8h0M1424.8 199.4h0M1424.9 361.8h0M1425.3 324.6h0M1425.7 329.7h0M1425.4 184.9h0M1425.1 187.8h0M1425 173h0M1425.8 164.4h0M1426.1 212.5h0M1426.8 148.5h0M1427.5 148h0M1428 195.9h0M1427.2 154.7h0M1427.1 195.1h0M1427.8 172.7h0M1427.8 136.5h0M1427.3 151.9h0M1427.6 174.8h0M1427.8 194.6h0M1428.4 201.7h0M1428.7 331.7h0M1428.8 194.9h0M1428.7 141.7h0M1428.3 334.6h0M1429.5 209.8h0M1429.8 210.2h0M1430 180.6h0M1429 344.2h0M1429.8 345.8h0M1429.4 345.2h0M1430.7 324.9h0M1430.2 330h0M1430.5 329.2h0M1430.4 154.5h0M1430.3 195.4h0M1430 142.3h0M1431.3 204h0M1431.1 208.3h0M1431 318.9h0M1431.7 315.3h0M1431 147.5h0M1432 194.5h0M1431.7 193.9h0M1431.8 194.1h0M1431.7 172.6h0M1431.6 339.5h0M1431.4 362.9h0M1431.6 344.8h0M1432.5 201.1h0M1432.3 329.3h0M1432.5 147.4h0M1432.1 157h0M1432.1 348.8h0M1432.5 334.7h0M1432.6 366.8h0M1433.2 204h0M1433.7 145h0M1433.8 339.7h0M1433.1 400.8h0M1433 347.4h0M1433.9 389.3h0M1433.5 383.1h0M1433.9 341.9h0M1434.6 206.3h0M1434.7 315.6h0M1434.3 349h0M1434.5 389.9h0M1434.7 330.6h0M1434.6 366.5h0M1435.7 327.3h0M1435.2 365.1h0M1435.8 342.7h0M1435.3 385.8h0M1435.5 371.2h0M1435.2 329.6h0M1435.1 403.4h0M1436.2 201.8h0M1436.8 203h0M1436.6 210.7h0M1436.5 329.2h0M1436.5 316.9h0M1436.2 384.9h0M1436.1 392.2h0M1436 333.5h0M1436.5 330.7h0M1436.2 328.8h0M1436.9 386.2h0M1436.5 331.3h0M1436 353.7h0M1437.2 213.8h0M1437.9 206.7h0M1437.4 317.7h0M1437.4 365h0M1437.3 336.8h0M1437 329.4h0M1438 344h0M1439 197.4h0M1438.4 311h0M1438.6 344.7h0M1438.1 333.7h0M1438.4 362.1h0M1438.1 358.8h0M1439.7 313h0M1439.4 371.2h0M1439.4 397.4h0M1439.6 396.8h0M1439.7 392.4h0M1440.9 325.3h0M1440.5 316.7h0M1440.5 328.9h0M1440.4 385.3h0M1442 216.9h0M1441.1 209.6h0M1442.3 200h0M1442.5 327.1h0M1442.4 311.3h0M1442.2 372.6h0M1443.7 202h0M1443.9 199.6h0M1443.2 320.4h0M1443.5 328h0M1444.5 311.7h0M1445 312.9h0M1444.7 306.9h0M1444.1 317h0M1445.2 211.3h0M1445 215.2h0M1445.2 307.5h0M1446.3 208.6h0M1446.6 215h0M1446.1 208.4h0M1446.2 325.9h0M1446.5 321.8h0M1447 327.1h0M1446.6 413.7h0M1447.2 210.4h0M1447.8 207h0M1447.6 310.9h0M1447.4 321.2h0M1447 325.3h0M1447.5 319.9h0M1447.9 401.2h0M1448.6 214.9h0M1448.4 409.9h0M1448.2 427.1h0M1448.9 324.4h0M1449.1 325.2h0M1449.3 355.1h0M1450.1 312.3h0M1451 324.3h0M1451.8 222h0M1451.9 305.3h0M1452.4 209h0M1453.6 221.3h0M1453.9 224.7h0M1455.3 221.1h0M1455 205.1h0M1455.9 223.3h0M1455.4 214.3h0M1455.5 307.4h0M1456 213h0M1456.3 206.2h0M1457.9 220.6h0M1458.5 303.4h0M1458.7 304.6h0M1460.4 212.4h0M1460.7 304.3h0M1461.9 215.4h0M1461.4 204.7h0M1461.2 309.4h0M1462.4 215.2h0M1462.2 213.5h0M1462.7 428.2h0" stroke="#1f77b4" stroke-width="6.0" stroke-linecap="round" fill="none"/>
<path d="M116 269.1 117 269.3 118 269.1 119 265.8 120 270.3 121 276.5 122 281 123 276.2 124 272.8 125 271 126 275.9 127 280.6 128 285.9 129 289.5 130 276.2 131 264.7 132 262 133 267.7 134 271.5 135 269.3 136 266.1 137 260.9 138 264.3 139 269.7 140 276.1 141 277.9 142 280.1 143 283 144 274.2 145 267.2 146 261.7 147 265.4 148 265 149 266.1 150 264.9 151 263.6 152 265.6 153 272.9 154 276 155 276.6 156 273.6 157 270.3 158 269.9 159 272.7 160 273.9 161 275.3 162 270 163 264.5 164 266.3 165 272.6 166 273.5 167 272.5 168 274.2 169 277.5 170 279.6 171 276.7 172 273.9 173 273.9 174 282.1 175 289.1 176 295.5 177 304.5 178 312.4 179 302.3 180 281.4 181 262.4 182 269.6 183 276.8 184 282.6 185 275.6 186 267.7 187 260.6 188 264.1 189 271.7 190 280.2 191 280.3 192 278.3 193 278.2 194 302.8 195 328.4 196 351.8 197 322.3 198 291.2 199 265.2 200 276.1 201 282.5 202 282.5 203 280.1 204 282.7 205 289.3 206 291.1 207 289.8 208 286.3 209 282.1 210 285.7 211 290.9 212 297.7 213 304.3 214 299.5 215 293 216 287.7 217 295.1 218 301 219 306.8 220 313.2 221 301.8 222 288.5 223 276.2 224 278.9 225 284.3 226 289.7 227 291.1 228 292.6 229 293.2 230 291.4 231 290.8 232 290.8 233 293.7 234 297.4 235 300.3 236 297.6 237 295.5 238 295.5 239 296.4 240 294.8 241 293.3 242 298.5 243 305.7 244 311.5 245 318.1 246 323 247 326.3 248 330.5 249 322.6 250 311.7 251 302.8 252 304.8 253 306.6 254 307.2 255 305.8 256 304.9 257 301.8 258 301 259 301.9 260 303.2 261 296.7 262 288.3 263 276.1 264 266.1 265 272.7 266 280.4 267 284.8 268 284.4 269 284.2 270 281.7 271 282.8 272 284.3 273 287.9 274 299 275 311.9 276 322.1 277 319.8 278 315.7 279 314.8 280 317.4 281 312.4 282 304.5 283 292.3 284 280.6 285 274.5 286 267.3 287 262.2 288 262.4 289 268.8 290 272.6 291 273.8 292 277.8 293 286.1 294 290.7 295 290.4 296 288 297 287.2 298 285.8 299 284.1 300 281.3 301 277.9 302 276.2 303 273.6 304 267 305 269.6 306 277.4 307 289.2 308 299.2 309 308.5 310 318.4 311 330.8 312 338.6 313 345.5 314 351.6 315 347.8 316 341.4 317 334.8 318 325 319 313.8 320 306.6 321 299.8 322 290.8 323 283.1 324 276.4 325 271.7 326 270.2 327 268.3 328 266.8 329 265.7 330 260.8 331 253.3 332 247.2 333 243.1 334 243.9 335 250.5 336 256.9 337 262.2 338 267 339 271 340 274.9 341 276.4 342 278.8 343 279.4 344 277.9 345 277.4 346 277 347 277.2 348 278.1 349 274.5 350 271.1 351 267.2 352 263.2 353 260.3 354 256.1 355 251.5 356 249.7 357 253.4 358 256.5 359 259.1 360 257 361 254.7 362 253.7 363 254.2 364 254.2 365 253.4 366 255.8 367 259.4 368 260.4 369 259.4 370 260 371 257.5 372 254.4 373 249.5 374 247.6 375 246.3 376 247.2 377 248.1 378 247.3 379 244.5 380 246.1 381 250.2 382 253.8 383 254.3 384 249.9 385 248.2 386 246.8 387 245.2 388 250.2 389 254.1 390 254.5 391 241.5 392 232.2 393 236.9 394 243.2 395 250.4 396 261.4 397 270.3 398 267.1 399 263.1 400 259.9 401 261.4 402 262.9 403 263.2 404 263.3 405 267.9 406 274.2 407 279.9 408 283.7 409 287.2 410 291.2 411 289.1 412 288.9 413 290.2 414 286.3 415 279 416 271.8 417 278.5 418 285.8 419 292.5 420 290.3 421 287.4 422 284.6 423 286.2 424 289.2 425 292.6 426 292.2 427 291.8 428 288.2 429 284.6 430 282.7 431 281.9 432 285.6 433 289.4 434 291.9 435 293.6 436 295.4 437 297.2 438 292.4 439 287.6 440 284 441 284.4 442 285.3 443 286.9 444 286.3 445 281.9 446 279 447 277.5 448 277.7 449 279.2 450 278.2 451 274.7 452 272.9 453 273.3 454 274.8 455 275.5 456 275.4 457 274.2 458 274.6 459 276.3 460 276.7 461 276.8 462 277.8 463 278.5 464 279.4 465 277.7 466 275.1 467 272.5 468 270.6 469 269 470 267.3 471 266 472 264.5 473 261.2 474 262.7 475 267.2 476 271.8 477 275.7 478 276.8 479 276.7 480 277.9 481 282.1 482 285.6 483 286.7 484 287.7 485 290.8 486 294.3 487 292.1 488 289.6 489 285.8 490 282.5 491 282.3 492 282.1 493 280.8 494 279.2 495 277.7 496 275.6 497 272.6 498 270.3 499 269.3 500 269.5 501 268.9 502 267 503 265.5 504 264.1 505 262.7 506 261.3 507 259.2 508 257.2 509 263.6 510 270.2 511 276.9 512 283.2 513 280.1 514 276.6 515 273.2 516 269.8 517 273.7 518 278.5 519 284.2 520 290.7 521 291.6 522 291.2 523 290.2 524 286.9 525 283.4 526 280.6 527 278.8 528 274.4 529 270.3 530 267.2 531 263.7 532 259.3 533 254.1 534 249.7 535 247.7 536 247.1 537 249.1 538 248.2 539 247.3 540 249.2 541 256.3 542 262 543 268.2 544 275 545 284.9 546 294.5 547 292.8 548 289 549 287.6 550 288.8 551 290.4 552 290.9 553 293.2 554 295 555 292.8 556 291.1 557 289.5 558 287.1 559 281.9 560 277.2 561 273.7 562 269.2 563 264.2 564 273.6 565 282.3 566 274.8 567 265.9 568 259.9 569 263 570 263.3 571 262.4 572 261.9 573 263.1 574 265 575 260.7 576 256.9 577 251.6 578 244.5 579 237.2 580 237.8 581 239.6 582 240.7 583 241.1 584 242.4 585 244.6 586 246.2 587 245.6 588 243.7 589 243.7 590 244.9 591 245.1 592 244.9 593 243.3 594 242.8 595 241.7 596 240 597 241.2 598 241.4 599 241.8 600 244.6 601 251.4 602 257.1 603 263 604 269.9 605 275.9 606 282.1 607 286 608 284.3 609 282.5 610 281.8 611 282.6 612 283.5 613 283.2 614 283.3 615 284.8 616 287.5 617 289.9 618 291.7 619 293.7 620 295 621 293 622 292 623 290.9 624 287.8 625 284.4 626 286 627 289.4 628 291.7 629 295 630 300.8 631 306.9 632 309.7 633 306.4 634 305.5 635 305.6 636 303.8 637 301.5 638 299.8 639 298.1 640 296.9 641 304.2 642 313 643 310.4 644 302.4 645 294.4 646 286.5 647 279.7 648 274.3 649 271 650 267.5 651 262.6 652 257.1 653 252.2 654 249 655 247.9 656 245.5 657 244.2 658 247.9 659 250.8 660 252.6 661 254.2 662 257.3 663 260.5 664 260.7 665 257.1 666 254.7 667 252.9 668 251.5 669 251.1 670 252.7 671 256.3 672 257.1 673 257.1 674 258.9 675 259.5 676 259.7 677 258.5 678 250.9 679 242.1 680 233.5 681 228.9 682 234.4 683 238 684 240.4 685 237 686 232.5 687 230.7 688 231.7 689 231.9 690 230.4 691 229.2 692 227.7 693 227.1 694 225.9 695 225.1 696 217.9 697 215.4 698 212.6 699 210.4 700 208.9 701 209.1 702 208.8 703 207.9 704 207.9 705 210.3 706 212.4 707 213.7 708 207.8 709 202.3 710 196.2 711 190.9 712 192.9 713 194.1 714 196.1 715 192.8 716 190.5 717 193 718 194.8 719 195 720 196.1 721 198.2 722 199.5 723 198.7 724 204.2 725 211.2 726 218.2 727 217.3 728 214.4 729 212.7 730 219.1 731 226.3 732 232.6 733 227.9 734 225.2 735 222.1 736 220.8 737 220.9 738 220.6 739 212.2 740 203.1 741 195.6 742 204.7 743 214 744 220.2 745 216.1 746 213.2 747 212.4 748 218.1 749 222.3 750 224.8 751 221.8 752 219.6 753 219.1 754 219.7 755 220.4 756 220.3 757 219.2 758 218.1 759 229 760 240.6 761 250.8 762 259.6 763 251 764 242.2 765 235.1 766 238.1 767 241.8 768 244.3 769 244.9 770 241.6 771 239.1 772 238.8 773 241.5 774 244.9 775 251.4 776 256.8 777 258.7 778 257.8 779 256.2 780 252.8 781 251.2 782 247.2 783 247.7 784 246.2 785 245.3 786 247.5 787 250.7 788 252.1 789 250.8 790 251.8 791 256.6 792 258.8 793 255 794 251.8 795 247.5 796 242.4 797 239.6 798 248.7 799 256.7 800 260.9 801 261.3 802 262.3 803 267.4 804 272.5 805 266.6 806 259.5 807 254.2 808 256.4 809 260.9 810 262.9 811 252.5 812 243 813 241.8 814 247.9 815 255.5 816 266.2 817 270.3 818 268.6 819 262.4 820 257.6 821 260 822 264.5 823 266.5 824 260.6 825 246.3 826 242.1 827 252.3 828 254.8 829 247.4 830 246.9 831 263 832 271.5 833 260.9 834 252.5 835 243.7 836 241.7 837 253.7 838 254.7 839 250.9 840 250.1 841 248.7 842 253.5 843 256.6 844 251.6 845 244.8 846 247.5 847 253.5 848 259.6 849 261.9 850 270.7 851 282.8 852 286.6 853 267.5 854 248 855 251.9 856 260.1 857 270.5 858 264.3 859 259.6 860 260.2 861 260.1 862 267 863 271.2 864 270 865 258.7 866 255.7 867 260.8 868 266.4 869 266.8 870 267.4 871 264.2 872 267.3 873 260.5 874 250 875 244.6 876 250.2 877 253.6 878 258.8 879 260.8 880 260.7 881 258.2 882 263.5 883 274.7 884 282.5 885 274.6 886 264.3 887 256.3 888 250.9 889 248 890 247.9 891 245.8 892 247.2 893 250.4 894 251.5 895 259.5 896 266.4 897 260 898 258.6 899 254.6 900 244.1 901 243.1 902 246.2 903 251.3 904 255.5 905 252.7 906 254.5 907 255 908 255.9 909 253.6 910 253.9 911 253.6 912 251.5 913 245.8 914 238.8 915 236.9 916 252.1 917 265 918 258.4 919 250.8 920 244.5 921 250 922 256.9 923 264.9 924 270.7 925 272 926 270.3 927 268.7 928 270.1 929 271.1 930 269.9 931 267.9 932 267.6 933 267.4 934 270.4 935 272.9 936 273 937 273.9 938 278.4 939 277 940 272.4 941 271.9 942 273.1 943 270 944 267 945 268.4 946 268.6 947 259.9 948 251 949 254.6 950 265.3 951 269.8 952 268.1 953 261.7 954 256.8 955 249.9 956 246.9 957 254.9 958 262.8 959 264.5 960 267 961 271.8 962 272.4 963 270.9 964 269.1 965 265.1 966 262.6 967 262.6 968 264.5 969 265.7 970 266 971 268.2 972 268.5 973 266.5 974 266.1 975 266 976 266.6 977 266.4 978 261.9 979 252.4 980 247 981 251.6 982 254.9 983 254.2 984 263.8 985 274 986 279.7 987 274.3 988 268.1 989 264.8 990 262.5 991 255.7 992 252.5 993 255.8 994 259.3 995 258.2 996 266.9 997 265.4 998 259.7 999 259 1000 269 1001 271.6 1002 269.1 1003 259.7 1004 255 1005 263.3 1006 267.7 1007 267.9 1008 268.9 1009 273.2 1010 271.4 1011 267.6 1012 264.5 1013 266.5 1014 262.9 1015 263.4 1016 263.8 1017 268.5 1018 273.3 1019 275 1020 271.6 1021 265.9 1022 266.3 1023 268.3 1024 263.4 1025 255.2 1026 253.6 1027 256.1 1028 258 1029 259.6 1030 263.3 1031 263.7 1032 266.9 1033 267 1034 273.4 1035 281.5 1036 277.1 1037 273.3 1038 269.9 1039 272.9 1040 275.1 1041 278.2 1042 278.2 1043 278 1044 274.2 1045 271.9 1046 268.3 1047 264.4 1048 263.5 1049 271.1 1050 278 1051 282.3 1052 274.1 1053 265.8 1054 260.9 1055 262.6 1056 263 1057 264 1058 264 1059 264.3 1060 277.6 1061 289.5 1062 290.7 1063 276.7 1064 270.9 1065 268.4 1066 258.9 1067 256 1068 264.4 1069 279.7 1070 287.2 1071 286.7 1072 275.7 1073 264.5 1074 260.9 1075 263.1 1076 261.4 1077 257 1078 251.8 1079 256.5 1080 261.3 1081 266 1082 263.8 1083 266.1 1084 269.3 1085 266.7 1086 267.2 1087 268.8 1088 267 1089 269.8 1090 283.7 1091 282.9 1092 276.9 1093 269.8 1094 266.4 1095 266.1 1096 268.3 1097 273 1098 283 1099 289.6 1100 287.9 1101 279.2 1102 274.2 1103 276 1104 278.8 1105 274.5 1106 266.3 1107 262.3 1108 259.1 1109 255.5 1110 246.3 1111 234.1 1112 224.8 1113 221 1114 238.9 1115 253.1 1116 262.2 1117 238.8 1118 227.8 1119 249.1 1120 261 1121 262.1 1122 265.5 1123 259.3 1124 251.2 1125 251.3 1126 257.5 1127 267.4 1128 274.1 1129 275.5 1130 267.2 1131 261.4 1132 258.4 1133 260 1134 264.2 1135 269.2 1136 270 1137 269.8 1138 269 1139 266.6 1140 266.3 1141 263.2 1142 264.5 1143 270.3 1144 274.5 1145 273.8 1146 272.2 1147 264.7 1148 256.2 1149 256.4 1150 257.5 1151 254.1 1152 253.8 1153 263.8 1154 276.1 1155 288.4 1156 266.8 1157 244.6 1158 253 1159 265.7 1160 275.6 1161 270.8 1162 264.2 1163 258 1164 254.2 1165 251 1166 246.9 1167 246.2 1168 255.5 1169 264.3 1170 267.6 1171 268.7 1172 262.1 1173 269.5 1174 275.7 1175 280.7 1176 286.8 1177 282.5 1178 273.9 1179 258.3 1180 247.1 1181 255.9 1182 264.8 1183 272.1 1184 281.5 1185 281.1 1186 270.5 1187 262.3 1188 265.6 1189 271.6 1190 275.9 1191 279.7 1192 277 1193 270.4 1194 267.2 1195 270.7 1196 275.9 1197 275.7 1198 273.1 1199 276.1 1200 276.3 1201 272.7 1202 270.9 1203 267.9 1204 268.2 1205 273.4 1206 275.8 1207 273.3 1208 269.2 1209 268.3 1210 270.5 1211 274.3 1212 274.3 1213 271.6 1214 271.7 1215 274.4 1216 274.9 1217 272.9 1218 267.4 1219 260.8 1220 261.4 1221 263.2 1222 260.2 1223 258.4 1224 259.1 1225 259 1226 256.4 1227 255.2 1228 255.5 1229 259.9 1230 263 1231 263.5 1232 266.1 1233 268.6 1234 272.2 1235 280.1 1236 279.2 1237 277.5 1238 274.6 1239 264.9 1240 252.3 1241 259.8 1242 273.4 1243 285.7 1244 276.9 1245 271.9 1246 271.4 1247 264.5 1248 262.9 1249 266.9 1250 274 1251 281.4 1252 283.1 1253 268.7 1254 256.5 1255 253.3 1256 255.1 1257 261.9 1258 265.6 1259 268.7 1260 275.7 1261 287.2 1262 288.4 1263 283.6 1264 281.4 1265 277.1 1266 276.7 1267 281.8 1268 285.9 1269 286.8 1270 280.6 1271 272.7 1272 277.5 1273 286.2 1274 284.2 1275 276.8 1276 275.4 1277 277.9 1278 280.5 1279 261.4 1280 258.5 1281 258.8 1282 257 1283 250.9 1284 250.5 1285 258.8 1286 265.8 1287 269.6 1288 273.7 1289 276.8 1290 279.8 1291 278.7 1292 275 1293 270.5 1294 264.9 1295 258.8 1296 255.4 1297 255.7 1298 258.2 1299 253.7 1300 246.5 1301 241.4 1302 241.5 1303 259.8 1304 274.6 1305 283.6 1306 278.5 1307 274 1308 266.2 1309 257.2 1310 249.4 1311 252.6 1312 256.1 1313 254.5 1314 250.2 1315 252 1316 259.7 1317 265 1318 264.7 1319 260.5 1320 258.5 1321 260.1 1322 268.4 1323 277.7 1324 283 1325 282.3 1326 278.7 1327 279.3 1328 279.3 1329 280.3 1330 283.7 1331 283.7 1332 268.2 1333 255.2 1334 247.9 1335 257.3 1336 264.7 1337 274.5 1338 284.9 1339 280 1340 269.4 1341 265.3 1342 267.4 1343 271 1344 269.6 1345 271.5 1346 275.8 1347 276.2 1348 280.1 1349 283 1350 278.3 1351 278 1352 285.1 1353 285.7 1354 284.1 1355 281.1 1356 275.5 1357 274.2 1358 276 1359 274.5 1360 273.1 1361 272.7 1362 275.3 1363 277.4 1364 276.3 1365 274 1366 275.1 1367 281.5 1368 283.5 1369 276.9 1370 273.5 1371 271.4 1372 263.9 1373 259.8 1374 261.9 1375 267.7 1376 272.2 1377 272 1378 265.5 1379 253.8 1380 247.7 1381 247.6 1382 251.5 1383 258.2 1384 263.4 1385 267.8 1386 268.4 1387 254.5 1388 240.5 1389 232.9 1390 247.2 1391 261.3 1392 279.7 1393 284 1394 281.5 1395 274.8 1396 269.4 1397 272.5 1398 276 1399 279 1400 285 1401 284.5 1402 281.6 1403 279.4 1404 277.8 1405 271.2 1406 269.3 1407 274.6 1408 281.4 1409 284.1 1410 280.7 1411 277.9 1412 276.2 1413 269.8 1414 267.4 1415 274.4 1416 280.9 1417 280.4 1418 276.4 1419 274 1420 277.4 1421 279.5 1422 280.6 1423 281 1424 278.2 1425 272 1426 265.5 1427 264.7 1428 266.8 1429 267.9 1430 271.1 1431 273.4 1432 271.1 1433 273.2 1434 278.1 1435 276.2 1436 268 1437 258.6 1438 252.8 1439 254.9 1440 261.6 1441 268.6 1442 270.2 1443 268.5 1444 272.4 1445 286.9 1446 302.5 1447 312.1 1448 297 1449 280.9 1450 272.4 1451 277.5 1452 279.2 1453 279.4 1454 278.3 1455 274.5 1456 275.7 1457 275.9 1458 272.8 1459 271.5 1460 272 1461 271.9 1462 273.8" stroke="#ff7f0e" stroke-width="2.4" fill="none" stroke-linejoin="round" stroke-linecap="square"/>
</g>
<rect x="116.5" y="38.4" width="1346.0" height="480.0" fill="none" stroke="#000" stroke-width="1.1"/>
<line x1="116.50" y1="518.4" x2="116.50" y2="523.4" stroke="#000" stroke-width="1.1"/>
<line x1="284.75" y1="518.4" x2="284.75" y2="523.4" stroke="#000" stroke-width="1.1"/>
<line x1="453.00" y1="518.4" x2="453.00" y2="523.4" stroke="#000" stroke-width="1.1"/>
<line x1="621.25" y1="518.4" x2="621.25" y2="523.4" stroke="#000" stroke-width="1.1"/>
<line x1="789.50" y1="518.4" x2="789.50" y2="523.4" stroke="#000" stroke-width="1.1"/>
<line x1="957.75" y1="518.4" x2="957.75" y2="523.4" stroke="#000" stroke-width="1.1"/>
<line x1="1126.00" y1="518.4" x2="1126.00" y2="523.4" stroke="#000" stroke-width="1.1"/>
<line x1="1294.25" y1="518.4" x2="1294.25" y2="523.4" stroke="#000" stroke-width="1.1"/>
<line x1="111.5" y1="69.30" x2="116.5" y2="69.30" stroke="#000" stroke-width="1.1"/>
<line x1="111.5" y1="169.30" x2="116.5" y2="169.30" stroke="#000" stroke-width="1.1"/>
<line x1="111.5" y1="269.30" x2="116.5" y2="269.30" stroke="#000" stroke-width="1.1"/>
<line x1="111.5" y1="369.30" x2="116.5" y2="369.30" stroke="#000" stroke-width="1.1"/>
<line x1="111.5" y1="469.30" x2="116.5" y2="469.30" stroke="#000" stroke-width="1.1"/>
<g clip-path="url(#c2)">
<rect x="190.1" y="575.5" width="500.19999999999993" height="479.0" fill="#e6e6e6" stroke="#d9d9d9" stroke-width="1"/>
<line x1="116.50" y1="575.5" x2="116.50" y2="1054.5" stroke="#b0b0b0" stroke-width="1.11" stroke-dasharray="1.11 1.83"/>
<line x1="284.75" y1="575.5" x2="284.75" y2="1054.5" stroke="#b0b0b0" stroke-width="1.11" stroke-dasharray="1.11 1.83"/>
<line x1="453.00" y1="575.5" x2="453.00" y2="1054.5" stroke="#b0b0b0" stroke-width="1.11" stroke-dasharray="1.11 1.83"/>
<line x1="621.25" y1="575.5" x2="621.25" y2="1054.5" stroke="#b0b0b0" stroke-width="1.11" stroke-dasharray="1.11 1.83"/>
<line x1="789.50" y1="575.5" x2="789.50" y2="1054.5" stroke="#b0b0b0" stroke-width="1.11" stroke-dasharray="1.11 1.83"/>
<line x1="957.75" y1="575.5" x2="957.75" y2="1054.5" stroke="#b0b0b0" stroke-width="1.11" stroke-dasharray="1.11 1.83"/>
<line x1="1126.00" y1="575.5" x2="1126.00" y2="1054.5" stroke="#b0b0b0" stroke-width="1.11" stroke-dasharray="1.11 1.83"/>
<line x1="1294.25" y1="575.5" x2="1294.25" y2="1054.5" stroke="#b0b0b0" stroke-width="1.11" stroke-dasharray="1.11 1.83"/>
<line x1="116.5" y1="584.70" x2="1462.5" y2="584.70" stroke="#b0b0b0" stroke-width="1.11" stroke-dasharray="1.11 1.83"/>
<line x1="116.5" y1="641.10" x2="1462.5" y2="641.10" stroke="#b0b0b0" stroke-width="1.11" stroke-dasharray="1.11 1.83"/>
<line x1="116.5" y1="697.50" x2="1462.5" y2="697.50" stroke="#b0b0b0" stroke-width="1.11" stroke-dasharray="1.11 1.83"/>
<line x1="116.5" y1="753.90" x2="1462.5" y2="753.90" stroke="#b0b0b0" stroke-width="1.11" stroke-dasharray="1.11 1.83"/>
<line x1="116.5" y1="810.30" x2="1462.5" y2="810.30" stroke="#b0b0b0" stroke-width="1.11" stroke-dasharray="1.11 1.83"/>
<line x1="116.5" y1="866.70" x2="1462.5" y2="866.70" stroke="#b0b0b0" stroke-width="1.11" stroke-dasharray="1.11 1.83"/>
<line x1="116.5" y1="923.10" x2="1462.5" y2="923.10" stroke="#b0b0b0" stroke-width="1.11" stroke-dasharray="1.11 1.83"/>
<line x1="116.5" y1="979.50" x2="1462.5" y2="979.50" stroke="#b0b0b0" stroke-width="1.11" stroke-dasharray="1.11 1.83"/>
<line x1="116.5" y1="1035.90" x2="1462.5" y2="1035.90" stroke="#b0b0b0" stroke-width="1.11" stroke-dasharray="1.11 1.83"/>
<path d="M117.5 1025.4V1013.1M118.5 1025.9V1016.2M119.5 1025.6V1016.8M120.5 1023.9V1012.9M121.5 1022.2V1007.4M122.5 1021.9V1005.2M123.5 1021.9V1004.9M124.5 1022.4V1005.1M125.5 1024.7V1005.6M126.5 1025.6V1005.3M127.5 1025.7V1004.8M128.5 1025.8V1005.7M129.5 1025.2V1008.5M130.5 1024.1V1010.2M131.5 1023.5V1008.8M132.5 1023.3V1006.4M133.5 1023.6V1005.8M134.5 1024.4V1005.6M135.5 1023.3V1004M136.5 1021.8V1002.7M137.5 1021.8V1001.6M138.5 1022.6V1000.7M139.5 1024.7V1000.6M140.5 1025.3V1001.1M141.5 1025.8V1000.4M142.5 1026.3V998.8M143.5 1026V999.9M144.5 1024V1003.5M145.5 1022.2V1001.9M146.5 1021.7V1000.3M147.5 1021.6V998M148.5 1021.6V993.8M149.5 1021.7V991.9M150.5 1021.6V991.4M151.5 1021.7V991.5M152.5 1022.7V992.1M153.5 1023.3V992.6M154.5 1022.2V994.5M155.5 1021.6V997.4M156.5 1021.6V996M157.5 1022.1V988.9M158.5 1023.3V984.6M159.5 1024.7V986.4M160.5 1024.8V990.1M161.5 1022.4V987.2M162.5 1021.4V976.1M163.5 1021.4V967.5M164.5 1021.9V965.5M165.5 1022.8V965.4M166.5 1022.1V963.5M167.5 1021.6V962.4M168.5 1021.4V960.6M169.5 1021.3V953.7M170.5 1021.4V947.3M171.5 1021.9V943.7M172.5 1023.4V941.7M173.5 1023.6V940.7M174.5 1022.5V941.6M175.5 1021.8V948.2M176.5 1021.9V954.5M177.5 1023V954.5M178.5 1023.6V951.8M179.5 1022.3V948.8M180.5 1021.5V950.7M181.5 1021.2V964.4M182.5 1021.1V985.3M183.5 1021.1V994.1M184.5 1021.1V982M185.5 1021.1V957.8M186.5 1021.2V938.3M187.5 1021.2V933.7M188.5 1021.6V938.6M189.5 1022.6V947.2M190.5 1024.6V953.7M191.5 1025V958.8M192.5 1023.1V956.5M193.5 1021.1V941.8M194.5 1020.9V927.7M195.5 1021V923.2M196.5 1021V930.9M197.5 1020.9V947M198.5 1021.4V961.1M199.5 1022.8V969.2M200.5 1022.4V976.8M201.5 1022.8V985.7M202.5 1024.7V990M203.5 1024.9V988.1M204.5 1023.8V981.8M205.5 1021.4V976.8M206.5 1020.6V975.9M207.5 1020.7V977.6M208.5 1022.4V982.4M209.5 1023.7V988.4M210.5 1021.6V992.3M211.5 1020.5V992.5M212.5 1020.4V992.5M213.5 1020.4V995.7M214.5 1020.5V1001.5M215.5 1021.5V1008.5M216.5 1023.6V1007.7M217.5 1024.7V998.6M218.5 1024.8V988.1M219.5 1024.7V980.5M220.5 1024.5V979.1M221.5 1022.8V978.9M222.5 1020.4V978.9M223.5 1020.1V979.2M224.5 1020.2V980.1M225.5 1020.6V981.6M226.5 1020.5V984.1M227.5 1020V988.4M228.5 1020V994M229.5 1020.1V1000.1M230.5 1021.4V998.6M231.5 1021.8V991.3M232.5 1022.1V985.1M233.5 1023.4V980.9M234.5 1023.9V979.9M235.5 1022.8V980.5M236.5 1020.5V981.7M237.5 1019.8V982.9M238.5 1019.9V979.3M239.5 1021.6V971.8M240.5 1022.5V965.8M241.5 1021.4V965.4M242.5 1021.1V973.3M243.5 1020.8V985.7M244.5 1020.3V990.9M245.5 1020.1V989.5M246.5 1019.8V978.4M247.5 1019.6V944.1M248.5 1019.5V922.8M249.5 1019.6V920.5M250.5 1019.9V922M251.5 1020.2V923.6M252.5 1020.5V919.1M253.5 1020.2V917.7M254.5 1019.6V920.7M255.5 1019.6V933.2M256.5 1020.1V951.3M257.5 1020.2V963.1M258.5 1019.5V957.6M259.5 1019.5V947.9M260.5 1019.9V949M261.5 1019.7V953.2M262.5 1019.3V950M263.5 1019.2V941.1M264.5 1019.1V935.1M265.5 1019.1V935.8M266.5 1019V941.3M267.5 1019V947.4M268.5 1019V952.6M269.5 1019.1V955.9M270.5 1019.6V955.4M271.5 1020.7V946.9M272.5 1021.4V933M273.5 1020.1V917.9M274.5 1019.1V910.2M275.5 1018.9V915.4M276.5 1018.8V941.9M277.5 1019.1V959.2M278.5 1021.7V940.8M279.5 1022.9V909.2M280.5 1022.7V908.1M281.5 1020.9V921.2M282.5 1019.4V906.9M283.5 1019.2V892.9M284.5 1020V891.4M285.5 1020.9V898M286.5 1021.6V915.6M287.5 1021.9V932.2M288.5 1021.7V935.1M289.5 1021V931.5M290.5 1019.8V927.6M291.5 1018.8V929.1M292.5 1018.6V942.9M293.5 1018.6V969.5M294.5 1020.7V963.7M295.5 1023.4V931M296.5 1023.5V907.8M297.5 1023.4V905.2M298.5 1022.4V917.1M299.5 1019.1V926.7M300.5 1018.8V910.3M301.5 1019.8V889.8M302.5 1020.6V882.1M303.5 1020.5V882.9M304.5 1020V894.2M305.5 1019.5V918.7M306.5 1019.6V925.6M307.5 1020.1V908.3M308.5 1021.2V893.3M309.5 1022.3V892.6M310.5 1022.6V892.9M311.5 1022.9V886M312.5 1022.8V882.3M313.5 1022.5V885.3M314.5 1021.8V894.9M315.5 1020V898.4M316.5 1019V894.3M317.5 1018.5V885.4M318.5 1018.6V891.9M319.5 1020.1V901.3M320.5 1021.8V899.7M321.5 1021.3V900.3M322.5 1020.6V908.6M323.5 1020.4V931.3M324.5 1020.6V959.4M325.5 1020.7V957.3M326.5 1020.2V921M327.5 1020.2V906.4M328.5 1021.3V904.7M329.5 1021.8V902.4M330.5 1019.7V899.5M331.5 1018V898.1M332.5 1017.9V895.2M333.5 1017.9V894.7M334.5 1018V894.1M335.5 1018.2V892.6M336.5 1019.4V891M337.5 1021.3V890.6M338.5 1022V897.8M339.5 1021.6V922.5M340.5 1020.5V934.7M341.5 1021.2V924.3M342.5 1022V922.6M343.5 1021.3V936.3M344.5 1019.5V944.3M345.5 1020.7V921.3M346.5 1022.3V890.1M347.5 1022.5V873.3M348.5 1022.3V870.2M349.5 1021.2V869.1M350.5 1018.9V869.4M351.5 1018.6V880.1M352.5 1018.8V893.4M353.5 1017.8V913.1M354.5 1017.4V951.2M355.5 1017.5V944.9M356.5 1018.7V909.7M357.5 1019.2V900.9M358.5 1017.8V901.2M359.5 1017.3V895.1M360.5 1017.4V897.5M361.5 1018.7V915.7M362.5 1018.9V954.9M363.5 1018.4V976.9M364.5 1018.3V968.8M365.5 1017.3V945.6M366.5 1017V921.9M367.5 1016.9V920.7M368.5 1017.2V935.5M369.5 1018V962.6M370.5 1018.1V973.2M371.5 1017.7V965.6M372.5 1017.4V943M373.5 1017.2V930M374.5 1016.9V933.5M375.5 1016.8V952M376.5 1016.8V974.9M377.5 1017V976.8M378.5 1017.1V966.1M379.5 1017V954.3M380.5 1017.2V958.6M381.5 1017.7V973.8M382.5 1018.1V990.8M383.5 1017.5V990.1M384.5 1017V976.2M385.5 1016.8V960.3M386.5 1016.7V942.8M387.5 1016.8V945.2M388.5 1017.5V945.2M389.5 1018.3V932.6M390.5 1017.8V924.3M391.5 1016.9V923M392.5 1017V924.1M393.5 1017.5V925.9M394.5 1017.4V926.4M395.5 1017.1V926.9M396.5 1016.8V930.6M397.5 1016.6V938.2M398.5 1016.9V944.8M399.5 1018.4V956.9M400.5 1019.6V964.4M401.5 1019.7V960.2M402.5 1020.2V951.2M403.5 1020.8V954.4M404.5 1020.7V960.9M405.5 1019.6V949.1M406.5 1017.2V915.3M407.5 1017.3V893.8M408.5 1018.4V888.5M409.5 1017.7V886.5M410.5 1016.1V886.7M411.5 1015.9V891.9M412.5 1016.1V905.6M413.5 1017V914.5M414.5 1017.4V910.9M415.5 1016.8V910.6M416.5 1016.2V899.1M417.5 1016.3V891.7M418.5 1017.1V892.6M419.5 1018.7V896.6M420.5 1019.1V897.1M421.5 1018.1V896M422.5 1017.7V898.5M423.5 1018.7V907.7M424.5 1018.2V921.9M425.5 1015.9V917M426.5 1015.7V909.1M427.5 1015.7V909.9M428.5 1016.1V915M429.5 1016.9V923.3M430.5 1016.7V938.6M431.5 1016.3V966.4M432.5 1016V988.8M433.5 1016.2V995.6M434.5 1016.6V981.8M435.5 1017.2V952.8M436.5 1018.3V932.4M437.5 1019.3V927.9M438.5 1018.7V927.7M439.5 1016.4V923.5M440.5 1015.5V912.8M441.5 1015.5V893.2M442.5 1015.4V873M443.5 1015.5V855.4M444.5 1015.4V849.2M445.5 1015.4V860.2M446.5 1015.5V892.2M447.5 1015.6V926.2M448.5 1015.9V914.9M449.5 1016.7V914.5M450.5 1016.5V917.6M451.5 1015.5V910.2M452.5 1015.3V902.3M453.5 1015.3V901.6M454.5 1015.3V902M455.5 1015.3V896.8M456.5 1015.3V893.1M457.5 1015.8V893.7M458.5 1017.4V907.9M459.5 1017.6V923.7M460.5 1016.9V927.4M461.5 1015.8V913.5M462.5 1015.6V892.2M463.5 1017.1V883.7M464.5 1019.3V881M465.5 1019.8V879.8M466.5 1020V879.7M467.5 1019.7V881.7M468.5 1017.7V885M469.5 1016.5V887.1M470.5 1017.3V883.5M471.5 1018V877.6M472.5 1018.5V875.7M473.5 1018.8V875.8M474.5 1018.1V881.8M475.5 1016.5V890M476.5 1015.5V892.2M477.5 1015.1V898.7M478.5 1015V909.8M479.5 1014.9V915.3M480.5 1014.9V908M481.5 1014.9V897.8M482.5 1015.5V896.2M483.5 1018.4V910M484.5 1019.2V945.6M485.5 1018.5V966.2M486.5 1016.3V954.8M487.5 1015.1V944.1M488.5 1014.9V938.8M489.5 1015V935.1M490.5 1015.4V930.7M491.5 1016.6V917.9M492.5 1018.1V906.2M493.5 1018V901.9M494.5 1015.7V906.8M495.5 1014.8V918.6M496.5 1014.8V927.1M497.5 1015.2V931.4M498.5 1016.4V933.2M499.5 1016.9V931.5M500.5 1016.2V925.6M501.5 1015.7V912.1M502.5 1015.5V898.9M503.5 1015.4V894.5M504.5 1016.3V894.5M505.5 1018.1V896.5M506.5 1019V895.3M507.5 1019V892M508.5 1018.1V891.1M509.5 1015V891.8M510.5 1014.5V904M511.5 1014.5V939.6M512.5 1014.5V968.6M513.5 1015.1V959.8M514.5 1014.8V928M515.5 1014.5V905.6M516.5 1014.5V894.5M517.5 1014.5V887.5M518.5 1014.5V883.8M519.5 1014.6V886.6M520.5 1015.2V898.9M521.5 1017.4V907.4M522.5 1018.9V911.8M523.5 1018.9V906.6M524.5 1016.9V909.2M525.5 1014.8V914.3M526.5 1014.9V916.4M527.5 1016.2V898.6M528.5 1017.6V860.7M529.5 1017.2V838M530.5 1015.3V834.7M531.5 1014.3V842.4M532.5 1014.2V856.1M533.5 1014.2V862M534.5 1014.3V836.7M535.5 1015.6V808.5M536.5 1018.1V815M537.5 1018.4V845M538.5 1017.3V859.5M539.5 1015.8V859.8M540.5 1015.1V853.9M541.5 1015.1V841.5M542.5 1015.7V858.4M543.5 1016.2V875.2M544.5 1015.4V838.4M545.5 1014.7V808.2M546.5 1014.8V803.3M547.5 1014.8V810.9M548.5 1014.2V831.5M549.5 1014V847.4M550.5 1014V844.4M551.5 1014.4V829.2M552.5 1015.6V823M553.5 1014.9V821.8M554.5 1014.3V826.9M555.5 1014.9V834M556.5 1016.3V834.9M557.5 1016.2V832.1M558.5 1015.4V833.2M559.5 1015.7V856.8M560.5 1017V890.7M561.5 1017.9V892.6M562.5 1018.2V877.1M563.5 1018.3V891.8M564.5 1018.1V927.8M565.5 1017.2V954.9M566.5 1014.1V923.7M567.5 1013.3V876.4M568.5 1013.3V871.2M569.5 1013.2V903.2M570.5 1013.2V925.6M571.5 1013.5V924M572.5 1014.2V931.2M573.5 1013.9V942.7M574.5 1013.4V914.3M575.5 1013.2V877.5M576.5 1013.4V857.5M577.5 1013.9V848.5M578.5 1013.9V841.9M579.5 1014.1V840.6M580.5 1016.1V843.5M581.5 1017.3V848.1M582.5 1017.2V850.5M583.5 1015.1V852.1M584.5 1012.9V858.7M585.5 1012.7V866.2M586.5 1012.7V857.9M587.5 1012.9V836.8M588.5 1014.1V828.7M589.5 1014.9V828.5M590.5 1014V831.4M591.5 1013.2V838.5M592.5 1013.2V845.2M593.5 1014.3V846.9M594.5 1016.3V849.5M595.5 1016.7V852.3M596.5 1016.2V848.9M597.5 1014.2V842.6M598.5 1013.2V832.8M599.5 1013V824.7M600.5 1012.5V819.6M601.5 1012.7V820.4M602.5 1013.9V833.4M603.5 1013.7V860.8M604.5 1012.4V878.2M605.5 1012.1V871.4M606.5 1012.2V853.7M607.5 1012.2V843.1M608.5 1012.2V851.5M609.5 1012.3V851.2M610.5 1011.9V837.5M611.5 1011.6V851.1M612.5 1011.5V881.4M613.5 1011.5V915.9M614.5 1011.5V925.6M615.5 1012V935.8M616.5 1012.9V925.9M617.5 1012.7V901.3M618.5 1012.6V884.9M619.5 1012.7V870M620.5 1012.7V849.9M621.5 1012.5V839M622.5 1011.9V835.1M623.5 1011.6V837M624.5 1012.5V850.6M625.5 1014.9V870.9M626.5 1016.5V896.9M627.5 1017V911.6M628.5 1017.6V912.9M629.5 1018.2V934.5M630.5 1019.8V971.7M631.5 1022.6V1008.6M632.5 1023.9V1011.8M633.5 1022.4V1010.9M634.5 1020.9V1009.8M635.5 1021.1V1010.3M636.5 1021.7V1012.7M637.5 1021.6V1016.2M638.5 1021.2V1017.4M639.5 1021.3V1016.6M640.5 1021.5V1015M641.5 1021.6V1013.6M642.5 1021.8V1012.4M643.5 1022.8V1012.6M644.5 1024.9V1013.9M645.5 1025.7V1014.8M646.5 1025.2V1014.3M647.5 1024.4V1013.5M648.5 1024.1V1013.2M649.5 1023.6V1012.4M650.5 1023.2V1010.8M651.5 1023.1V1010M652.5 1023.2V1009.9M653.5 1023.3V1010.1M654.5 1024V1010.3M655.5 1024.6V1010.7M656.5 1023.7V1010.8M657.5 1023.4V1011.4M658.5 1023.6V1013M659.5 1024.4V1015.2M660.5 1025V1017.4M661.5 1024.7V1019M662.5 1024.1V1020.9M663.5 1024.6V1021.4M664.5 1026.5V1021.1M665.5 1027.3V1019.9M666.5 1027.3V1017.9M667.5 1027.3V1014.2M668.5 1026.8V1011.5M669.5 1026.3V1011.2M670.5 1026.2V1012.9M671.5 1026.3V1016.5M672.5 1025.9V1018.6M673.5 1025.7V1013.9M674.5 1025.4V994.3M675.5 1023.3V976M676.5 1021V970.9M677.5 1019.9V978.4M678.5 1018.9V991.6M679.5 1015.6V958.3M680.5 1013.9V894.9M681.5 1015.1V855.6M682.5 1014.8V837.5M683.5 1013.2V830.1M684.5 1013.2V829.4M685.5 1013.3V820.9M686.5 1014.5V807.9M687.5 1016.8V801.4M688.5 1017.4V797.2M689.5 1017.1V792.9M690.5 1016.7V788.8M691.5 1016.4V785.7M692.5 1015.7V801.5M693.5 1015.3V862.4M694.5 1015.7V904.7M695.5 1016.5V907.3M696.5 1016.5V892.9M697.5 1016.2V878.9M698.5 1015.8V864.6M699.5 1015V847.4M700.5 1014.4V836.2M701.5 1014.2V833.7M702.5 1014.1V840.8M703.5 1014.5V853.9M704.5 1016V857.3M705.5 1015.7V850M706.5 1014.4V855.1M707.5 1014.3V877.6M708.5 1014.4V908.8M709.5 1014.5V927.3M710.5 1014.5V934.5M711.5 1014.6V934.3M712.5 1014.9V935.7M713.5 1015.4V942.2M714.5 1015.2V951.1M715.5 1014.8V953.5M716.5 1014.7V951.1M717.5 1014.8V946.8M718.5 1015V944.4M719.5 1015.6V943.9M720.5 1015.6V944.7M721.5 1016.1V947.4M722.5 1017.5V955M723.5 1017.1V968.7M724.5 1015.6V976.7M725.5 1015.3V971.1M726.5 1015.2V960.3M727.5 1015.2V952.9M728.5 1015.7V955.3M729.5 1018V967.2M730.5 1018.4V974.8M731.5 1017V970.1M732.5 1016V963.9M733.5 1016.3V961.2M734.5 1017.9V958M735.5 1018.4V955.5M736.5 1017.3V955.1M737.5 1016.4V957.3M738.5 1015.8V954.9M739.5 1015.7V947.5M740.5 1015.7V944.7M741.5 1015.7V944.8M742.5 1015.7V944.6M743.5 1016V944.7M744.5 1017V947.2M745.5 1018.6V949M746.5 1018.1V949.3M747.5 1016.2V951.9M748.5 1016V955.1M749.5 1016V958.9M750.5 1016.2V970.2M751.5 1017.1V985.1M752.5 1018.3V993.9M753.5 1017.5V988.4M754.5 1016.6V977.1M755.5 1016.6V968.4M756.5 1016.7V960.5M757.5 1016.6V952.1M758.5 1016.6V949.5M759.5 1016.7V949M760.5 1016.7V951.2M761.5 1017.3V957.4M762.5 1019.8V959.1M763.5 1021.1V954.5M764.5 1020.9V950.6M765.5 1020.5V950.1M766.5 1020.2V951.3M767.5 1019.6V951.9M768.5 1019.7V951.5M769.5 1021V952.8M770.5 1021.7V955.4M771.5 1022V956.5M772.5 1022.1V954.8M773.5 1022.1V950.8M774.5 1021.8V947M775.5 1021.2V948.1M776.5 1021V952.2M777.5 1022V955.2M778.5 1022.4V949.3M779.5 1022.3V943.3M780.5 1020.7V943.8M781.5 1019.1V946.4M782.5 1019.2V944.3M783.5 1019.4V941.2M784.5 1020V941.9M785.5 1019.9V944.7M786.5 1018.7V952.6M787.5 1018.2V962.2M788.5 1018.6V965.9M789.5 1020.8V968.2M790.5 1022.7V974.9M791.5 1023.3V973.9M792.5 1023.3V966.2M793.5 1021.4V961.1M794.5 1020.1V959.8M795.5 1020.5V960.2M796.5 1021.1V964M797.5 1022.5V973.8M798.5 1023.9V982.5M799.5 1024.1V979.4M800.5 1024.5V970.1M801.5 1025.3V963.5M802.5 1025.8V961.4M803.5 1025.8V960.8M804.5 1024.4V959.4M805.5 1022.6V958M806.5 1022.5V956.6M807.5 1022.8V954.1M808.5 1024.1V953.2M809.5 1025.7V954.7M810.5 1027V960.9M811.5 1027.5V967.8M812.5 1027.5V980.9M813.5 1026.6V993.7M814.5 1026.2V1002.9M815.5 1026.7V1010.4M816.5 1026.4V1013M817.5 1025.7V1011.6M818.5 1026.3V1011.2M819.5 1026.1V1012.6M820.5 1024.8V1015.6M821.5 1025V1017.7M822.5 1025.8V1018.4M823.5 1025.6V1019.3M824.5 1025.6V1020.2M825.5 1027.2V1020.2M826.5 1028.3V1018.5M827.5 1027.7V1015.9M828.5 1026.8V1014.4M829.5 1027.1V1014.3M830.5 1026.8V1014.6M831.5 1025.5V1015.2M832.5 1024.6V1015.8M833.5 1024.5V1016.9M834.5 1024.5V1018.3M835.5 1024.3V1019M836.5 1024.3V1017.7M837.5 1025.4V1015M838.5 1027.5V1013M839.5 1027.3V1012M840.5 1026.5V1011.4M841.5 1025.3V1011.4M842.5 1024.4V1014.3M843.5 1024.4V1019.5M844.5 1024.8V1022.6M845.5 1028.1V1024.3M846.5 1029.2V1022.1M847.5 1029.3V1016.8M848.5 1029V1011.7M849.5 1027.5V1009.8M850.5 1026.8V1011.9M851.5 1026.9V1015.4M852.5 1025.8V1016.8M853.5 1024.7V1016.7M854.5 1024.5V1015.4M855.5 1024.5V1014.8M856.5 1024.6V1015M857.5 1025.3V1014.9M858.5 1027.5V1015.5M859.5 1029V1015.8M860.5 1029.2V1015.3M861.5 1029V1012.8M862.5 1027.8V1008.9M863.5 1026.5V1006M864.5 1027.5V1003.7M865.5 1028.9V1002.7M866.5 1028.8V1005.5M867.5 1026.6V1007.4M868.5 1025.4V1008.4M869.5 1025.3V1009.7M870.5 1024.9V1010.5M871.5 1024.7V1012M872.5 1024.7V1013.5M873.5 1024.7V1014.7M874.5 1024.8V1015.3M875.5 1025.7V1014.5M876.5 1028.1V1012.7M877.5 1027.4V1011.5M878.5 1025.4V1011M879.5 1026V1011.6M880.5 1029V1014.9M881.5 1029.5V1018M882.5 1028.6V1017.6M883.5 1026V1014.5M884.5 1026.1V1011.4M885.5 1027.4V1010.5M886.5 1027.5V1010.5M887.5 1027.1V1010.7M888.5 1028V1010.8M889.5 1028.7V1011.1M890.5 1028.6V1012.4M891.5 1028.4V1014.8M892.5 1027.6V1016.4M893.5 1026V1015.9M894.5 1025.4V1014.1M895.5 1025.4V1012.4M896.5 1025.5V1011M897.5 1025.7V1010.3M898.5 1026V1010.2M899.5 1026.2V1010.9M900.5 1026.5V1014.1M901.5 1027.4V1018.7M902.5 1027V1019.4M903.5 1025.7V1017.1M904.5 1025.2V1014.1M905.5 1025.2V1011.2M906.5 1025.1V1008.3M907.5 1025.4V1008.5M908.5 1027.6V1013M909.5 1029V1019.5M910.5 1027V1021.6M911.5 1025.2V1020.6M912.5 1025.2V1018.7M913.5 1025.2V1017M914.5 1025.6V1017.5M915.5 1026.2V1019.2M916.5 1025.8V1019.6M917.5 1025.8V1018.3M918.5 1025.5V1012.4M919.5 1025.4V1008.8M920.5 1025.8V1008.2M921.5 1026.6V1008.6M922.5 1026.2V1010.5M923.5 1025.5V1012.3M924.5 1025.3V1013M925.5 1025.3V1013.5M926.5 1025.3V1014.3M927.5 1025.4V1013.9M928.5 1025.6V1012.1M929.5 1026.3V1009.8M930.5 1026.7V1007.8M931.5 1026.5V1007M932.5 1026.4V1007.5M933.5 1025.9V1008.3M934.5 1025.8V1008.6M935.5 1027V1008.3M936.5 1028.2V1007.6M937.5 1028.3V1006.7M938.5 1029.1V1006.3M939.5 1029.7V1007.3M940.5 1028.5V1010.2M941.5 1026.7V1013.6M942.5 1027.5V1014.1M943.5 1029.7V1012.4M944.5 1030.2V1008.5M945.5 1030.3V1004.5M946.5 1030.2V1003.1M947.5 1028.9V1000.7M948.5 1027V997.5M949.5 1026.4V994.6M950.5 1026.5V998.9M951.5 1026.3V1007M952.5 1026.1V1010.6M953.5 1026.5V1009.6M954.5 1027.8V1009.1M955.5 1027.6V1010.6M956.5 1026.2V1013.7M957.5 1025.9V1015.3M958.5 1025.9V1013.2M959.5 1026V1010.5M960.5 1026.6V1009.6M961.5 1026.7V1009.7M962.5 1026.1V1010.3M963.5 1025.8V1012.1M964.5 1025.8V1015M965.5 1025.8V1017.5M966.5 1025.8V1017.5M967.5 1025.8V1015.1M968.5 1025.9V1013.4M969.5 1025.9V1013.9M970.5 1026.3V1015M971.5 1027.5V1014.8M972.5 1028.2V1013.1M973.5 1027.6V1012.1M974.5 1027.7V1012.3M975.5 1029.5V1013.6M976.5 1030.2V1014.8M977.5 1029.5V1015.1M978.5 1027.7V1014.8M979.5 1026.4V1013.9M980.5 1026V1012.9M981.5 1026V1012.8M982.5 1026.1V1013.9M983.5 1026.8V1015.4M984.5 1028.7V1016.2M985.5 1030V1017.2M986.5 1029.3V1019.1M987.5 1028.4V1019.9M988.5 1028.6V1019.1M989.5 1029.5V1018.9M990.5 1030.2V1020.6M991.5 1030.4V1020.7M992.5 1030.3V1017.2M993.5 1030.2V1013.8M994.5 1030.1V1012.9M995.5 1029.6V1012.8M996.5 1028.8V1012.8M997.5 1027.4V1012.9M998.5 1026.5V1011.6M999.5 1026.8V1009M1000.5 1028.9V1006.6M1001.5 1030.1V1008.1M1002.5 1029.2V1013.9M1003.5 1027.6V1020.6M1004.5 1026.7V1024.1M1005.5 1026.4V1024.5M1006.5 1026.3V1022.8M1007.5 1026.3V1019.8M1008.5 1026.4V1017.3M1009.5 1026.5V1016.6M1010.5 1027.3V1017.2M1011.5 1028V1018.7M1012.5 1027.1V1020.6M1013.5 1026.4V1022.1M1014.5 1026.3V1022.1M1015.5 1026.7V1022.4M1016.5 1028.2V1023.8M1017.5 1028.7V1024.9M1018.5 1029.1V1024.2M1019.5 1030.1V1021.5M1020.5 1030.6V1018.2M1021.5 1029.7V1017.1M1022.5 1027V1017M1023.5 1026.4V1017.1M1024.5 1026.4V1017.4M1025.5 1026.4V1017.7M1026.5 1026.8V1017.8M1027.5 1028.2V1017.7M1028.5 1028.4V1017.7M1029.5 1027.8V1017.8M1030.5 1027V1018.2M1031.5 1026.5V1019.9M1032.5 1026.4V1021.8M1033.5 1026.4V1022.8M1034.5 1026.5V1023.3M1035.5 1026.5V1022.8M1036.5 1026.6V1021.4M1037.5 1026.8V1020.2M1038.5 1026.9V1020.1M1039.5 1026.6V1020.7M1040.5 1026.6V1021M1041.5 1026.8V1020.8M1042.5 1028.1V1020.7M1043.5 1028.4V1020.9M1044.5 1027.6V1021.9M1045.5 1027.2V1023.2M1046.5 1027.4V1024M1047.5 1027V1024.3M1048.5 1026.6V1023.3M1049.5 1026.6V1020.8M1050.5 1026.6V1018.8M1051.5 1026.7V1018.6M1052.5 1028.1V1021.4M1053.5 1030.5V1027.4M1054.5 1030.9V1028M1055.5 1030V1023.8M1056.5 1028.1V1019.6M1057.5 1028V1018.4M1058.5 1029.1V1019.8M1059.5 1029V1022.4M1060.5 1028.1V1022.7M1061.5 1027.8V1020.6M1062.5 1027.6V1018.8M1063.5 1026.9V1018.7M1064.5 1026.7V1020.1M1065.5 1026.7V1022.2M1066.5 1027.2V1022.6M1067.5 1028.8V1020.4M1068.5 1029.8V1017.8M1069.5 1030.3V1017.5M1070.5 1029.8V1019.5M1071.5 1029.3V1021M1072.5 1030.8V1020.4M1073.5 1031.5V1019M1074.5 1031.6V1018.4M1075.5 1031V1018.7M1076.5 1028.7V1018.4M1077.5 1027.3V1017.4M1078.5 1027.9V1016.7M1079.5 1030.8V1016.8M1080.5 1031.3V1017.1M1081.5 1030.7V1017.1M1082.5 1029.1V1017.6M1083.5 1029.8V1019.2M1084.5 1031.4V1021.4M1085.5 1031.7V1022M1086.5 1031.4V1020.1M1087.5 1030.5V1017.1M1088.5 1030.9V1015.8M1089.5 1031.7V1015.6M1090.5 1031.8V1015.5M1091.5 1031.6V1015.5M1092.5 1029.6V1015.6M1093.5 1027.3V1015.7M1094.5 1027V1016M1095.5 1027V1016.4M1096.5 1027V1017.2M1097.5 1027.2V1018.5M1098.5 1028.3V1020.9M1099.5 1030.4V1025M1100.5 1031.5V1026.6M1101.5 1031.5V1024.9M1102.5 1030V1021.9M1103.5 1027.4V1018.9M1104.5 1027V1018.2M1105.5 1027.5V1018.7M1106.5 1028V1019.9M1107.5 1027.4V1020.7M1108.5 1027.1V1019.7M1109.5 1028V1018M1110.5 1030.2V1017.6M1111.5 1031V1018.7M1112.5 1030.8V1020.4M1113.5 1030.6V1021.7M1114.5 1030.3V1022.3M1115.5 1028.2V1023.1M1116.5 1026.9V1024.4M1117.5 1027.2V1025M1118.5 1028.7V1024.8M1119.5 1029.7V1023M1120.5 1028.9V1019.7M1121.5 1028.5V1016.9M1122.5 1029.8V1014.6M1123.5 1029.5V1011.3M1124.5 1027.5V1010.8M1125.5 1026.6V1012.9M1126.5 1027.1V1016.1M1127.5 1029.4V1020.2M1128.5 1030.9V1022.5M1129.5 1031.1V1022.4M1130.5 1031V1022.2M1131.5 1030.8V1022.8M1132.5 1030.3V1024.6M1133.5 1029.3V1027.5M1134.5 1028.1V1029.7M1135.5 1027.6V1030.9M1136.5 1027.2V1029.4M1137.5 1026.2V1025.3M1138.5 1026V1021.4M1139.5 1025.9V1019.9M1140.5 1025.8V1019.7M1141.5 1025.9V1019.9M1142.5 1026.5V1020.9M1143.5 1027.1V1024M1144.5 1027.3V1026.3M1145.5 1028.1V1025.9M1146.5 1028.2V1021.9M1147.5 1026.5V1018.8M1148.5 1025.7V1017.9M1149.5 1025.6V1017.7M1150.5 1025.7V1017.5M1151.5 1025.9V1017.8M1152.5 1025.7V1019.5M1153.5 1025.5V1022.6M1154.5 1025.4V1024.2M1155.5 1025.4V1023.9M1156.5 1025.4V1022.1M1157.5 1025.5V1019.6M1158.5 1025.3V1018M1159.5 1025.3V1017.5M1160.5 1025.3V1017.4M1161.5 1026V1017.5M1162.5 1027.2V1017.6M1163.5 1027.1V1017.6M1164.5 1026V1017.8M1165.5 1025.4V1017.8M1166.5 1025.3V1017.8M1167.5 1025.3V1018.1M1168.5 1025.7V1018.5M1169.5 1026.9V1018.2M1170.5 1027.4V1017.6M1171.5 1025.9V1017.4M1172.5 1025.3V1018.3M1173.5 1025.7V1021.4M1174.5 1027.7V1024.8M1175.5 1029.4V1026.2M1176.5 1029.7V1026.2M1177.5 1029.4V1025.5M1178.5 1028.1V1025.2M1179.5 1026.4V1026.5M1180.5 1025.8V1027.6M1181.5 1027.1V1027.8M1182.5 1029.4V1027.3M1183.5 1029.9V1026.2M1184.5 1029.5V1023.8M1185.5 1027V1021.3M1186.5 1025.6V1019.8M1187.5 1025.2V1018.8M1188.5 1025.1V1018.2M1189.5 1025.1V1017.9M1190.5 1026.1V1017.5M1191.5 1028.1V1016.9M1192.5 1028.8V1016.4M1193.5 1028.6V1017.2M1194.5 1027.4V1019.5M1195.5 1026.1V1020.9M1196.5 1025.4V1020.5M1197.5 1025.3V1018.1M1198.5 1025.3V1014.9M1199.5 1025.3V1012.9M1200.5 1025.1V1013M1201.5 1025.1V1013.7M1202.5 1025.1V1015.3M1203.5 1025.2V1017.4M1204.5 1025.4V1019.4M1205.5 1025.7V1020.6M1206.5 1027V1021.1M1207.5 1029.2V1022.1M1208.5 1029.8V1022.7M1209.5 1029.9V1021.6M1210.5 1029.6V1019.2M1211.5 1028.2V1018M1212.5 1026V1017.7M1213.5 1025.4V1019M1214.5 1026.2V1021.7M1215.5 1028.3V1022.7M1216.5 1028.6V1020.1M1217.5 1027.7V1016.9M1218.5 1027.9V1015.3M1219.5 1028.8V1015.6M1220.5 1029.2V1017.8M1221.5 1029V1021.8M1222.5 1028.4V1024.9M1223.5 1028.6V1026.3M1224.5 1028.9V1025.9M1225.5 1028.3V1023.5M1226.5 1027.3V1020.4M1227.5 1025.8V1019.4M1228.5 1025.4V1018.6M1229.5 1026.5V1017.2M1230.5 1029V1016.8M1231.5 1029.3V1018.2M1232.5 1028.1V1023.2M1233.5 1026.3V1027.6M1234.5 1026.1V1026.7M1235.5 1026.8V1022.6M1236.5 1028V1018.4M1237.5 1028.9V1017.5M1238.5 1028.6V1019.3M1239.5 1028.1V1021.1M1240.5 1028.5V1021.5M1241.5 1028.6V1021.5M1242.5 1028.1V1022.2M1243.5 1028.1V1023M1244.5 1027.9V1022.5M1245.5 1027V1021M1246.5 1026.9V1020M1247.5 1028.3V1019.9M1248.5 1028.9V1020.5M1249.5 1028.4V1021.9M1250.5 1027.8V1023.3M1251.5 1027V1024.4M1252.5 1026.1V1024.3M1253.5 1025.7V1022.7M1254.5 1025.6V1020.3M1255.5 1025.5V1019.7M1256.5 1025.4V1020.9M1257.5 1025.4V1022.6M1258.5 1026V1023.1M1259.5 1027.7V1021.3M1260.5 1027.9V1018.2M1261.5 1026.7V1015.2M1262.5 1025.7V1014.1M1263.5 1025.5V1013.7M1264.5 1025.6V1013.5M1265.5 1026.1V1013.6M1266.5 1025.7V1014.1M1267.5 1025.5V1014.9M1268.5 1025.8V1016M1269.5 1025.9V1018.4M1270.5 1025.4V1022.3M1271.5 1025.4V1025.8M1272.5 1025.5V1027.4M1273.5 1026.7V1027M1274.5 1027.6V1025.4M1275.5 1027.9V1022.8M1276.5 1028.2V1021.2M1277.5 1026.9V1020.9M1278.5 1026.3V1021.6M1279.5 1027.3V1023.4M1280.5 1028.8V1024M1281.5 1028.1V1022.6M1282.5 1026.1V1018.4M1283.5 1025.5V1014.2M1284.5 1025.5V1012.2M1285.5 1025.6V1011.5M1286.5 1025.6V1011.8M1287.5 1025.7V1013.4M1288.5 1026.4V1016M1289.5 1029V1016.9M1290.5 1029.7V1014.1M1291.5 1028.4V1009.9M1292.5 1026.5V1009M1293.5 1026.3V1014.3M1294.5 1027.1V1021.2M1295.5 1029.5V1024M1296.5 1030.3V1025M1297.5 1030.3V1025M1298.5 1029.9V1024.6M1299.5 1026.9V1024.5M1300.5 1025.5V1023.5M1301.5 1025.5V1021.4M1302.5 1025.5V1018.8M1303.5 1025.5V1018.2M1304.5 1025.7V1018.7M1305.5 1027.7V1020.2M1306.5 1030.1V1022M1307.5 1030V1022.5M1308.5 1028.3V1021M1309.5 1027.7V1018.8M1310.5 1028.4V1017.9M1311.5 1027.9V1017.7M1312.5 1028V1016.5M1313.5 1028.5V1013.8M1314.5 1027.9V1012.2M1315.5 1027.1V1014.1M1316.5 1027.8V1018.3M1317.5 1028.6V1020.5M1318.5 1027.6V1021.3M1319.5 1025.7V1021.8M1320.5 1025.5V1020.3M1321.5 1026V1016.6M1322.5 1028.5V1014.2M1323.5 1028.8V1013.2M1324.5 1027.2V1013.4M1325.5 1026.3V1013.8M1326.5 1025.9V1014.1M1327.5 1025.7V1014.7M1328.5 1025.7V1014.6M1329.5 1025.6V1014M1330.5 1025.6V1013.7M1331.5 1025.6V1014.8M1332.5 1025.7V1018.2M1333.5 1026.3V1021.7M1334.5 1026.2V1021M1335.5 1026V1016.9M1336.5 1026.1V1013.9M1337.5 1026.2V1013M1338.5 1026.1V1015.3M1339.5 1027.3V1018.5M1340.5 1029.7V1019.9M1341.5 1029.6V1019.2M1342.5 1026.8V1018.7M1343.5 1025.9V1019.4M1344.5 1026.6V1020.4M1345.5 1027.7V1020.9M1346.5 1027.2V1020.6M1347.5 1026.3V1020.2M1348.5 1025.7V1019.5M1349.5 1025.6V1019.1M1350.5 1025.6V1020M1351.5 1026V1022.6M1352.5 1026.7V1024.6M1353.5 1025.8V1025M1354.5 1025.6V1022.9M1355.5 1025.8V1019.8M1356.5 1027.9V1017.3M1357.5 1029.7V1015M1358.5 1029.6V1013.1M1359.5 1028V1013.1M1360.5 1026.2V1013.9M1361.5 1026.8V1014.1M1362.5 1029.5V1013.5M1363.5 1029.4V1016M1364.5 1026.5V1019.3M1365.5 1025.7V1021M1366.5 1025.7V1020.1M1367.5 1025.7V1019.3M1368.5 1025.7V1020.1M1369.5 1025.7V1020.9M1370.5 1025.9V1020.6M1371.5 1027.8V1020.5M1372.5 1027.8V1021.2M1373.5 1027V1021.8M1374.5 1026.4V1021.2M1375.5 1026.1V1020.2M1376.5 1026.5V1019.7M1377.5 1027.3V1019.9M1378.5 1026.8V1020.8M1379.5 1026.1V1021.6M1380.5 1026.3V1021.3M1381.5 1028.8V1020.8M1382.5 1030.3V1020.6M1383.5 1030.2V1020.6M1384.5 1029.5V1020.5M1385.5 1028.5V1020.6M1386.5 1027.9V1021M1387.5 1028.1V1022.7M1388.5 1028.3V1025.9M1389.5 1028.6V1028.3M1390.5 1030.2V1030M1391.5 1030.7V1030.3M1392.5 1030.8V1028.8M1393.5 1030.5V1026.1M1394.5 1028.9V1023.4M1395.5 1027.6V1022.7M1396.5 1028V1023.7M1397.5 1028.4V1025.8M1398.5 1028.3V1027.2M1399.5 1027.6V1026.7M1400.5 1027.2V1023.6M1401.5 1027.3V1021M1402.5 1027.4V1020.1M1403.5 1026.9V1019.9M1404.5 1026.7V1019.7M1405.5 1026.9V1019.8M1406.5 1027.6V1020.9M1407.5 1028V1023.9M1408.5 1027.3V1025.6M1409.5 1026.7V1024.4M1410.5 1027V1021.6M1411.5 1027.7V1019.8M1412.5 1027.7V1019M1413.5 1026.9V1018.4M1414.5 1026.4V1018M1415.5 1026.5V1017.9M1416.5 1026.2V1018.4M1417.5 1026V1019.2M1418.5 1025.9V1020.6M1419.5 1026.3V1021.6M1420.5 1027V1020.9M1421.5 1026.9V1019.4M1422.5 1027.3V1016.3M1423.5 1028.6V1012.5M1424.5 1029.4V1009.1M1425.5 1027.8V1005.8M1426.5 1026.1V1001.4M1427.5 1025.9V999.7M1428.5 1025.9V1001.4M1429.5 1026.1V1005.4M1430.5 1027.6V1012M1431.5 1028.6V1019.3M1432.5 1027.7V1021.5M1433.5 1026.9V1020.5M1434.5 1026.7V1017.6M1435.5 1027V1015.3M1436.5 1028.4V1015M1437.5 1029.7V1015.2M1438.5 1029.5V1014.7M1439.5 1028.1V1014.4M1440.5 1026.8V1016.3M1441.5 1027V1020.9M1442.5 1029.8V1023.2M1443.5 1030.8V1021M1444.5 1030.9V1014.8M1445.5 1030.8V1013.2M1446.5 1030.3V1013.3M1447.5 1028.2V1015.3M1448.5 1026.3V1019.7M1449.5 1026.1V1022.1M1450.5 1026.2V1022.3M1451.5 1027.9V1022.1M1452.5 1030.1V1022M1453.5 1030.2V1020.7M1454.5 1028.8V1017.3M1455.5 1026.9V1014.7M1456.5 1026.8V1014.5M1457.5 1028.6V1016M1458.5 1030.1V1020.2M1459.5 1029.4V1023.3M1460.5 1027.1V1023.7M1461.5 1026.5V1021.8" stroke="#1f77b4" stroke-width="6.0" stroke-linecap="round" fill="none"/>
<path d="M123.8 985.7h0M123.9 989.9h0M124.3 1000.5h0M145.5 921.8h0M146 933.7h0M145.8 945h0M146.5 952.9h0M146.1 963.4h0M145.8 975.3h0M146.2 987.9h0M156.5 979.7h0M156.2 990.6h0M180.1 903.8h0M179.9 916.6h0M179.7 923.2h0M179.7 936.3h0M179.8 941.6h0M196.2 911.8h0M195.9 916.8h0M220.7 929.8h0M221.2 936.4h0M220.3 944h0M220.9 952.9h0M220.9 964.1h0M220.7 975.2h0M235.4 939.8h0M235.4 951.8h0M235.4 958.3h0M235.7 970.2h0M248.5 791.9h0M249 805.6h0M248.7 814.9h0M248.7 822.6h0M248.8 830.3h0M248.9 836.3h0M249.1 849h0M248.6 855.8h0M249.7 862.9h0M249.5 876.2h0M249.6 888.5h0M249.6 892.6h0M248.7 905.2h0M256.1 851.8h0M256.3 858h0M256 862.6h0M256 870.9h0M255.9 883.8h0M255.5 895.5h0M255.8 909h0M255.5 913.9h0M255.3 927h0M267.4 907.8h0M267.6 915.1h0M267.4 920.1h0M267.4 926.9h0M267.4 931.3h0M267.5 941h0M281.5 749.9h0M281.5 757.6h0M280.5 770.7h0M280.8 781.6h0M281.6 794.8h0M280.9 805.5h0M281.3 817.3h0M280.9 823.1h0M281 827.9h0M280.9 834.3h0M281.4 842.7h0M280.8 854.9h0M281.2 860.9h0M281 871.3h0M280.8 883.4h0M281.2 896.5h0M280.8 908h0M281.3 912.7h0M301.8 749.9h0M301.8 761.6h0M301.6 773.5h0M301.7 782.6h0M301.9 788.5h0M302 797.5h0M301.6 807h0M301.9 813.3h0M301.5 822.4h0M301.3 830.5h0M301.4 835.4h0M302.1 841.4h0M302.2 852.4h0M302.1 861.1h0M301.5 871.2h0M302.4 878.1h0M301.3 882.4h0M317.9 725.9h0M317.8 736.2h0M317.7 747.4h0M318.1 756.2h0M317.5 769.3h0M317.7 777.4h0M318.3 782h0M317.7 793.3h0M317.5 800.1h0M317.6 808.4h0M317.9 817.6h0M318.2 827.2h0M317.4 838.8h0M318 843.9h0M317.3 852.7h0M317.5 859.7h0M317.5 869.1h0M318.3 882.5h0M334.1 835.8h0M333.6 848.8h0M333.5 862.4h0M333.4 868.1h0M334 875.5h0M333.4 887.4h0M351.4 789.9h0M352.4 802.8h0M351.4 814.5h0M351.7 819.9h0M352.1 830.4h0M351.5 841.1h0M352.2 853.6h0M351.7 861.3h0M351.6 866.3h0M351.8 872.4h0M358.3 811.8h0M357.6 819.9h0M357.4 832.4h0M358.1 838.8h0M357.9 849.4h0M357.4 856.6h0M358 861.3h0M357.9 871.6h0M358.3 881.4h0M357.7 895.2h0M367.5 913.8h0M368.4 919.7h0M386.7 823.8h0M387.2 830h0M387.3 838.8h0M386.8 852.6h0M386.7 865.8h0M387.6 872.2h0M387.3 883.4h0M387 896.5h0M386.7 905.3h0M387.1 914.5h0M386.8 924.6h0M386.8 930.2h0M386.5 935h0M386.4 940.2h0M401.3 899.8h0M402.3 906.4h0M401.9 912.6h0M401.7 925.1h0M402 936.3h0M402.3 942h0M401.4 952.7h0M415.4 841.8h0M415.1 854.8h0M414.6 866.3h0M414.5 879.1h0M414.8 888.3h0M415.6 898.5h0M421.9 851.8h0M422.5 863.3h0M422.6 867.5h0M422.2 876.7h0M422.2 883.1h0M421.6 891.4h0M448.3 763.9h0M448.2 770.4h0M448 779.4h0M447.3 783.7h0M447.9 788.4h0M447.3 795.9h0M447.6 807.9h0M447.9 817.6h0M447.7 827.3h0M447.4 831.5h0M448 842.8h0M447.2 856.5h0M447.3 862.7h0M448 874.9h0M447.5 887.3h0M447.2 900.1h0M447.5 905.2h0M447.9 916.3h0M466.5 839.8h0M466.9 851.7h0M466.4 856.7h0M466.5 862.1h0M466.6 874.7h0M477.7 799.9h0M477.3 810.5h0M477.4 816.6h0M477.7 821.7h0M477.4 827.6h0M478 834.8h0M477.4 848.3h0M477.8 861.8h0M477.4 866.3h0M477.3 878.7h0M477.5 885.8h0M478 891.4h0M505.4 815.8h0M506 829.1h0M506.3 841.8h0M505.6 849.6h0M505.2 859.6h0M506.2 872h0M505.8 883.8h0M530 727.9h0M529.9 740.7h0M529.7 748.9h0M529.3 760.4h0M530.2 773.3h0M529.8 786.3h0M530.2 790.4h0M529.1 796.5h0M530.2 805.2h0M529.4 815.4h0M529.8 820.6h0M529.3 828.1h0M536.1 693.9h0M535.6 704h0M535.6 709.6h0M536 714.4h0M535.5 725.5h0M535.7 734.1h0M536.3 741.5h0M536.2 749h0M535.6 762.6h0M536 767.4h0M535.7 776.2h0M535.2 789.7h0M535.6 802.8h0M541.4 695.9h0M541.7 702.6h0M541.9 716h0M542.2 725.3h0M541.3 734.2h0M542.3 741.5h0M541.7 753.2h0M541.3 766.6h0M542.2 779.7h0M541.6 786.9h0M541.2 793.2h0M542.2 799.5h0M541.5 804.6h0M541.3 812.7h0M541.5 818.8h0M542.1 828.6h0M541.6 834.7h0M547.5 783.9h0M548.2 794.9h0M547.5 801.3h0M547.1 805.7h0M562.2 747.9h0M563.1 754.6h0M562.6 762.9h0M562.9 770.4h0M562.2 776.4h0M563 785.7h0M562.9 793.5h0M562.7 801.9h0M562.9 807.4h0M562.5 818.3h0M562.2 831.2h0M562.9 838.4h0M563.1 851.7h0M562.8 860.9h0M562.2 870.7h0M571.5 809.8h0M571.3 822.2h0M571.1 828.4h0M571.1 835.4h0M571.8 844.3h0M572.1 857.6h0M571.9 870.6h0M571.6 883h0M571.5 894.1h0M571.6 904.7h0M571.8 914.4h0M578 791.9h0M578.8 796.7h0M578.4 800.8h0M578.1 806.6h0M578 814.8h0M578.7 819.6h0M578.9 832.7h0M593.5 741.9h0M593.2 753.9h0M593.6 760.3h0M593.8 769.9h0M594.1 783.5h0M594.2 788.5h0M594.1 796.6h0M594.2 801.4h0M593.9 809.6h0M593.5 820.2h0M593.2 827.3h0M594 832.7h0M593.9 842.8h0M607.1 743.9h0M608 749.3h0M607.6 761.9h0M608.1 774.6h0M608 787.9h0M608 801.2h0M607.3 807.2h0M607.8 816.4h0M608.3 821.2h0M608.1 827.4h0M607.1 832.6h0M608.3 839.9h0M611.1 636h0M612.2 644.9h0M611.6 655.9h0M611.9 661.3h0M612.3 670.4h0M611.3 680.3h0M612.2 692.4h0M611.7 704.9h0M611.6 718.4h0M611.3 725.3h0M612.2 730.5h0M612.2 742.5h0M611.5 753h0M611.5 762.1h0M611.5 767.2h0M612 771.9h0M611.5 777.1h0M611.9 786.2h0M612 793.2h0M612.2 799.3h0M611.2 813h0M611.4 822.8h0M611.5 829.2h0M612.2 840.2h0M621.6 753.9h0M621.9 761.4h0M621.9 774.5h0M621.1 787.7h0M621.1 793.8h0M621.4 806.5h0M621.6 816.8h0M621.5 826.3h0M621.7 831.8h0M629.4 779.9h0M629.5 784.2h0M630.2 791.9h0M629.8 805.2h0M630.1 814.8h0M630.1 828.5h0M629.7 840.9h0M629.5 852.1h0M629.7 859.9h0M629.3 870.4h0M629.5 877.4h0M629.1 887.7h0M630.1 895.9h0M629.9 903.9h0M630.1 911.7h0M629.8 918.7h0M629.3 925.3h0M629.8 935.4h0M647.3 977.7h0M648 983.5h0M647.4 987.7h0M647.2 994.9h0M647.8 1000.1h0M648.2 1007.6h0M685.4 775.9h0M685.6 783.5h0M685.7 795.9h0M685.9 800.9h0M685.2 807.2h0M690.7 596h0M691.3 604.4h0M690.6 608.9h0M690.3 615.1h0M691 626.5h0M690.5 634.2h0M690.4 643.1h0M690.3 654.8h0M690.8 665.3h0M690.4 671.9h0M691 680.2h0M691.1 688.4h0M690.7 693.1h0M690.3 704.1h0M691 711.1h0M691 721.4h0M690.8 728.5h0M690.5 734.7h0M691.4 740.4h0M691.2 744.5h0M690.6 751.5h0M690.7 763.2h0M690.7 771h0M690.7 777.1h0M699 811.8h0M699.1 818.2h0M700 823.1h0M700.2 833h0M717.6 900h0M718.2 905.9h0M717.7 914h0M717.7 921.8h0M717.9 935h0M717.6 940h0M728.4 923.9h0M728.1 936.4h0M727.5 943.6h0M728.3 947.8h0M737.8 933.9h0M738 941.6h0M737.4 949.8h0M747 921.9h0M746.8 927.7h0M747.1 941.2h0M756.7 906h0M757.4 913.1h0M757.1 926.2h0M757.1 936.5h0M756.5 944.3h0M756.8 952.7h0M773.9 939.9h0M773.5 944.4h0M782 937.9h0M788.9 935.9h0M789.5 942.9h0M789.4 951.4h0M789.9 964.1h0M811.3 948.9h0M811.3 959.3h0" stroke="#1f77b4" stroke-width="6.0" stroke-linecap="round" fill="none"/>
<path d="M116 1018.9 117 1019.7 118 1022.9 119 1025.7 120 1021.3 121 1014.7 122 1011.1 123 1015.5 124 1019.2 125 1018.9 126 1013.8 127 1011.3 128 1009.9 129 1015 130 1018.4 131 1022.3 132 1020.3 133 1017.5 134 1013.5 135 1008 136 1004.6 137 1008.3 138 1011.4 139 1014.2 140 1016.1 141 1019.5 142 1022.1 143 1015.6 144 1008.7 145 1003.6 146 999 147 1002.7 148 1005.6 149 1008.4 150 1013.7 151 1013.9 152 1011.5 153 1007.9 154 1006.5 155 1013 156 1016.4 157 1018.3 158 1013.2 159 1008.3 160 1003.7 161 1009.6 162 1017.8 163 1013.1 164 1004.5 165 1007.5 166 1012.5 167 1017.9 168 1009.9 169 1002.6 170 993.8 171 1002.4 172 1011.2 173 1019.9 174 1005.5 175 991 176 988.1 177 987.6 178 990.5 179 983.2 180 973.3 181 982.7 182 992.2 183 999 184 991 185 985.3 186 993.6 187 1001.5 188 1008.4 189 1003.9 190 999.5 191 996 192 991.5 193 983.7 194 975.1 195 967.8 196 963.3 197 981 198 996.7 199 1012 200 1009.5 201 1007.1 202 1003.9 203 1006.6 204 1008.7 205 1003.9 206 1000.8 207 998.6 208 1002.5 209 1004.7 210 1006.4 211 1004.7 212 1002.9 213 1000.1 214 1003.7 215 1008.7 216 1013 217 1004.6 218 995.8 219 988.9 220 982.8 221 990.3 222 997.6 223 1006.5 224 1008.7 225 1008.6 226 1007.7 227 1007.7 228 1008.9 229 1011.1 230 1015 231 1009.4 232 1002.3 233 993.1 234 985.6 235 992.5 236 998.5 237 1003.5 238 1000.7 239 998.2 240 995.7 241 998.1 242 1001.1 243 1005.1 244 1003.9 245 1002.2 246 1001.2 247 997.9 248 948.3 249 903.9 250 937.4 251 970.4 252 1000.4 253 991.8 254 983.5 255 975.5 256 982.1 257 989.8 258 996.9 259 984.1 260 970.3 261 976 262 982.8 263 989.2 264 990.6 265 992.3 266 984 267 973.1 268 965.8 269 974 270 982.3 271 987.2 272 990.3 273 986.5 274 985.1 275 993.7 276 1000.1 277 1003.4 278 964.8 279 927.3 280 897.1 281 931.7 282 962.7 283 949.6 284 939.3 285 966.6 286 993.3 287 1018 288 1016.8 289 1014.2 290 1007.9 291 998.2 292 990.6 293 1003.5 294 1014.8 295 988 296 959.6 297 938.2 298 951.1 299 960.9 300 966.1 301 949.4 302 934.2 303 923.1 304 944.5 305 965.9 306 981.8 307 960 308 940.1 309 925.1 310 952.8 311 982.2 312 1004.3 313 982.5 314 963.1 315 944.7 316 924.3 317 904.8 318 894.2 319 940.7 320 978.8 321 958.9 322 938.4 323 922.4 324 952.8 325 985.4 326 1012 327 995.2 328 977.4 329 958.6 330 940 331 922.3 332 904.7 333 892.4 334 912.8 335 933.6 336 952.2 337 965.8 338 980.8 339 993.7 340 984.3 341 974.6 342 967.4 343 976 344 985.4 345 992.2 346 969.9 347 947.9 348 930.8 349 951.5 350 972.7 351 986.4 352 942.6 353 910.3 354 948 355 974.6 356 933.5 357 899.2 358 915.6 359 934.1 360 950.9 361 965.9 362 980.9 363 993.4 364 984.4 365 974 366 965.6 367 962.9 368 978.8 369 992.6 370 1002.9 371 995.3 372 988.9 373 985.6 374 991.6 375 997.7 376 1004.1 377 1006 378 986.7 379 967.9 380 956.7 381 975.2 382 993.4 383 1003.8 384 985.7 385 968.5 386 952.2 387 942 388 966.3 389 990.3 390 1006.8 391 992.3 392 978.2 393 967.5 394 973.3 395 979.1 396 986.8 397 995.3 398 997.9 399 986.4 400 978.3 401 968.9 402 956.4 403 948.7 404 961.7 405 973.5 406 982.7 407 990.1 408 998.2 409 981.3 410 964 411 946.9 412 931.1 413 924.4 414 918.3 415 911.8 416 943.1 417 974.1 418 1006.4 419 987.4 420 969 421 950.5 422 931.5 423 950 424 969.7 425 988.3 426 943 427 960 428 978.8 429 994.7 430 994.4 431 994.3 432 995.8 433 1000.3 434 1004 435 1007.1 436 1008.7 437 1008.6 438 996.6 439 986.9 440 977.1 441 948.3 442 918.4 443 904.9 444 892.5 445 882.3 446 939.9 447 992.8 448 955.5 449 921.4 450 970 451 1016.7 452 974.1 453 931.5 454 947.9 455 965.8 456 985.3 457 977.5 458 965.3 459 954.6 460 948 461 968.6 462 987.4 463 978.8 464 970.5 465 959.6 466 947.3 467 938 468 948.4 469 959.2 470 968.8 471 967.6 472 967.4 473 963 474 946.4 475 932.9 476 920.4 477 907.2 478 931.9 479 956.5 480 977.8 481 962.7 482 949.1 483 938.3 484 962.1 485 981.6 486 964.7 487 951.6 488 966.9 489 979 490 970.7 491 962.1 492 953.2 493 960.3 494 969.2 495 976.3 496 969.3 497 963.4 498 970.4 499 977.4 500 965.1 501 951.9 502 941.1 503 950.4 504 959.3 505 965.6 506 951.3 507 937.8 508 926.5 509 949.6 510 973 511 993.2 512 996.2 513 998.4 514 973 515 949.2 516 954.9 517 960.1 518 965.4 519 974 520 982.3 521 987.2 522 961.6 523 937 524 915.5 525 927.7 526 940.6 527 949.6 528 917.7 529 887.9 530 897.9 531 910.6 532 922.7 533 939.6 534 951.5 535 904.5 536 865.3 537 917.3 538 962.5 539 925.3 540 889.5 541 867.6 542 850.8 543 921.7 544 987.2 545 969.6 546 951.6 547 935 548 945 549 955.6 550 969.7 551 982 552 958.7 553 933.6 554 914.3 555 926.5 556 937.3 557 948.8 558 956.3 559 937.7 560 921.2 561 905.5 562 887.4 563 872.7 564 910.7 565 949.9 566 983.3 567 944 568 909.6 569 930.1 570 949.9 571 938.3 572 926.9 573 942.4 574 955 575 938 576 923.6 577 918 578 912.1 579 905.8 580 906 581 905.4 582 906.1 583 918.5 584 931 585 944.3 586 952.5 587 959 588 966.8 589 973.5 590 959.7 591 944.9 592 929 593 914.7 594 910.2 595 905 596 897 597 890.9 598 902.3 599 916.3 600 932.5 601 945.2 602 937.1 603 927.2 604 916.8 605 907 606 898.6 607 893.3 608 904.2 609 908.5 610 877.3 611 856.3 612 900.8 613 945.9 614 963.6 615 955.8 616 946.7 617 936.9 618 925.3 619 913.1 620 904 621 902 622 926.6 623 947.9 624 966.5 625 971.9 626 978 627 978.7 628 943.1 629 915.9 630 953.7 631 992.8 632 1012.7 633 1014.8 634 1016.1 635 1016.2 636 1017.2 637 1019.2 638 1020.3 639 1019.3 640 1018.3 641 1020.1 642 1021.6 643 1018.9 644 1017.3 645 1016.7 646 1015 647 1014.9 648 1016.1 649 1015.6 650 1013.8 651 1014.4 652 1014.6 653 1015 654 1016.7 655 1017.2 656 1016.9 657 1017.7 658 1019.9 659 1022 660 1023.7 661 1024.5 662 1022.8 663 1021 664 1021.3 665 1021.8 666 1020.6 667 1019.9 668 1023.4 669 1026.8 670 1026.4 671 1026.1 672 1028.3 673 1027.6 674 1013.6 675 997.5 676 983.5 677 990.4 678 1000.5 679 1000.2 680 947.1 681 902 682 896 683 889.7 684 891.6 685 935 686 965.9 687 935.3 688 904.9 689 875.3 690 856.7 691 840.6 692 839.1 693 902.2 694 953.3 695 944.5 696 934.2 697 924.4 698 918.9 699 912.5 700 906.8 701 906.4 702 907.4 703 910 704 940.2 705 967.9 706 993.9 707 975.2 708 957.4 709 939.1 710 942.1 711 946.3 712 950.5 713 964.6 714 977.8 715 989.9 716 981.6 717 974.5 718 967.5 719 973.4 720 978.5 721 981.3 722 984.8 723 990.1 724 996.5 725 988.5 726 981.5 727 973 728 961.9 729 972.2 730 984 731 995.6 732 989.1 733 983.7 734 976.6 735 980.1 736 985.2 737 991.3 738 995.9 739 997.9 740 1000.3 741 1001.8 742 988.1 743 975 744 961.5 745 960 746 958.8 747 957.9 748 970.9 749 982.9 750 995.3 751 1002 752 1008.5 753 1013.4 754 1001.3 755 987.7 756 977.3 757 968.2 758 961.7 759 978.5 760 993.9 761 1007.4 762 1001 763 995 764 989.5 765 993.2 766 997.3 767 1001.2 768 1006 769 999.3 770 990.2 771 980.5 772 976.3 773 973.8 774 972.8 775 976.5 776 982.7 777 989.7 778 996.4 779 992.2 780 987.5 781 982.6 782 978.3 783 984.4 784 989.7 785 994.7 786 1001.4 787 995.3 788 987.8 789 979.9 790 982 791 989.1 792 994.9 793 1001.2 794 1005.1 795 1009.6 796 1011.3 797 1010.9 798 1007.2 799 1005.7 800 1003.6 801 999.9 802 997.8 803 1002.2 804 1006.6 805 1011.1 806 1013.2 807 999.1 808 987 809 1000.9 810 1013.6 811 1001.8 812 991.5 813 1001.4 814 1010.9 815 1019.8 816 1019.5 817 1019.1 818 1018.4 819 1017.9 820 1017.8 821 1017.6 822 1016.5 823 1016.1 824 1018.6 825 1020.7 826 1021.8 827 1020.3 828 1019.7 829 1019.7 830 1019.1 831 1018.1 832 1017.8 833 1020.2 834 1020.4 835 1019.8 836 1020.7 837 1020.8 838 1021 839 1020.9 840 1020.8 841 1020.6 842 1020.9 843 1023 844 1025.1 845 1026.5 846 1027.6 847 1023.9 848 1018.9 849 1014 850 1011 851 1014.6 852 1017 853 1017.4 854 1018.2 855 1018.5 856 1018.1 857 1015.9 858 1014.6 859 1015.8 860 1015.9 861 1015.8 862 1016.5 863 1014.2 864 1011.5 865 1009.1 866 1012.9 867 1016 868 1018 869 1018.5 870 1020.5 871 1022.1 872 1023.1 873 1023.5 874 1021.8 875 1020.2 876 1019.9 877 1019.5 878 1019.5 879 1019.3 880 1018.3 881 1017.6 882 1017.3 883 1015.4 884 1014 885 1014 886 1013 887 1013.3 888 1015 889 1018.7 890 1022.2 891 1021.8 892 1020.2 893 1018.1 894 1017.5 895 1016.9 896 1015.3 897 1014.4 898 1013.7 899 1014.9 900 1016.6 901 1019 902 1020.7 903 1019.2 904 1017.5 905 1015.2 906 1013.3 907 1012.4 908 1017.1 909 1021.4 910 1024.4 911 1022.6 912 1019.6 913 1016.4 914 1015.5 915 1018.2 916 1020.3 917 1022.5 918 1023.6 919 1018.2 920 1013.6 921 1015.8 922 1018.6 923 1021.1 924 1022.2 925 1021.5 926 1021.3 927 1020.9 928 1021.1 929 1020.9 930 1020.1 931 1018.9 932 1018.6 933 1018.3 934 1017.5 935 1017.6 936 1017.2 937 1015.5 938 1013.7 939 1014.1 940 1015.8 941 1016.2 942 1015.3 943 1013.8 944 1012.1 945 1009.9 946 1008.4 947 1006.2 948 1004.7 949 1005 950 1010 951 1014.7 952 1020.6 953 1021 954 1019.6 955 1016.5 956 1014.1 957 1016.3 958 1018.7 959 1020.3 960 1021.5 961 1022 962 1021.9 963 1020.3 964 1019.4 965 1019.1 966 1018.7 967 1019 968 1019.9 969 1020.1 970 1019.2 971 1019.1 972 1019.1 973 1018.5 974 1018.6 975 1018.7 976 1018.7 977 1018.3 978 1016.6 979 1015 980 1015.2 981 1016.3 982 1017.9 983 1019.6 984 1021.6 985 1023.3 986 1023.7 987 1023.7 988 1023.9 989 1024.6 990 1025.7 991 1026.1 992 1026.2 993 1024.7 994 1022.4 995 1019.9 996 1017.8 997 1018.8 998 1021.1 999 1023.8 1000 1018.5 1001 1013.2 1002 1017 1003 1019.9 1004 1022.4 1005 1022 1006 1022.7 1007 1023.1 1008 1022.3 1009 1021.8 1010 1022 1011 1022.7 1012 1023.4 1013 1024.6 1014 1025.4 1015 1025 1016 1025.3 1017 1024.8 1018 1022.6 1019 1021.1 1020 1021.4 1021 1024.4 1022 1027 1023 1029.2 1024 1027.9 1025 1027.1 1026 1026.4 1027 1026.6 1028 1026 1029 1024.6 1030 1024.1 1031 1027.7 1032 1030.6 1033 1027.9 1034 1024.8 1035 1024.1 1036 1024.8 1037 1024.6 1038 1023.3 1039 1021.7 1040 1020.1 1041 1019.6 1042 1020.5 1043 1020.8 1044 1019.9 1045 1021.7 1046 1023.6 1047 1025.5 1048 1027.1 1049 1027.1 1050 1027.5 1051 1028 1052 1028.7 1053 1027.7 1054 1027.2 1055 1026.9 1056 1026.3 1057 1025.4 1058 1024.7 1059 1027.4 1060 1028.9 1061 1029.6 1062 1031 1063 1030.1 1064 1029.1 1065 1028.8 1066 1029.2 1067 1029.3 1068 1029 1069 1027.9 1070 1026.6 1071 1024.7 1072 1022.5 1073 1022.2 1074 1022.6 1075 1023.4 1076 1024 1077 1024.2 1078 1024.9 1079 1025.1 1080 1024.1 1081 1023.4 1082 1023.5 1083 1024.2 1084 1024.1 1085 1023.5 1086 1022.6 1087 1021.5 1088 1021.5 1089 1022.5 1090 1022.1 1091 1020.3 1092 1019.1 1093 1017.9 1094 1017.2 1095 1017.5 1096 1017.5 1097 1019.7 1098 1021.7 1099 1024 1100 1026.7 1101 1025.8 1102 1025.4 1103 1024.9 1104 1022.9 1105 1023.4 1106 1024.6 1107 1026.6 1108 1028.5 1109 1026.1 1110 1023.8 1111 1023.8 1112 1023.5 1113 1022.6 1114 1020.9 1115 1020 1116 1021 1117 1022.9 1118 1023.7 1119 1023.5 1120 1022.9 1121 1021.7 1122 1021.9 1123 1023.5 1124 1024.3 1125 1024.1 1126 1023.4 1127 1024.1 1128 1025.3 1129 1028.7 1130 1027.8 1131 1025.8 1132 1023.9 1133 1025.3 1134 1026.4 1135 1028.2 1136 1029.3 1137 1027.7 1138 1026.9 1139 1025.7 1140 1025 1141 1025.1 1142 1024.3 1143 1024.4 1144 1025.6 1145 1026.8 1146 1027.1 1147 1024.5 1148 1021.9 1149 1020 1150 1021.3 1151 1021.7 1152 1022.9 1153 1023.8 1154 1024.2 1155 1024.4 1156 1024.5 1157 1023.5 1158 1023.4 1159 1023.9 1160 1023.2 1161 1022.5 1162 1022.1 1163 1020.8 1164 1019.4 1165 1020.2 1166 1022.1 1167 1022.6 1168 1022.1 1169 1022.8 1170 1024 1171 1025 1172 1025.6 1173 1025.1 1174 1024.2 1175 1023.8 1176 1023.5 1177 1022.8 1178 1023.4 1179 1025.8 1180 1027.5 1181 1027.6 1182 1026.6 1183 1025.3 1184 1025.5 1185 1026.9 1186 1028.2 1187 1027.7 1188 1026.8 1189 1026.5 1190 1026.3 1191 1025.9 1192 1026.2 1193 1023.7 1194 1020.9 1195 1020.6 1196 1020.8 1197 1019.8 1198 1017.9 1199 1015.9 1200 1018.3 1201 1021.2 1202 1024.5 1203 1027.5 1204 1027 1205 1026.8 1206 1026.8 1207 1027.4 1208 1028.9 1209 1029 1210 1028 1211 1026.9 1212 1027.2 1213 1027.5 1214 1025.9 1215 1024 1216 1023 1217 1022.4 1218 1022.4 1219 1023.5 1220 1024.2 1221 1024.2 1222 1023.7 1223 1023.6 1224 1024.9 1225 1024.8 1226 1023.7 1227 1023.2 1228 1022.3 1229 1021.4 1230 1021.5 1231 1024.3 1232 1026.4 1233 1028 1234 1029.9 1235 1029.5 1236 1028.7 1237 1028.6 1238 1028 1239 1025.8 1240 1023.4 1241 1023 1242 1023.6 1243 1024.5 1244 1024.3 1245 1023.7 1246 1023.3 1247 1023.6 1248 1024.6 1249 1025.7 1250 1025.7 1251 1025.5 1252 1025.2 1253 1024.2 1254 1023.3 1255 1023.5 1256 1024.2 1257 1024.6 1258 1023.9 1259 1025 1260 1028.1 1261 1027.6 1262 1025.9 1263 1024.4 1264 1023.6 1265 1022.8 1266 1021.2 1267 1023.1 1268 1024.6 1269 1025.8 1270 1027.9 1271 1029.1 1272 1029.8 1273 1028.4 1274 1027.4 1275 1028.8 1276 1030.1 1277 1029.1 1278 1027.1 1279 1025.2 1280 1024.9 1281 1025.2 1282 1024.2 1283 1022.8 1284 1022 1285 1021.8 1286 1021.5 1287 1021 1288 1020.3 1289 1019.1 1290 1017.8 1291 1017.4 1292 1018.6 1293 1020 1294 1021.6 1295 1022.1 1296 1021.9 1297 1021.9 1298 1022.7 1299 1023.3 1300 1024.8 1301 1025.2 1302 1024.2 1303 1023.3 1304 1022.9 1305 1023.6 1306 1024 1307 1023.8 1308 1023.9 1309 1023.4 1310 1023.3 1311 1022.9 1312 1021.4 1313 1021 1314 1021.4 1315 1021.7 1316 1022.2 1317 1022.9 1318 1024.7 1319 1025.8 1320 1025 1321 1021.5 1322 1019.6 1323 1017.5 1324 1014.5 1325 1016.5 1326 1019.4 1327 1022.4 1328 1024.8 1329 1024.8 1330 1026 1331 1028.6 1332 1029.3 1333 1028.1 1334 1026.7 1335 1022.9 1336 1019.5 1337 1017.5 1338 1017 1339 1021.1 1340 1024.3 1341 1026.2 1342 1028.3 1343 1028.6 1344 1027.9 1345 1026.4 1346 1026.4 1347 1026.9 1348 1026.5 1349 1026 1350 1026.3 1351 1027.6 1352 1027.1 1353 1023.5 1354 1022 1355 1022.1 1356 1021.2 1357 1018.8 1358 1016 1359 1014.5 1360 1014.9 1361 1015.8 1362 1015.8 1363 1014.7 1364 1017.4 1365 1021.9 1366 1027.3 1367 1027.4 1368 1026.2 1369 1025 1370 1023.8 1371 1023.2 1372 1022.1 1373 1021.4 1374 1021.5 1375 1021.3 1376 1020.9 1377 1020.1 1378 1019.8 1379 1021.2 1380 1021.8 1381 1021.8 1382 1021.8 1383 1022.1 1384 1023.8 1385 1025.8 1386 1027.1 1387 1027.9 1388 1028.8 1389 1028.7 1390 1028.8 1391 1029.5 1392 1030.2 1393 1030 1394 1029.1 1395 1028.6 1396 1028.4 1397 1028.3 1398 1028.9 1399 1030 1400 1030.2 1401 1029.2 1402 1028.6 1403 1028.8 1404 1029.3 1405 1029.6 1406 1030.2 1407 1030 1408 1028.3 1409 1026.1 1410 1025 1411 1024.7 1412 1024.9 1413 1025.1 1414 1024.5 1415 1023.9 1416 1023.1 1417 1022.8 1418 1022.9 1419 1022.4 1420 1021.9 1421 1020.1 1422 1019 1423 1018 1424 1016.3 1425 1014.2 1426 1012.4 1427 1011.8 1428 1012.7 1429 1017.9 1430 1022.4 1431 1025 1432 1023.2 1433 1021.8 1434 1021.2 1435 1020.8 1436 1019.6 1437 1019.5 1438 1020.6 1439 1023.1 1440 1024.7 1441 1023 1442 1021.4 1443 1022.5 1444 1024.1 1445 1024 1446 1024 1447 1024.3 1448 1023.9 1449 1023.5 1450 1023.5 1451 1023.5 1452 1024.4 1453 1025.3 1454 1025 1455 1025.4 1456 1025.3 1457 1024.9 1458 1023.1 1459 1022.1 1460 1021.2 1461 1019.8 1462 1018.8" stroke="#ff7f0e" stroke-width="2.4" fill="none" stroke-linejoin="round" stroke-linecap="square"/>
</g>
<rect x="116.5" y="575.5" width="1346.0" height="479.0" fill="none" stroke="#000" stroke-width="1.1"/>
<line x1="116.50" y1="1054.5" x2="116.50" y2="1059.5" stroke="#000" stroke-width="1.1"/>
<line x1="284.75" y1="1054.5" x2="284.75" y2="1059.5" stroke="#000" stroke-width="1.1"/>
<line x1="453.00" y1="1054.5" x2="453.00" y2="1059.5" stroke="#000" stroke-width="1.1"/>
<line x1="621.25" y1="1054.5" x2="621.25" y2="1059.5" stroke="#000" stroke-width="1.1"/>
<line x1="789.50" y1="1054.5" x2="789.50" y2="1059.5" stroke="#000" stroke-width="1.1"/>
<line x1="957.75" y1="1054.5" x2="957.75" y2="1059.5" stroke="#000" stroke-width="1.1"/>
<line x1="1126.00" y1="1054.5" x2="1126.00" y2="1059.5" stroke="#000" stroke-width="1.1"/>
<line x1="1294.25" y1="1054.5" x2="1294.25" y2="1059.5" stroke="#000" stroke-width="1.1"/>
<line x1="111.5" y1="584.70" x2="116.5" y2="584.70" stroke="#000" stroke-width="1.1"/>
<line x1="111.5" y1="641.10" x2="116.5" y2="641.10" stroke="#000" stroke-width="1.1"/>
<line x1="111.5" y1="697.50" x2="116.5" y2="697.50" stroke="#000" stroke-width="1.1"/>
<line x1="111.5" y1="753.90" x2="116.5" y2="753.90" stroke="#000" stroke-width="1.1"/>
<line x1="111.5" y1="810.30" x2="116.5" y2="810.30" stroke="#000" stroke-width="1.1"/>
<line x1="111.5" y1="866.70" x2="116.5" y2="866.70" stroke="#000" stroke-width="1.1"/>
<line x1="111.5" y1="923.10" x2="116.5" y2="923.10" stroke="#000" stroke-width="1.1"/>
<line x1="111.5" y1="979.50" x2="116.5" y2="979.50" stroke="#000" stroke-width="1.1"/>
<line x1="111.5" y1="1035.90" x2="116.5" y2="1035.90" stroke="#000" stroke-width="1.1"/>
<rect x="1046.5" y="48.5" width="406" height="79.69999999999999" rx="4" ry="4" fill="#fff" fill-opacity="0.8" stroke="#cccccc" stroke-width="1"/>
<circle cx="1072.5" cy="63.4" r="3" fill="#1f77b4"/>
<line x1="1053" y1="101.9" x2="1092" y2="101.9" stroke="#ff7f0e" stroke-width="2.1"/>
<text transform="translate(1105.73,69.00) scale(1.1813,1)" font-family="Liberation Sans, sans-serif" font-weight="bold" font-size="18.60" fill="#000" stroke="#000" stroke-width="0.5" stroke-linejoin="round">Raw Data</text>
<text transform="translate(1105.70,95.80) scale(1.2064,1)" font-family="Liberation Sans, sans-serif" font-weight="bold" font-size="18.60" fill="#000" stroke="#000" stroke-width="0.5" stroke-linejoin="round">Butterworth Filtered Data</text>
<text transform="translate(1106.38,116.80) scale(1.2236,1)" font-family="Liberation Sans, sans-serif" font-weight="bold" font-size="18.31" fill="#000" stroke="#000" stroke-width="0.5" stroke-linejoin="round">(N=6, Tc=3.3333 min, Type: low)</text>
<rect x="1046.5" y="584.5" width="406" height="80.79999999999995" rx="4" ry="4" fill="#fff" fill-opacity="0.8" stroke="#cccccc" stroke-width="1"/>
<circle cx="1072.5" cy="599.5" r="3" fill="#1f77b4"/>
<line x1="1053" y1="639.0" x2="1092" y2="639.0" stroke="#ff7f0e" stroke-width="2.1"/>
<text transform="translate(1105.73,605.20) scale(1.1813,1)" font-family="Liberation Sans, sans-serif" font-weight="bold" font-size="18.60" fill="#000" stroke="#000" stroke-width="0.5" stroke-linejoin="round">Raw Data</text>
<text transform="translate(1105.70,633.30) scale(1.2064,1)" font-family="Liberation Sans, sans-serif" font-weight="bold" font-size="18.60" fill="#000" stroke="#000" stroke-width="0.5" stroke-linejoin="round">Butterworth Filtered Data</text>
<text transform="translate(1106.38,653.80) scale(1.2236,1)" font-family="Liberation Sans, sans-serif" font-weight="bold" font-size="18.31" fill="#000" stroke="#000" stroke-width="0.5" stroke-linejoin="round">(N=6, Tc=3.3333 min, Type: low)</text>
<text transform="translate(116.26,29.90) scale(1.1824,1)" font-family="Liberation Sans, sans-serif" font-weight="bold" font-size="27.88" fill="#000" stroke="#000" stroke-width="0.5" stroke-linejoin="round">(a)</text>
<text transform="translate(116.29,566.90) scale(1.1726,1)" font-family="Liberation Sans, sans-serif" font-weight="bold" font-size="27.60" fill="#000" stroke="#000" stroke-width="0.5" stroke-linejoin="round">(b)</text>
<text transform="translate(634.74,30.00) scale(1.1240,1)" font-family="Liberation Sans, sans-serif" font-weight="bold" font-size="29.07" fill="#000" stroke="#000" stroke-width="0.5" stroke-linejoin="round">10.0 MHz N0000047</text>
<text transform="translate(91.41,77.20) scale(1.1055,1)" font-family="Liberation Sans, sans-serif" font-weight="bold" font-size="23.11" fill="#000" stroke="#000" stroke-width="0.5" stroke-linejoin="round">2</text>
<text transform="translate(91.20,177.20) scale(1.0972,1)" font-family="Liberation Sans, sans-serif" font-weight="bold" font-size="23.11" fill="#000" stroke="#000" stroke-width="0.5" stroke-linejoin="round">1</text>
<text transform="translate(89.54,277.20) scale(1.2646,1)" font-family="Liberation Sans, sans-serif" font-weight="bold" font-size="23.11" fill="#000" stroke="#000" stroke-width="0.5" stroke-linejoin="round">0</text>
<text transform="translate(72.71,377.20) scale(1.2405,1)" font-family="Liberation Sans, sans-serif" font-weight="bold" font-size="23.11" fill="#000" stroke="#000" stroke-width="0.5" stroke-linejoin="round">−1</text>
<text transform="translate(72.90,477.20) scale(1.2467,1)" font-family="Liberation Sans, sans-serif" font-weight="bold" font-size="23.11" fill="#000" stroke="#000" stroke-width="0.5" stroke-linejoin="round">−2</text>
<text transform="translate(50.70,1043.70) scale(1.2166,1)" font-family="Liberation Sans, sans-serif" font-weight="bold" font-size="22.82" fill="#000" stroke="#000" stroke-width="0.5" stroke-linejoin="round">0.00</text>
<text transform="translate(50.70,987.30) scale(1.2160,1)" font-family="Liberation Sans, sans-serif" font-weight="bold" font-size="22.82" fill="#000" stroke="#000" stroke-width="0.5" stroke-linejoin="round">0.02</text>
<text transform="translate(50.72,930.90) scale(1.1938,1)" font-family="Liberation Sans, sans-serif" font-weight="bold" font-size="22.82" fill="#000" stroke="#000" stroke-width="0.5" stroke-linejoin="round">0.04</text>
<text transform="translate(50.70,874.50) scale(1.2135,1)" font-family="Liberation Sans, sans-serif" font-weight="bold" font-size="22.82" fill="#000" stroke="#000" stroke-width="0.5" stroke-linejoin="round">0.06</text>
<text transform="translate(50.71,818.10) scale(1.2100,1)" font-family="Liberation Sans, sans-serif" font-weight="bold" font-size="22.82" fill="#000" stroke="#000" stroke-width="0.5" stroke-linejoin="round">0.08</text>
<text transform="translate(50.70,761.70) scale(1.2166,1)" font-family="Liberation Sans, sans-serif" font-weight="bold" font-size="22.82" fill="#000" stroke="#000" stroke-width="0.5" stroke-linejoin="round">0.10</text>
<text transform="translate(50.70,705.30) scale(1.2160,1)" font-family="Liberation Sans, sans-serif" font-weight="bold" font-size="22.82" fill="#000" stroke="#000" stroke-width="0.5" stroke-linejoin="round">0.12</text>
<text transform="translate(50.72,648.90) scale(1.1938,1)" font-family="Liberation Sans, sans-serif" font-weight="bold" font-size="22.82" fill="#000" stroke="#000" stroke-width="0.5" stroke-linejoin="round">0.14</text>
<text transform="translate(50.70,592.50) scale(1.2135,1)" font-family="Liberation Sans, sans-serif" font-weight="bold" font-size="22.82" fill="#000" stroke="#000" stroke-width="0.5" stroke-linejoin="round">0.16</text>
<text transform="translate(61.60,392.20) rotate(-90) scale(1.1123,1)" font-family="Liberation Sans, sans-serif" font-weight="bold" font-size="24.13" stroke="#000" stroke-width="0.5" stroke-linejoin="round">Doppler Shift [Hz]</text>
<text transform="translate(39.80,914.44) rotate(-90) scale(1.1131,1)" font-family="Liberation Sans, sans-serif" font-weight="bold" font-size="23.40" stroke="#000" stroke-width="0.5" stroke-linejoin="round">Peak Voltage [V]</text>
<text transform="translate(17.46,1132.82) rotate(-30) scale(1.2128,1)" font-family="Liberation Sans, sans-serif" font-weight="bold" font-size="22.77" stroke="#000" stroke-width="0.5" stroke-linejoin="round">06-30 00</text>
<text transform="translate(185.71,1132.82) rotate(-30) scale(1.2113,1)" font-family="Liberation Sans, sans-serif" font-weight="bold" font-size="22.77" stroke="#000" stroke-width="0.5" stroke-linejoin="round">06-30 03</text>
<text transform="translate(353.96,1132.82) rotate(-30) scale(1.2113,1)" font-family="Liberation Sans, sans-serif" font-weight="bold" font-size="22.77" stroke="#000" stroke-width="0.5" stroke-linejoin="round">06-30 06</text>
<text transform="translate(522.21,1132.82) rotate(-30) scale(1.2116,1)" font-family="Liberation Sans, sans-serif" font-weight="bold" font-size="22.77" stroke="#000" stroke-width="0.5" stroke-linejoin="round">06-30 09</text>
<text transform="translate(690.46,1132.82) rotate(-30) scale(1.2125,1)" font-family="Liberation Sans, sans-serif" font-weight="bold" font-size="22.77" stroke="#000" stroke-width="0.5" stroke-linejoin="round">06-30 12</text>
<text transform="translate(858.72,1132.81) rotate(-30) scale(1.2087,1)" font-family="Liberation Sans, sans-serif" font-weight="bold" font-size="22.77" stroke="#000" stroke-width="0.5" stroke-linejoin="round">06-30 15</text>
<text transform="translate(1026.97,1132.81) rotate(-30) scale(1.2096,1)" font-family="Liberation Sans, sans-serif" font-weight="bold" font-size="22.77" stroke="#000" stroke-width="0.5" stroke-linejoin="round">06-30 18</text>
<text transform="translate(1195.22,1132.81) rotate(-30) scale(1.2087,1)" font-family="Liberation Sans, sans-serif" font-weight="bold" font-size="22.77" stroke="#000" stroke-width="0.5" stroke-linejoin="round">06-30 21</text>
<text transform="translate(764.38,1157.70) scale(1.0312,1)" font-family="Liberation Sans, sans-serif" font-weight="bold" font-size="22.97" fill="#000" stroke="#000" stroke-width="0.5" stroke-linejoin="round">UTC</text>
<!--TEXT-->
</svg>
</body></html>
